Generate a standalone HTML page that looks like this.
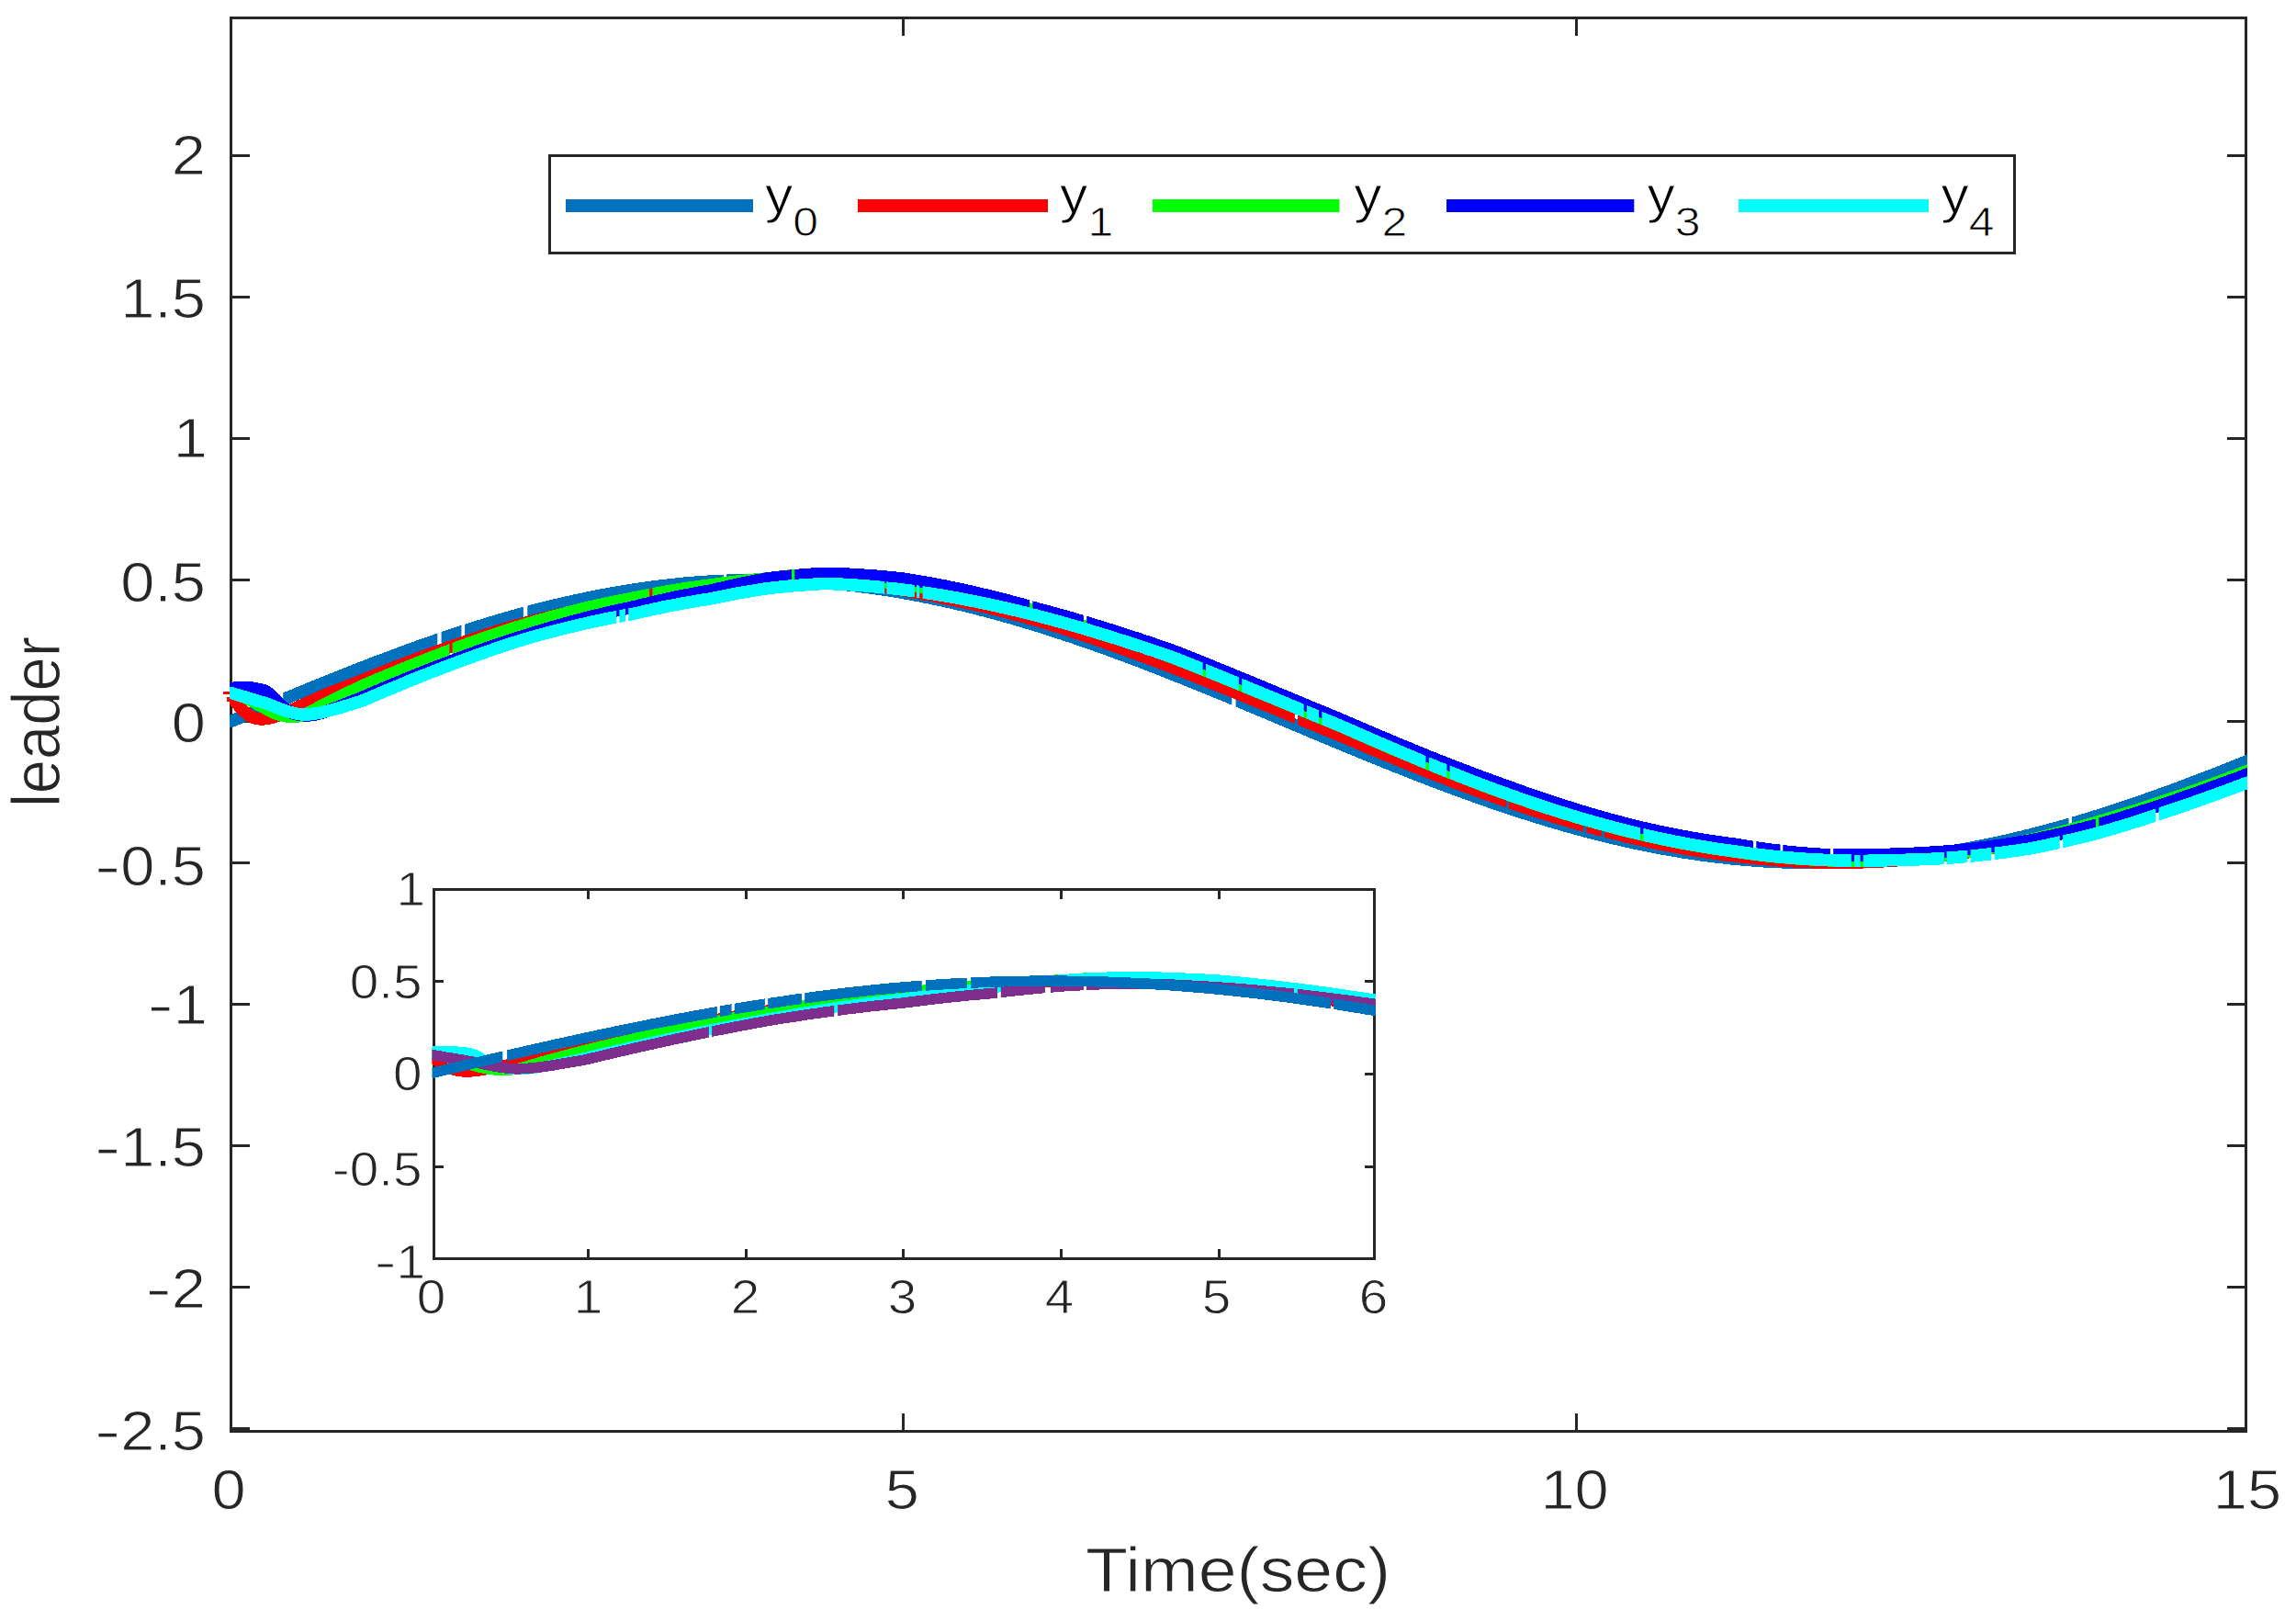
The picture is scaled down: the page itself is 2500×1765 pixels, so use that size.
<!DOCTYPE html>
<html lang="en"><head><meta charset="utf-8"><title>leader - Time(sec)</title>
<style>html,body{margin:0;padding:0;background:#fff}svg{display:block}text{font-family:"Liberation Sans",sans-serif;fill:#262626;stroke:#fff;stroke-width:0.9px}.c{fill:none;stroke-linejoin:round;stroke-linecap:butt}</style></head><body>
<svg width="2500" height="1765" viewBox="0 0 2500 1765">
<rect x="0" y="0" width="2500" height="1765" fill="#ffffff"/>
<defs><clipPath id="cm"><rect x="250" y="21" width="2197" height="1536"/></clipPath><clipPath id="ci"><rect x="470.3" y="970" width="1027.7" height="399"/></clipPath><clipPath id="gm0"><rect x="250.0" y="21" width="54.7" height="1536"/><rect x="308.2" y="21" width="168.1" height="1536"/><rect x="480.6" y="21" width="21.8" height="1536"/><rect x="506.1" y="21" width="63.8" height="1536"/><rect x="574.3" y="21" width="213.6" height="1536"/><rect x="791.2" y="21" width="550.1" height="1536"/><rect x="1345.6" y="21" width="907.0" height="1536"/><rect x="2255.9" y="21" width="191.1" height="1536"/></clipPath><clipPath id="gm1"><rect x="250.0" y="21" width="1159.9" height="1536"/><rect x="1413.1" y="21" width="227.2" height="1536"/><rect x="1642.9" y="21" width="81.1" height="1536"/><rect x="1727.2" y="21" width="16.4" height="1536"/><rect x="1746.8" y="21" width="700.2" height="1536"/></clipPath><clipPath id="gm2"><rect x="250.0" y="21" width="239.4" height="1536"/><rect x="492.6" y="21" width="214.5" height="1536"/><rect x="710.4" y="21" width="1736.6" height="1536"/></clipPath><clipPath id="gm3"><rect x="250.0" y="21" width="612.0" height="1536"/><rect x="865.2" y="21" width="255.9" height="1536"/><rect x="1124.4" y="21" width="55.5" height="1536"/><rect x="1183.2" y="21" width="725.9" height="1536"/><rect x="1912.3" y="21" width="26.2" height="1536"/><rect x="1941.3" y="21" width="51.6" height="1536"/><rect x="1996.2" y="21" width="285.8" height="1536"/><rect x="2285.3" y="21" width="161.7" height="1536"/></clipPath><clipPath id="gm4"><rect x="250.0" y="21" width="421.2" height="1536"/><rect x="674.4" y="21" width="6.6" height="1536"/><rect x="684.2" y="21" width="279.0" height="1536"/><rect x="965.4" y="21" width="30.5" height="1536"/><rect x="998.0" y="21" width="3.3" height="1536"/><rect x="1004.6" y="21" width="305.1" height="1536"/><rect x="1313.0" y="21" width="35.9" height="1536"/><rect x="1352.2" y="21" width="67.5" height="1536"/><rect x="1422.9" y="21" width="13.1" height="1536"/><rect x="1439.3" y="21" width="113.2" height="1536"/><rect x="1555.8" y="21" width="19.6" height="1536"/><rect x="1578.6" y="21" width="207.4" height="1536"/><rect x="1789.3" y="21" width="226.5" height="1536"/><rect x="2019.0" y="21" width="6.6" height="1536"/><rect x="2028.8" y="21" width="88.2" height="1536"/><rect x="2119.6" y="21" width="22.7" height="1536"/><rect x="2145.6" y="21" width="22.8" height="1536"/><rect x="2171.7" y="21" width="71.1" height="1536"/><rect x="2246.1" y="21" width="101.2" height="1536"/><rect x="2350.6" y="21" width="96.4" height="1536"/></clipPath><clipPath id="gi0"><rect x="470.3" y="970" width="77.0" height="399"/><rect x="552.1" y="970" width="228.8" height="399"/><rect x="783.8" y="970" width="12.8" height="399"/><rect x="799.8" y="970" width="33.1" height="399"/><rect x="836.1" y="970" width="36.9" height="399"/><rect x="876.2" y="970" width="127.6" height="399"/><rect x="1008.0" y="970" width="44.9" height="399"/><rect x="1057.1" y="970" width="391.9" height="399"/><rect x="1452.2" y="970" width="45.8" height="399"/></clipPath><clipPath id="gi4"><rect x="470.3" y="970" width="301.6" height="399"/><rect x="775.1" y="970" width="133.2" height="399"/><rect x="912.1" y="970" width="173.9" height="399"/><rect x="1089.8" y="970" width="48.2" height="399"/><rect x="1143.9" y="970" width="36.2" height="399"/><rect x="1182.9" y="970" width="226.0" height="399"/><rect x="1412.8" y="970" width="85.2" height="399"/></clipPath></defs>
<g stroke="#262626" stroke-width="3" fill="none" shape-rendering="crispEdges">
<rect x="251.5" y="19.5" width="2194" height="1539"/>
<line x1="253" y1="169.5" x2="272" y2="169.5"/>
<line x1="2444" y1="169.5" x2="2425" y2="169.5"/>
<line x1="253" y1="323.5" x2="272" y2="323.5"/>
<line x1="2444" y1="323.5" x2="2425" y2="323.5"/>
<line x1="253" y1="477.5" x2="272" y2="477.5"/>
<line x1="2444" y1="477.5" x2="2425" y2="477.5"/>
<line x1="253" y1="631.5" x2="272" y2="631.5"/>
<line x1="2444" y1="631.5" x2="2425" y2="631.5"/>
<line x1="253" y1="785.5" x2="272" y2="785.5"/>
<line x1="2444" y1="785.5" x2="2425" y2="785.5"/>
<line x1="253" y1="939.5" x2="272" y2="939.5"/>
<line x1="2444" y1="939.5" x2="2425" y2="939.5"/>
<line x1="253" y1="1093.5" x2="272" y2="1093.5"/>
<line x1="2444" y1="1093.5" x2="2425" y2="1093.5"/>
<line x1="253" y1="1247.5" x2="272" y2="1247.5"/>
<line x1="2444" y1="1247.5" x2="2425" y2="1247.5"/>
<line x1="253" y1="1401.5" x2="272" y2="1401.5"/>
<line x1="2444" y1="1401.5" x2="2425" y2="1401.5"/>
<line x1="253" y1="1555.5" x2="272" y2="1555.5"/>
<line x1="2444" y1="1555.5" x2="2425" y2="1555.5"/>
<line x1="983.7" y1="1557" x2="983.7" y2="1539"/>
<line x1="983.7" y1="21" x2="983.7" y2="39"/>
<line x1="1716.3" y1="1557" x2="1716.3" y2="1539"/>
<line x1="1716.3" y1="21" x2="1716.3" y2="39"/>
</g>
<g stroke="#262626" stroke-width="3" fill="none" shape-rendering="crispEdges">
<rect x="472" y="968.2" width="1024.5" height="402.4" fill="#ffffff"/>
<line x1="473.5" y1="1068.8" x2="483" y2="1068.8"/>
<line x1="1495" y1="1068.8" x2="1485.5" y2="1068.8"/>
<line x1="473.5" y1="1169.4" x2="483" y2="1169.4"/>
<line x1="1495" y1="1169.4" x2="1485.5" y2="1169.4"/>
<line x1="473.5" y1="1270.0" x2="483" y2="1270.0"/>
<line x1="1495" y1="1270.0" x2="1485.5" y2="1270.0"/>
<line x1="640.5" y1="1369" x2="640.5" y2="1360"/>
<line x1="640.5" y1="970" x2="640.5" y2="979"/>
<line x1="812.1" y1="1369" x2="812.1" y2="1360"/>
<line x1="812.1" y1="970" x2="812.1" y2="979"/>
<line x1="983.8" y1="1369" x2="983.8" y2="1360"/>
<line x1="983.8" y1="970" x2="983.8" y2="979"/>
<line x1="1155.4" y1="1369" x2="1155.4" y2="1360"/>
<line x1="1155.4" y1="970" x2="1155.4" y2="979"/>
<line x1="1327.0" y1="1369" x2="1327.0" y2="1360"/>
<line x1="1327.0" y1="970" x2="1327.0" y2="979"/>
</g>
<g clip-path="url(#cm)" shape-rendering="crispEdges" stroke="none">
<polygon fill="#0072BD" clip-path="url(#gm0)" points="248.4,792.2 252.7,792.1 256.8,790.5 259.8,789.3 262.7,788.0 265.6,786.8 268.6,785.6 271.5,784.3 274.4,783.1 277.3,781.9 280.3,780.6 283.2,779.4 286.1,778.2 289.0,777.0 292.0,775.7 294.9,774.5 297.8,773.3 300.7,772.1 303.7,770.9 306.6,769.6 309.5,768.4 312.4,767.2 315.4,766.0 318.3,764.8 321.2,763.6 324.1,762.4 327.1,761.1 330.0,759.9 332.9,758.7 335.8,757.5 338.8,756.3 341.7,755.1 344.6,753.9 347.5,752.8 350.5,751.6 353.4,750.4 356.3,749.2 359.2,748.0 362.2,746.8 365.1,745.7 368.0,744.5 370.9,743.3 373.8,742.2 376.8,741.0 379.7,739.8 382.6,738.7 385.5,737.5 388.5,736.4 391.4,735.2 394.3,734.1 397.2,733.0 400.1,731.8 403.1,730.7 406.0,729.6 408.9,728.4 411.8,727.3 414.7,726.2 417.7,725.1 420.6,724.0 423.5,722.9 426.4,721.8 429.3,720.7 432.3,719.6 435.2,718.5 438.1,717.5 441.0,716.4 443.9,715.3 446.9,714.3 449.8,713.2 452.7,712.1 455.6,711.1 458.5,710.1 461.4,709.0 464.4,708.0 467.3,707.0 470.2,705.9 473.1,704.9 476.0,703.9 478.9,702.9 481.9,701.9 484.8,700.9 487.7,699.9 490.6,698.9 493.5,698.0 496.4,697.0 499.4,696.0 502.3,695.1 505.2,694.1 508.1,693.2 511.0,692.2 513.9,691.3 516.9,690.4 519.8,689.5 522.7,688.6 525.6,687.7 528.5,686.8 531.4,685.9 534.3,685.0 537.3,684.1 540.2,683.2 543.1,682.4 546.0,681.5 548.9,680.7 551.8,679.8 554.7,679.0 557.7,678.1 560.6,677.3 563.5,676.5 566.4,675.7 569.3,674.9 572.2,674.1 575.1,673.3 578.0,672.5 581.0,671.8 583.9,671.0 586.8,670.3 589.7,669.5 592.6,668.8 595.5,668.0 598.4,667.3 601.3,666.6 604.2,665.9 607.2,665.2 610.1,664.5 613.0,663.8 615.9,663.2 618.8,662.5 621.7,661.8 624.6,661.2 627.5,660.5 630.4,659.9 633.3,659.3 636.3,658.7 639.2,658.1 642.1,657.5 645.0,656.9 647.9,656.3 650.8,655.7 653.7,655.2 656.6,654.6 659.5,654.1 662.4,653.5 665.3,653.0 668.3,652.5 671.2,652.0 674.1,651.5 677.0,651.0 679.9,650.5 682.8,650.0 685.7,649.5 688.6,649.1 691.5,648.6 694.4,648.2 697.3,647.8 700.2,647.4 703.1,646.9 706.1,646.5 709.0,646.1 711.9,645.8 714.8,645.4 717.7,645.0 720.6,644.7 723.5,644.3 726.4,644.0 729.3,643.7 732.2,643.3 735.1,643.0 738.0,642.7 740.9,642.4 743.8,642.2 746.7,641.9 749.7,641.6 752.6,641.4 755.5,641.1 758.4,640.9 761.3,640.7 764.2,640.5 767.1,640.3 770.0,640.1 772.9,639.9 775.8,639.7 778.7,639.6 781.6,639.4 784.5,639.3 787.4,639.1 790.3,639.0 793.2,638.9 796.1,638.8 799.0,638.7 802.0,638.6 804.9,638.5 807.8,638.4 810.7,638.4 813.6,638.3 816.5,638.3 819.4,638.3 822.3,638.3 825.2,638.3 828.1,638.3 831.0,638.3 833.9,638.3 836.8,638.3 839.7,638.4 842.6,638.4 845.5,638.5 848.4,638.5 851.3,638.6 854.2,638.7 857.2,638.8 860.1,638.9 863.0,639.0 865.9,639.2 868.8,639.3 871.7,639.4 874.6,639.6 877.5,639.8 880.4,639.9 883.3,640.1 886.2,640.3 889.1,640.5 892.0,640.8 894.9,641.0 897.8,641.2 900.7,641.5 903.6,641.7 906.6,642.0 909.5,642.2 912.4,642.5 915.3,642.8 918.2,643.1 921.1,643.4 924.0,643.8 926.9,644.1 929.8,644.4 932.7,644.8 935.6,645.1 938.5,645.5 941.4,645.9 944.3,646.3 947.2,646.7 950.2,647.1 953.1,647.5 956.0,647.9 958.9,648.3 961.8,648.8 964.7,649.2 967.6,649.7 970.5,650.2 973.4,650.6 976.3,651.1 979.2,651.6 982.1,652.1 985.0,652.6 988.0,653.2 990.9,653.7 993.8,654.2 996.7,654.8 999.6,655.3 1002.5,655.9 1005.4,656.5 1008.3,657.1 1011.2,657.6 1014.1,658.3 1017.0,658.9 1020.0,659.5 1022.9,660.1 1025.8,660.7 1028.7,661.4 1031.6,662.0 1034.5,662.7 1037.4,663.4 1040.3,664.0 1043.2,664.7 1046.1,665.4 1049.1,666.1 1052.0,666.8 1054.9,667.5 1057.8,668.3 1060.7,669.0 1063.6,669.7 1066.5,670.5 1069.4,671.2 1072.3,672.0 1075.3,672.8 1078.2,673.6 1081.1,674.3 1084.0,675.1 1086.9,675.9 1089.8,676.8 1092.7,677.6 1095.6,678.4 1098.6,679.2 1101.5,680.1 1104.4,680.9 1107.3,681.8 1110.2,682.6 1113.1,683.5 1116.0,684.4 1119.0,685.2 1121.9,686.1 1124.8,687.0 1127.7,687.9 1130.6,688.8 1133.5,689.7 1136.4,690.7 1139.4,691.6 1142.3,692.5 1145.2,693.5 1148.1,694.4 1151.0,695.4 1153.9,696.3 1156.9,697.3 1159.8,698.3 1162.7,699.2 1165.6,700.2 1168.5,701.2 1171.4,702.2 1174.4,703.2 1177.3,704.2 1180.2,705.2 1183.1,706.2 1186.0,707.3 1188.9,708.3 1191.9,709.3 1194.8,710.4 1197.7,711.4 1200.6,712.5 1203.5,713.5 1206.4,714.6 1209.4,715.6 1212.3,716.7 1215.2,717.8 1218.1,718.9 1221.0,719.9 1224.0,721.0 1226.9,722.1 1229.8,723.2 1232.7,724.3 1235.6,725.4 1238.6,726.5 1241.5,727.7 1244.4,728.8 1247.3,729.9 1250.2,731.0 1253.2,732.2 1256.1,733.3 1259.0,734.4 1261.9,735.6 1264.8,736.7 1267.8,737.9 1270.7,739.0 1273.6,740.2 1276.5,741.3 1279.5,742.5 1282.4,743.7 1285.3,744.8 1288.2,746.0 1291.1,747.2 1294.1,748.4 1297.0,749.6 1299.9,750.7 1302.8,751.9 1305.8,753.1 1308.7,754.3 1311.6,755.5 1314.5,756.7 1317.5,757.9 1320.4,759.1 1323.3,760.3 1326.2,761.5 1329.2,762.7 1332.1,763.9 1335.0,765.1 1337.9,766.3 1340.9,767.6 1343.8,768.8 1346.7,770.0 1349.6,771.2 1352.6,772.4 1355.5,773.7 1358.4,774.9 1361.3,776.1 1364.3,777.3 1367.2,778.6 1370.1,779.8 1373.0,781.0 1376.0,782.2 1378.9,783.5 1381.8,784.7 1384.7,785.9 1387.7,787.2 1390.6,788.4 1393.5,789.6 1396.5,790.9 1399.4,792.1 1402.3,793.3 1405.2,794.6 1408.2,795.8 1411.1,797.0 1414.0,798.3 1417.0,799.5 1419.9,800.7 1422.8,801.9 1425.7,803.2 1428.7,804.4 1431.6,805.6 1434.5,806.9 1437.5,808.1 1440.4,809.3 1443.3,810.5 1446.3,811.8 1449.2,813.0 1452.1,814.2 1455.0,815.4 1458.0,816.6 1460.9,817.9 1463.8,819.1 1466.8,820.3 1469.7,821.5 1472.6,822.7 1475.6,823.9 1478.5,825.1 1481.4,826.3 1484.4,827.5 1487.3,828.7 1490.2,829.9 1493.2,831.1 1496.1,832.3 1499.0,833.5 1502.0,834.7 1504.9,835.9 1507.8,837.0 1510.8,838.2 1513.7,839.4 1516.6,840.6 1519.6,841.7 1522.5,842.9 1525.4,844.1 1528.4,845.2 1531.3,846.4 1534.2,847.5 1537.2,848.7 1540.1,849.8 1543.0,851.0 1546.0,852.1 1548.9,853.2 1551.8,854.4 1554.8,855.5 1557.7,856.6 1560.6,857.7 1563.6,858.9 1566.5,860.0 1569.5,861.1 1572.4,862.2 1575.3,863.3 1578.3,864.4 1581.2,865.4 1584.1,866.5 1587.1,867.6 1590.0,868.7 1592.9,869.8 1595.9,870.8 1598.8,871.9 1601.8,872.9 1604.7,874.0 1607.6,875.0 1610.6,876.1 1613.5,877.1 1616.5,878.1 1619.4,879.1 1622.3,880.2 1625.3,881.2 1628.2,882.2 1631.1,883.2 1634.1,884.2 1637.0,885.1 1640.0,886.1 1642.9,887.1 1645.8,888.1 1648.8,889.0 1651.7,890.0 1654.7,890.9 1657.6,891.9 1660.6,892.8 1663.5,893.8 1666.4,894.7 1669.4,895.6 1672.3,896.5 1675.3,897.4 1678.2,898.3 1681.1,899.2 1684.1,900.1 1687.0,901.0 1690.0,901.8 1692.9,902.7 1695.9,903.6 1698.8,904.4 1701.7,905.3 1704.7,906.1 1707.6,906.9 1710.6,907.7 1713.5,908.6 1716.5,909.4 1719.4,910.2 1722.3,911.0 1725.3,911.7 1728.2,912.5 1731.2,913.3 1734.1,914.0 1737.1,914.8 1740.0,915.5 1743.0,916.3 1745.9,917.0 1748.8,917.7 1751.8,918.4 1754.7,919.1 1757.7,919.8 1760.6,920.5 1763.6,921.2 1766.5,921.9 1769.5,922.5 1772.4,923.2 1775.4,923.8 1778.3,924.5 1781.2,925.1 1784.2,925.7 1787.1,926.3 1790.1,926.9 1793.0,927.5 1796.0,928.1 1798.9,928.7 1801.9,929.3 1804.8,929.8 1807.8,930.4 1810.7,930.9 1813.7,931.5 1816.6,932.0 1819.6,932.5 1822.5,933.0 1825.5,933.5 1828.4,934.0 1831.3,934.5 1834.3,934.9 1837.2,935.4 1840.2,935.8 1843.1,936.3 1846.1,936.7 1849.0,937.1 1852.0,937.6 1854.9,938.0 1857.9,938.4 1860.8,938.7 1863.8,939.1 1866.7,939.5 1869.7,939.8 1872.6,940.2 1875.6,940.5 1878.5,940.9 1881.5,941.2 1884.4,941.5 1887.4,941.8 1890.3,942.1 1893.3,942.4 1896.2,942.6 1899.2,942.9 1902.1,943.1 1905.1,943.4 1908.0,943.6 1911.0,943.8 1913.9,944.1 1916.9,944.3 1919.8,944.5 1922.8,944.6 1925.7,944.8 1928.7,945.0 1931.6,945.1 1934.6,945.3 1937.5,945.4 1940.5,945.5 1943.4,945.6 1946.4,945.7 1949.3,945.8 1952.3,945.9 1955.2,946.0 1958.2,946.1 1961.1,946.1 1964.1,946.2 1967.0,946.2 1970.0,946.2 1972.9,946.2 1975.9,946.2 1978.8,946.2 1981.8,946.2 1984.7,946.2 1987.7,946.2 1990.6,946.1 1993.6,946.1 1996.5,946.0 1999.5,945.9 2002.4,945.9 2005.4,945.8 2008.3,945.7 2011.3,945.5 2014.2,945.4 2017.2,945.3 2020.2,945.1 2023.1,945.0 2026.1,944.8 2029.0,944.7 2032.0,944.5 2034.9,944.3 2037.9,944.1 2040.8,943.9 2043.8,943.6 2046.7,943.4 2049.7,943.2 2052.6,942.9 2055.6,942.7 2058.5,942.4 2061.5,942.1 2064.4,941.8 2067.4,941.5 2070.3,941.2 2073.3,940.9 2076.2,940.6 2079.2,940.2 2082.1,939.9 2085.0,939.5 2088.0,939.2 2090.9,938.8 2093.9,938.4 2096.8,938.0 2099.8,937.6 2102.7,937.2 2105.7,936.8 2108.6,936.3 2111.6,935.9 2114.5,935.4 2117.5,935.0 2120.4,934.5 2123.4,934.0 2126.3,933.5 2129.3,933.0 2132.2,932.5 2135.2,932.0 2138.1,931.5 2141.1,931.0 2144.0,930.4 2147.0,929.9 2149.9,929.3 2152.9,928.8 2155.8,928.2 2158.8,927.6 2161.7,927.0 2164.6,926.4 2167.6,925.8 2170.5,925.2 2173.5,924.5 2176.4,923.9 2179.4,923.3 2182.3,922.6 2185.3,921.9 2188.2,921.3 2191.2,920.6 2194.1,919.9 2197.1,919.2 2200.0,918.5 2202.9,917.8 2205.9,917.1 2208.8,916.3 2211.8,915.6 2214.7,914.9 2217.7,914.1 2220.6,913.4 2223.6,912.6 2226.5,911.8 2229.4,911.0 2232.4,910.2 2235.3,909.4 2238.3,908.6 2241.2,907.8 2244.2,907.0 2247.1,906.2 2250.0,905.3 2253.0,904.5 2255.9,903.6 2258.9,902.8 2261.8,901.9 2264.8,901.1 2267.7,900.2 2270.6,899.3 2273.6,898.4 2276.5,897.5 2279.5,896.6 2282.4,895.7 2285.3,894.8 2288.3,893.9 2291.2,892.9 2294.2,892.0 2297.1,891.0 2300.1,890.1 2303.0,889.1 2305.9,888.2 2308.9,887.2 2311.8,886.2 2314.8,885.2 2317.7,884.3 2320.6,883.3 2323.6,882.3 2326.5,881.3 2329.5,880.3 2332.4,879.2 2335.3,878.2 2338.3,877.2 2341.2,876.2 2344.1,875.1 2347.1,874.1 2350.0,873.0 2353.0,872.0 2355.9,870.9 2358.8,869.9 2361.8,868.8 2364.7,867.7 2367.6,866.6 2370.6,865.6 2373.5,864.5 2376.5,863.4 2379.4,862.3 2382.3,861.2 2385.3,860.1 2388.2,859.0 2391.1,857.8 2394.1,856.7 2397.0,855.6 2399.9,854.5 2402.9,853.4 2405.8,852.2 2408.8,851.1 2411.7,849.9 2414.6,848.8 2417.6,847.6 2420.5,846.5 2423.4,845.3 2426.4,844.2 2429.3,843.0 2432.2,841.8 2435.2,840.7 2438.1,839.5 2441.0,838.3 2444.0,837.2 2446.9,836.0 2449.8,834.8 2452.8,833.6 2455.7,832.4 2458.6,831.2 2461.6,830.0 2464.5,828.8 2459.4,816.3 2456.5,817.5 2453.5,818.7 2450.6,819.9 2447.7,821.1 2444.8,822.3 2441.8,823.5 2438.9,824.6 2436.0,825.8 2433.1,827.0 2430.2,828.1 2427.2,829.3 2424.3,830.5 2421.4,831.6 2418.5,832.8 2415.5,833.9 2412.6,835.1 2409.7,836.2 2406.8,837.4 2403.9,838.5 2400.9,839.6 2398.0,840.8 2395.1,841.9 2392.2,843.0 2389.3,844.1 2386.3,845.2 2383.4,846.3 2380.5,847.4 2377.6,848.5 2374.7,849.6 2371.7,850.7 2368.8,851.8 2365.9,852.9 2363.0,854.0 2360.1,855.0 2357.1,856.1 2354.2,857.2 2351.3,858.2 2348.4,859.3 2345.5,860.3 2342.6,861.4 2339.6,862.4 2336.7,863.4 2333.8,864.4 2330.9,865.5 2328.0,866.5 2325.1,867.5 2322.1,868.5 2319.2,869.5 2316.3,870.5 2313.4,871.5 2310.5,872.4 2307.6,873.4 2304.6,874.4 2301.7,875.3 2298.8,876.3 2295.9,877.2 2293.0,878.2 2290.1,879.1 2287.1,880.1 2284.2,881.0 2281.3,881.9 2278.4,882.8 2275.5,883.7 2272.6,884.6 2269.7,885.5 2266.7,886.4 2263.8,887.2 2260.9,888.1 2258.0,889.0 2255.1,889.8 2252.2,890.7 2249.3,891.5 2246.3,892.4 2243.4,893.2 2240.5,894.0 2237.6,894.8 2234.7,895.6 2231.8,896.4 2228.9,897.2 2226.0,898.0 2223.0,898.8 2220.1,899.5 2217.2,900.3 2214.3,901.0 2211.4,901.8 2208.5,902.5 2205.6,903.2 2202.7,904.0 2199.8,904.7 2196.8,905.4 2193.9,906.1 2191.0,906.8 2188.1,907.4 2185.2,908.1 2182.3,908.8 2179.4,909.4 2176.5,910.1 2173.6,910.7 2170.7,911.3 2167.7,912.0 2164.8,912.6 2161.9,913.2 2159.0,913.8 2156.1,914.4 2153.2,914.9 2150.3,915.5 2147.4,916.1 2144.5,916.6 2141.6,917.2 2138.7,917.7 2135.7,918.2 2132.8,918.7 2129.9,919.2 2127.0,919.7 2124.1,920.2 2121.2,920.7 2118.3,921.2 2115.4,921.6 2112.5,922.1 2109.6,922.5 2106.7,923.0 2103.8,923.4 2100.8,923.8 2097.9,924.2 2095.0,924.6 2092.1,925.0 2089.2,925.4 2086.3,925.8 2083.4,926.1 2080.5,926.5 2077.6,926.8 2074.7,927.1 2071.8,927.5 2068.9,927.8 2066.0,928.1 2063.1,928.4 2060.2,928.7 2057.2,928.9 2054.3,929.2 2051.4,929.5 2048.5,929.7 2045.6,930.0 2042.7,930.2 2039.8,930.4 2036.9,930.6 2034.0,930.8 2031.1,931.0 2028.2,931.2 2025.3,931.3 2022.4,931.5 2019.5,931.7 2016.6,931.8 2013.7,931.9 2010.8,932.1 2007.9,932.2 2004.9,932.3 2002.0,932.4 1999.1,932.4 1996.2,932.5 1993.3,932.6 1990.4,932.6 1987.5,932.7 1984.6,932.7 1981.7,932.7 1978.8,932.7 1975.9,932.7 1973.0,932.7 1970.1,932.7 1967.2,932.7 1964.3,932.7 1961.4,932.6 1958.5,932.6 1955.6,932.5 1952.7,932.4 1949.7,932.3 1946.8,932.3 1943.9,932.2 1941.0,932.0 1938.1,931.9 1935.2,931.8 1932.3,931.6 1929.4,931.5 1926.5,931.3 1923.6,931.2 1920.7,931.0 1917.8,930.8 1914.9,930.6 1912.0,930.4 1909.1,930.2 1906.2,929.9 1903.3,929.7 1900.3,929.4 1897.4,929.2 1894.5,928.9 1891.6,928.6 1888.7,928.4 1885.8,928.1 1882.9,927.8 1880.0,927.4 1877.1,927.1 1874.2,926.8 1871.3,926.4 1868.4,926.1 1865.5,925.7 1862.6,925.4 1859.7,925.0 1856.8,924.6 1853.8,924.2 1850.9,923.8 1848.0,923.4 1845.1,922.9 1842.2,922.5 1839.3,922.0 1836.4,921.6 1833.5,921.1 1830.6,920.7 1827.7,920.2 1824.8,919.7 1821.9,919.2 1819.0,918.7 1816.0,918.2 1813.1,917.6 1810.2,917.1 1807.3,916.6 1804.4,916.0 1801.5,915.4 1798.6,914.9 1795.7,914.3 1792.8,913.7 1789.9,913.1 1787.0,912.5 1784.0,911.9 1781.1,911.3 1778.2,910.6 1775.3,910.0 1772.4,909.4 1769.5,908.7 1766.6,908.0 1763.7,907.4 1760.8,906.7 1757.9,906.0 1754.9,905.3 1752.0,904.6 1749.1,903.9 1746.2,903.2 1743.3,902.4 1740.4,901.7 1737.5,901.0 1734.6,900.2 1731.7,899.5 1728.7,898.7 1725.8,897.9 1722.9,897.1 1720.0,896.3 1717.1,895.5 1714.2,894.7 1711.3,893.9 1708.4,893.1 1705.4,892.3 1702.5,891.4 1699.6,890.6 1696.7,889.8 1693.8,888.9 1690.9,888.0 1688.0,887.2 1685.0,886.3 1682.1,885.4 1679.2,884.5 1676.3,883.6 1673.4,882.7 1670.5,881.8 1667.6,880.9 1664.6,880.0 1661.7,879.0 1658.8,878.1 1655.9,877.2 1653.0,876.2 1650.1,875.3 1647.1,874.3 1644.2,873.3 1641.3,872.3 1638.4,871.4 1635.5,870.4 1632.6,869.4 1629.6,868.4 1626.7,867.4 1623.8,866.4 1620.9,865.4 1618.0,864.3 1615.1,863.3 1612.1,862.3 1609.2,861.3 1606.3,860.2 1603.4,859.2 1600.5,858.1 1597.6,857.1 1594.6,856.0 1591.7,854.9 1588.8,853.9 1585.9,852.8 1583.0,851.7 1580.0,850.6 1577.1,849.5 1574.2,848.4 1571.3,847.3 1568.4,846.2 1565.4,845.1 1562.5,844.0 1559.6,842.9 1556.7,841.8 1553.8,840.6 1550.8,839.5 1547.9,838.4 1545.0,837.2 1542.1,836.1 1539.2,835.0 1536.2,833.8 1533.3,832.7 1530.4,831.5 1527.5,830.4 1524.5,829.2 1521.6,828.0 1518.7,826.9 1515.8,825.7 1512.9,824.5 1509.9,823.3 1507.0,822.2 1504.1,821.0 1501.2,819.8 1498.2,818.6 1495.3,817.4 1492.4,816.2 1489.5,815.0 1486.5,813.8 1483.6,812.6 1480.7,811.4 1477.8,810.2 1474.9,809.0 1471.9,807.8 1469.0,806.6 1466.1,805.4 1463.2,804.2 1460.2,803.0 1457.3,801.7 1454.4,800.5 1451.5,799.3 1448.5,798.1 1445.6,796.9 1442.7,795.6 1439.7,794.4 1436.8,793.2 1433.9,792.0 1431.0,790.7 1428.0,789.5 1425.1,788.3 1422.2,787.0 1419.3,785.8 1416.3,784.6 1413.4,783.3 1410.5,782.1 1407.5,780.9 1404.6,779.6 1401.7,778.4 1398.8,777.2 1395.8,776.0 1392.9,774.7 1390.0,773.5 1387.1,772.3 1384.1,771.0 1381.2,769.8 1378.3,768.6 1375.3,767.3 1372.4,766.1 1369.5,764.9 1366.5,763.7 1363.6,762.4 1360.7,761.2 1357.8,760.0 1354.8,758.8 1351.9,757.5 1349.0,756.3 1346.0,755.1 1343.1,753.9 1340.2,752.7 1337.2,751.5 1334.3,750.2 1331.4,749.0 1328.4,747.8 1325.5,746.6 1322.6,745.4 1319.7,744.2 1316.7,743.0 1313.8,741.8 1310.9,740.6 1307.9,739.4 1305.0,738.2 1302.1,737.0 1299.1,735.9 1296.2,734.7 1293.3,733.5 1290.3,732.3 1287.4,731.1 1284.5,730.0 1281.5,728.8 1278.6,727.6 1275.7,726.5 1272.7,725.3 1269.8,724.2 1266.9,723.0 1263.9,721.9 1261.0,720.7 1258.0,719.6 1255.1,718.4 1252.2,717.3 1249.2,716.2 1246.3,715.1 1243.4,713.9 1240.4,712.8 1237.5,711.7 1234.6,710.6 1231.6,709.5 1228.7,708.4 1225.8,707.3 1222.8,706.2 1219.9,705.1 1216.9,704.0 1214.0,703.0 1211.1,701.9 1208.1,700.8 1205.2,699.8 1202.3,698.7 1199.3,697.7 1196.4,696.6 1193.4,695.6 1190.5,694.5 1187.6,693.5 1184.6,692.5 1181.7,691.5 1178.7,690.4 1175.8,689.4 1172.9,688.4 1169.9,687.4 1167.0,686.4 1164.0,685.5 1161.1,684.5 1158.2,683.5 1155.2,682.5 1152.3,681.6 1149.3,680.6 1146.4,679.7 1143.5,678.7 1140.5,677.8 1137.6,676.9 1134.6,675.9 1131.7,675.0 1128.8,674.1 1125.8,673.2 1122.9,672.3 1119.9,671.4 1117.0,670.6 1114.0,669.7 1111.1,668.8 1108.2,667.9 1105.2,667.1 1102.3,666.2 1099.3,665.4 1096.4,664.6 1093.5,663.8 1090.5,662.9 1087.6,662.1 1084.6,661.3 1081.7,660.5 1078.7,659.7 1075.8,659.0 1072.8,658.2 1069.9,657.4 1067.0,656.7 1064.0,655.9 1061.1,655.2 1058.1,654.4 1055.2,653.7 1052.2,653.0 1049.3,652.3 1046.3,651.6 1043.4,650.9 1040.5,650.2 1037.5,649.5 1034.6,648.9 1031.6,648.2 1028.7,647.6 1025.7,646.9 1022.8,646.3 1019.8,645.7 1016.9,645.0 1013.9,644.4 1011.0,643.8 1008.0,643.2 1005.1,642.7 1002.1,642.1 999.2,641.5 996.3,641.0 993.3,640.4 990.4,639.9 987.4,639.3 984.5,638.8 981.5,638.3 978.6,637.8 975.6,637.3 972.7,636.8 969.7,636.4 966.8,635.9 963.8,635.4 960.9,635.0 957.9,634.5 955.0,634.1 952.0,633.7 949.1,633.3 946.1,632.9 943.2,632.5 940.2,632.1 937.3,631.7 934.3,631.4 931.4,631.0 928.4,630.7 925.5,630.3 922.5,630.0 919.6,629.7 916.6,629.4 913.7,629.1 910.7,628.8 907.8,628.5 904.8,628.3 901.9,628.0 898.9,627.8 896.0,627.5 893.0,627.3 890.1,627.1 887.1,626.9 884.2,626.7 881.2,626.5 878.3,626.3 875.3,626.1 872.4,626.0 869.4,625.8 866.5,625.7 863.5,625.5 860.6,625.4 857.6,625.3 854.7,625.2 851.7,625.1 848.8,625.0 845.8,625.0 842.9,624.9 839.9,624.9 837.0,624.8 834.0,624.8 831.1,624.8 828.1,624.8 825.2,624.8 822.2,624.8 819.3,624.8 816.3,624.8 813.4,624.8 810.4,624.9 807.5,625.0 804.5,625.0 801.6,625.1 798.6,625.2 795.7,625.3 792.7,625.4 789.8,625.5 786.8,625.6 783.9,625.8 780.9,625.9 778.0,626.1 775.0,626.2 772.1,626.4 769.1,626.6 766.2,626.8 763.2,627.0 760.3,627.2 757.3,627.4 754.4,627.7 751.4,627.9 748.5,628.2 745.5,628.4 742.6,628.7 739.6,629.0 736.7,629.3 733.7,629.6 730.8,629.9 727.8,630.2 724.9,630.6 721.9,630.9 719.0,631.3 716.0,631.6 713.1,632.0 710.1,632.4 707.2,632.8 704.2,633.2 701.3,633.6 698.3,634.0 695.4,634.4 692.4,634.8 689.5,635.3 686.5,635.7 683.6,636.2 680.6,636.7 677.7,637.2 674.7,637.7 671.8,638.2 668.8,638.7 665.9,639.2 663.0,639.7 660.0,640.2 657.1,640.8 654.1,641.3 651.2,641.9 648.2,642.5 645.3,643.1 642.3,643.6 639.4,644.2 636.4,644.8 633.5,645.5 630.5,646.1 627.6,646.7 624.6,647.4 621.7,648.0 618.7,648.7 615.8,649.3 612.9,650.0 609.9,650.7 607.0,651.4 604.0,652.1 601.1,652.8 598.1,653.5 595.2,654.2 592.2,655.0 589.3,655.7 586.4,656.4 583.4,657.2 580.5,658.0 577.5,658.7 574.6,659.5 571.6,660.3 568.7,661.1 565.7,661.9 562.8,662.7 559.9,663.5 556.9,664.3 554.0,665.2 551.0,666.0 548.1,666.8 545.1,667.7 542.2,668.5 539.3,669.4 536.3,670.3 533.4,671.2 530.4,672.1 527.5,672.9 524.5,673.9 521.6,674.8 518.7,675.7 515.7,676.6 512.8,677.5 509.8,678.5 506.9,679.4 504.0,680.3 501.0,681.3 498.1,682.3 495.1,683.2 492.2,684.2 489.3,685.2 486.3,686.1 483.4,687.1 480.4,688.1 477.5,689.1 474.6,690.1 471.6,691.2 468.7,692.2 465.7,693.2 462.8,694.2 459.9,695.3 456.9,696.3 454.0,697.3 451.1,698.4 448.1,699.4 445.2,700.5 442.2,701.6 439.3,702.6 436.4,703.7 433.4,704.8 430.5,705.9 427.6,707.0 424.6,708.1 421.7,709.2 418.7,710.3 415.8,711.4 412.9,712.5 409.9,713.6 407.0,714.7 404.1,715.8 401.1,717.0 398.2,718.1 395.3,719.2 392.3,720.4 389.4,721.5 386.5,722.7 383.5,723.8 380.6,725.0 377.7,726.1 374.7,727.3 371.8,728.5 368.9,729.6 365.9,730.8 363.0,732.0 360.0,733.1 357.1,734.3 354.2,735.5 351.2,736.7 348.3,737.9 345.4,739.1 342.5,740.3 339.5,741.4 336.6,742.6 333.7,743.8 330.7,745.0 327.8,746.3 324.9,747.5 321.9,748.7 319.0,749.9 316.1,751.1 313.1,752.3 310.2,753.5 307.3,754.7 304.3,755.9 301.4,757.2 298.5,758.4 295.5,759.6 292.6,760.8 289.7,762.1 286.8,763.3 283.8,764.5 280.9,765.7 278.0,767.0 275.0,768.2 272.1,769.4 269.2,770.7 266.3,771.9 263.3,773.1 260.4,774.4 257.5,775.6 254.5,776.8 251.6,778.0 249.9,778.9 248.4,778.8"/>
<polygon fill="#FF0000" clip-path="url(#gm1)" points="248.4,766.1 248.2,765.3 249.3,767.1 252.3,770.1 255.2,773.2 258.2,776.4 261.3,779.4 264.6,782.4 268.2,785.0 272.1,787.1 275.9,788.4 279.5,789.2 283.1,789.6 286.8,789.6 290.2,789.2 293.3,788.8 296.8,788.1 300.2,787.2 303.3,786.1 306.3,785.0 309.3,783.9 312.4,782.7 315.5,781.4 318.5,780.0 321.5,778.7 324.4,777.3 327.3,776.0 330.2,774.7 333.2,773.3 336.1,772.0 339.0,770.7 341.9,769.4 344.9,768.0 347.8,766.7 350.7,765.4 353.6,764.0 356.4,762.8 359.2,761.7 362.1,760.6 365.0,759.4 367.9,758.3 370.9,757.1 373.8,756.0 376.7,754.9 379.7,753.7 382.6,752.6 385.5,751.4 388.4,750.3 391.4,749.1 394.4,748.0 397.3,746.8 400.2,745.6 403.1,744.4 406.1,743.2 409.0,742.1 411.9,740.9 414.8,739.7 417.7,738.6 420.7,737.4 423.6,736.3 426.5,735.1 429.4,734.0 432.3,732.9 435.3,731.7 438.2,730.6 441.1,729.5 444.0,728.4 446.9,727.3 449.9,726.2 452.8,725.1 455.7,724.0 458.6,722.9 461.5,721.8 464.5,720.7 467.4,719.6 470.3,718.6 473.2,717.5 476.1,716.5 479.0,715.4 482.0,714.4 484.9,713.3 487.8,712.3 490.7,711.3 493.6,710.2 496.5,709.2 499.5,708.2 502.4,707.2 505.3,706.2 508.2,705.2 511.1,704.2 514.0,703.3 516.9,702.3 519.9,701.3 522.8,700.4 525.7,699.4 528.6,698.5 531.5,697.5 534.4,696.6 537.4,695.7 540.3,694.7 543.2,693.8 546.1,692.9 549.0,692.0 551.9,691.1 554.8,690.3 557.7,689.4 560.7,688.5 563.6,687.7 566.5,686.8 569.3,686.0 572.2,685.2 575.1,684.4 578.0,683.7 580.9,682.9 583.8,682.1 586.8,681.4 589.7,680.7 592.6,679.9 595.5,679.2 598.4,678.5 601.3,677.8 604.2,677.1 607.1,676.4 610.1,675.7 613.0,675.0 615.9,674.4 618.8,673.7 621.7,673.1 624.6,672.4 627.5,671.8 630.5,671.1 633.4,670.5 636.4,669.8 639.3,669.1 642.3,668.4 645.2,667.7 648.1,667.1 651.0,666.4 653.9,665.8 656.8,665.1 659.7,664.5 662.6,663.9 665.5,663.3 668.4,662.7 671.3,662.1 674.3,661.5 677.2,660.9 680.1,660.3 683.0,659.8 685.9,659.2 688.8,658.7 691.8,658.1 694.8,657.5 697.7,656.9 700.6,656.3 703.5,655.7 706.4,655.2 709.3,654.6 712.3,654.0 715.2,653.5 718.1,653.0 721.0,652.4 723.9,651.9 726.8,651.4 729.7,650.9 732.6,650.4 735.5,649.9 738.4,649.5 741.3,649.0 744.2,648.6 747.1,648.1 750.0,647.7 752.9,647.3 755.9,646.9 758.8,646.5 761.7,646.1 764.6,645.7 767.5,645.3 770.4,644.9 773.3,644.6 776.2,644.2 779.1,643.9 782.0,643.6 784.9,643.3 787.8,643.0 790.7,642.7 793.6,642.4 796.5,642.1 799.4,641.8 802.3,641.6 805.3,641.3 808.2,641.1 811.1,640.8 814.0,640.6 816.9,640.4 819.8,640.2 822.7,640.0 825.6,639.9 828.5,639.7 831.4,639.5 834.3,639.4 837.1,639.2 839.9,639.2 842.8,639.2 845.7,639.1 848.6,639.1 851.5,639.1 854.4,639.1 857.4,639.1 860.3,639.1 863.2,639.2 866.1,639.2 869.0,639.3 871.9,639.3 874.8,639.4 877.7,639.5 880.6,639.6 883.5,639.7 886.4,639.8 889.3,639.9 892.2,640.0 895.1,640.2 898.0,640.3 900.9,640.5 903.8,640.7 906.7,640.8 909.6,641.0 912.6,641.2 915.5,641.4 918.4,641.7 921.3,641.9 924.2,642.1 927.1,642.4 930.0,642.6 932.9,642.9 935.8,643.2 938.7,643.5 941.6,643.7 944.5,644.1 947.4,644.4 950.3,644.7 953.2,645.0 956.2,645.4 959.1,645.7 961.9,646.1 964.8,646.5 967.6,646.9 970.5,647.3 973.4,647.8 976.4,648.3 979.3,648.8 982.2,649.3 985.1,649.8 988.0,650.3 990.9,650.8 993.8,651.3 996.7,651.8 999.6,652.4 1002.5,652.9 1005.4,653.5 1008.3,654.1 1011.3,654.6 1014.2,655.2 1017.1,655.8 1020.0,656.4 1022.9,657.0 1025.9,657.7 1028.8,658.3 1031.8,658.8 1034.7,659.4 1037.6,660.0 1040.5,660.6 1043.4,661.2 1046.3,661.8 1049.2,662.5 1052.1,663.1 1055.0,663.7 1058.0,664.4 1060.9,665.0 1063.8,665.7 1066.7,666.4 1069.6,667.1 1072.5,667.7 1075.4,668.4 1078.3,669.1 1081.2,669.8 1084.2,670.6 1087.1,671.3 1090.0,672.0 1092.9,672.8 1095.8,673.5 1098.7,674.3 1101.6,675.0 1104.5,675.8 1107.5,676.6 1110.4,677.4 1113.3,678.1 1116.2,678.9 1119.1,679.7 1122.0,680.6 1124.9,681.4 1127.9,682.2 1130.7,683.0 1133.6,683.9 1136.5,684.8 1139.4,685.7 1142.3,686.6 1145.3,687.5 1148.2,688.4 1151.1,689.3 1154.0,690.2 1156.9,691.2 1159.8,692.1 1162.7,693.1 1165.7,694.0 1168.6,695.0 1171.5,695.9 1174.4,696.9 1177.3,697.9 1180.2,698.9 1183.2,699.8 1186.1,700.8 1189.0,701.8 1191.9,702.8 1194.8,703.8 1197.8,704.9 1200.7,705.9 1203.6,706.9 1206.5,707.9 1209.4,709.0 1212.3,710.0 1215.3,711.0 1218.2,712.1 1221.1,713.1 1224.0,714.2 1226.9,715.3 1229.9,716.3 1232.8,717.4 1235.7,718.5 1238.6,719.6 1241.5,720.6 1244.5,721.7 1247.4,722.8 1250.3,723.9 1253.2,725.0 1256.1,726.1 1259.1,727.2 1262.0,728.3 1264.9,729.5 1267.8,730.6 1270.7,731.7 1273.7,732.8 1276.6,733.9 1279.5,735.1 1282.4,736.2 1285.3,737.4 1288.3,738.5 1291.2,739.7 1294.1,740.8 1297.0,742.0 1300.0,743.1 1302.9,744.3 1305.8,745.5 1308.7,746.6 1311.7,747.8 1314.6,749.0 1317.5,750.2 1320.4,751.3 1323.4,752.5 1326.3,753.7 1329.2,754.9 1332.1,756.1 1335.0,757.2 1338.0,758.4 1340.9,759.6 1343.8,760.8 1346.7,762.0 1349.7,763.2 1352.6,764.4 1355.5,765.6 1358.5,766.8 1361.4,768.0 1364.3,769.2 1367.2,770.4 1370.2,771.6 1373.1,772.8 1376.0,774.0 1378.9,775.2 1381.9,776.4 1384.8,777.6 1387.7,778.8 1390.6,780.0 1393.6,781.2 1396.5,782.4 1399.4,783.7 1402.4,784.9 1405.3,786.1 1408.2,787.3 1411.1,788.5 1414.1,789.7 1417.0,790.9 1419.9,792.1 1422.9,793.3 1425.8,794.5 1428.7,795.7 1431.6,796.9 1434.6,798.1 1437.5,799.3 1440.4,800.5 1443.4,801.7 1446.3,802.9 1449.2,804.1 1452.2,805.3 1455.1,806.5 1457.9,807.7 1460.8,808.9 1463.8,810.2 1466.7,811.4 1469.6,812.7 1472.6,813.9 1475.5,815.2 1478.4,816.4 1481.4,817.7 1484.3,818.9 1487.2,820.1 1490.2,821.4 1493.1,822.6 1496.0,823.8 1499.0,825.0 1501.9,826.3 1504.8,827.5 1507.8,828.7 1510.7,829.9 1513.6,831.1 1516.6,832.3 1519.5,833.5 1522.4,834.7 1525.4,835.9 1528.3,837.1 1531.2,838.3 1534.2,839.5 1537.1,840.7 1540.0,841.9 1543.0,843.0 1545.9,844.2 1548.8,845.4 1551.8,846.5 1554.7,847.7 1557.6,848.9 1560.6,850.0 1563.5,851.2 1566.5,852.3 1569.4,853.4 1572.3,854.6 1575.3,855.7 1578.2,856.8 1581.1,858.0 1584.1,859.1 1587.0,860.2 1589.9,861.3 1592.9,862.4 1595.8,863.5 1598.8,864.6 1601.7,865.7 1604.6,866.8 1607.6,867.8 1610.5,868.9 1613.4,870.0 1616.4,871.0 1619.3,872.1 1622.3,873.1 1625.2,874.2 1628.1,875.2 1631.1,876.3 1634.0,877.3 1637.0,878.3 1639.9,879.3 1642.8,880.3 1645.8,881.3 1648.7,882.3 1651.7,883.3 1654.6,884.3 1657.5,885.3 1660.5,886.3 1663.4,887.3 1666.4,888.2 1669.3,889.2 1672.2,890.1 1675.2,891.1 1678.1,892.0 1681.1,892.9 1684.0,893.9 1687.0,894.8 1689.9,895.7 1692.8,896.6 1695.8,897.5 1698.7,898.4 1701.7,899.2 1704.6,900.1 1707.5,901.0 1710.5,901.8 1713.4,902.7 1716.4,903.5 1719.3,904.4 1722.3,905.2 1725.2,906.0 1728.2,906.8 1731.1,907.6 1734.0,908.4 1737.0,909.2 1739.9,910.0 1742.9,910.8 1745.8,911.5 1748.8,912.3 1751.7,913.0 1754.7,913.8 1757.6,914.5 1760.5,915.2 1763.5,916.0 1766.4,916.7 1769.4,917.4 1772.3,918.1 1775.3,918.7 1778.2,919.4 1781.2,920.1 1784.1,920.7 1787.0,921.4 1790.0,922.0 1792.9,922.7 1795.9,923.3 1798.8,923.9 1801.8,924.6 1804.7,925.2 1807.7,925.8 1810.6,926.4 1813.6,927.0 1816.5,927.5 1819.4,928.1 1822.4,928.6 1825.3,929.2 1828.3,929.7 1831.2,930.3 1834.2,930.8 1837.1,931.3 1840.1,931.8 1843.0,932.3 1846.0,932.8 1848.9,933.2 1851.9,933.7 1854.8,934.2 1857.8,934.6 1860.7,935.0 1863.7,935.5 1866.6,935.9 1869.6,936.3 1872.5,936.7 1875.5,937.1 1878.4,937.5 1881.4,937.8 1884.3,938.2 1887.2,938.5 1890.1,938.9 1893.1,939.3 1896.0,939.7 1899.0,940.0 1901.9,940.3 1904.9,940.7 1907.8,941.0 1910.8,941.3 1913.7,941.6 1916.7,941.9 1919.6,942.2 1922.6,942.4 1925.5,942.7 1928.5,943.0 1931.4,943.2 1934.4,943.4 1937.3,943.6 1940.3,943.9 1943.2,944.1 1946.2,944.3 1949.1,944.4 1952.1,944.6 1955.0,944.8 1958.0,944.9 1960.9,945.1 1963.9,945.2 1966.8,945.3 1969.8,945.4 1972.7,945.5 1975.7,945.6 1978.7,945.7 1981.6,945.8 1984.6,945.8 1987.5,945.9 1990.5,945.9 1993.4,945.9 1996.4,946.0 1999.3,946.0 2002.3,946.0 2005.2,945.9 2008.2,945.9 2011.1,945.9 2014.1,945.8 2017.0,945.8 2020.0,945.7 2022.9,945.7 2025.9,945.6 2028.8,945.5 2031.8,945.4 2034.7,945.3 2037.7,945.1 2040.6,945.0 2043.6,944.9 2046.5,944.7 2049.5,944.6 2052.4,944.4 2055.4,944.2 2058.3,944.0 2061.3,943.8 2064.2,943.6 2067.2,943.4 2070.1,943.2 2073.1,942.9 2076.0,942.7 2079.0,942.4 2081.9,942.2 2084.9,941.9 2087.8,941.6 2090.7,941.3 2093.7,941.1 2096.6,940.7 2099.6,940.4 2102.5,940.1 2105.5,939.8 2108.4,939.4 2111.4,939.1 2114.3,938.7 2117.3,938.3 2120.2,938.0 2123.2,937.6 2126.1,937.2 2129.1,936.8 2132.0,936.3 2135.0,935.9 2137.9,935.5 2140.9,935.0 2143.8,934.6 2146.8,934.1 2149.7,933.6 2152.7,933.2 2155.6,932.7 2158.6,932.2 2161.5,931.7 2164.5,931.2 2167.4,930.6 2170.3,930.1 2173.3,929.6 2176.2,929.0 2179.2,928.5 2182.1,927.9 2185.1,927.3 2188.0,926.7 2191.0,926.1 2193.9,925.5 2196.9,924.9 2199.8,924.3 2202.8,923.7 2205.7,923.1 2208.6,922.4 2211.6,921.8 2214.6,921.1 2217.6,920.4 2220.5,919.7 2223.5,919.0 2226.4,918.2 2229.3,917.5 2232.3,916.8 2235.2,916.0 2238.2,915.3 2241.1,914.5 2244.1,913.7 2247.0,912.9 2249.9,912.2 2252.9,911.4 2255.8,910.6 2258.8,909.8 2261.7,908.9 2264.7,908.1 2267.6,907.3 2270.5,906.5 2273.5,905.6 2276.4,904.8 2279.4,903.9 2282.3,903.1 2285.2,902.2 2288.1,901.3 2291.1,900.5 2294.0,899.6 2296.9,898.8 2299.9,897.9 2302.8,897.0 2305.8,896.2 2308.7,895.3 2311.7,894.4 2314.6,893.5 2317.5,892.6 2320.5,891.7 2323.4,890.7 2326.4,889.8 2329.3,888.9 2332.2,888.0 2335.2,887.0 2338.1,886.1 2341.0,885.1 2344.0,884.2 2346.9,883.2 2349.9,882.2 2352.8,881.3 2355.7,880.3 2358.7,879.3 2361.6,878.3 2364.6,877.3 2367.5,876.3 2370.4,875.3 2373.4,874.3 2376.3,873.3 2379.2,872.3 2382.2,871.3 2385.1,870.3 2388.0,869.2 2391.0,868.2 2393.9,867.2 2396.9,866.1 2399.8,865.1 2402.7,864.0 2405.7,863.0 2408.6,861.9 2411.6,860.8 2414.5,859.7 2417.4,858.7 2420.4,857.6 2423.3,856.5 2426.2,855.4 2429.2,854.3 2432.1,853.2 2435.0,852.1 2438.0,851.0 2440.9,849.9 2443.8,848.8 2446.8,847.6 2449.7,846.5 2452.6,845.4 2455.6,844.3 2458.5,843.2 2461.4,842.0 2464.4,840.9 2459.5,828.3 2456.6,829.4 2453.7,830.6 2450.7,831.7 2447.8,832.8 2444.9,833.9 2442.0,835.0 2439.0,836.1 2436.1,837.2 2433.2,838.4 2430.3,839.5 2427.4,840.6 2424.4,841.7 2421.5,842.7 2418.6,843.8 2415.7,844.9 2412.7,846.0 2409.8,847.1 2406.9,848.2 2404.0,849.2 2401.1,850.3 2398.2,851.3 2395.3,852.4 2392.3,853.4 2389.4,854.4 2386.5,855.5 2383.6,856.5 2380.7,857.5 2377.7,858.5 2374.8,859.5 2371.9,860.6 2369.0,861.6 2366.1,862.6 2363.1,863.6 2360.2,864.5 2357.3,865.5 2354.4,866.5 2351.5,867.5 2348.6,868.5 2345.6,869.4 2342.7,870.4 2339.8,871.3 2336.9,872.3 2334.0,873.2 2331.0,874.2 2328.1,875.1 2325.2,876.0 2322.3,876.9 2319.4,877.9 2316.5,878.8 2313.5,879.7 2310.6,880.6 2307.7,881.5 2304.8,882.3 2301.9,883.2 2299.0,884.1 2296.1,885.0 2293.1,885.8 2290.2,886.7 2287.3,887.5 2284.4,888.4 2281.4,889.2 2278.5,890.1 2275.6,891.0 2272.7,891.8 2269.8,892.6 2266.8,893.5 2263.9,894.3 2261.0,895.1 2258.1,895.9 2255.2,896.7 2252.3,897.5 2249.4,898.3 2246.4,899.1 2243.5,899.9 2240.6,900.7 2237.7,901.4 2234.8,902.2 2231.9,902.9 2229.0,903.7 2226.1,904.4 2223.1,905.1 2220.2,905.8 2217.3,906.6 2214.4,907.3 2211.5,907.9 2208.6,908.6 2205.8,909.2 2202.9,909.9 2199.9,910.5 2197.0,911.1 2194.1,911.7 2191.2,912.3 2188.3,912.9 2185.4,913.5 2182.5,914.1 2179.6,914.6 2176.7,915.2 2173.8,915.8 2170.8,916.3 2167.9,916.8 2165.0,917.4 2162.1,917.9 2159.2,918.4 2156.3,918.9 2153.4,919.4 2150.5,919.8 2147.6,920.3 2144.7,920.8 2141.8,921.2 2138.8,921.7 2135.9,922.1 2133.0,922.6 2130.1,923.0 2127.2,923.4 2124.3,923.8 2121.4,924.2 2118.5,924.6 2115.6,924.9 2112.7,925.3 2109.8,925.7 2106.9,926.0 2104.0,926.4 2101.0,926.7 2098.1,927.0 2095.2,927.3 2092.3,927.6 2089.4,927.9 2086.5,928.2 2083.6,928.5 2080.7,928.7 2077.8,929.0 2074.9,929.2 2072.0,929.5 2069.1,929.7 2066.2,929.9 2063.2,930.1 2060.3,930.3 2057.4,930.5 2054.5,930.7 2051.6,930.9 2048.7,931.1 2045.8,931.2 2042.9,931.4 2040.0,931.5 2037.1,931.7 2034.2,931.8 2031.3,931.9 2028.4,932.0 2025.5,932.1 2022.6,932.2 2019.7,932.2 2016.8,932.3 2013.8,932.3 2010.9,932.4 2008.0,932.4 2005.1,932.4 2002.2,932.5 1999.3,932.5 1996.4,932.5 1993.5,932.4 1990.6,932.4 1987.7,932.4 1984.8,932.3 1981.9,932.3 1979.0,932.2 1976.1,932.1 1973.2,932.0 1970.3,931.9 1967.4,931.8 1964.5,931.7 1961.6,931.6 1958.7,931.4 1955.8,931.3 1952.9,931.1 1949.9,931.0 1947.0,930.8 1944.1,930.6 1941.2,930.4 1938.3,930.2 1935.4,930.0 1932.5,929.7 1929.6,929.5 1926.7,929.3 1923.8,929.0 1920.9,928.7 1918.0,928.5 1915.1,928.2 1912.2,927.9 1909.3,927.6 1906.4,927.2 1903.5,926.9 1900.5,926.6 1897.6,926.2 1894.7,925.9 1891.8,925.5 1888.9,925.2 1885.9,924.8 1883.0,924.4 1880.1,924.1 1877.2,923.7 1874.3,923.3 1871.4,922.9 1868.5,922.5 1865.6,922.1 1862.7,921.7 1859.8,921.3 1856.9,920.8 1854.0,920.4 1851.0,919.9 1848.1,919.4 1845.2,919.0 1842.3,918.5 1839.4,918.0 1836.5,917.5 1833.6,917.0 1830.7,916.5 1827.8,915.9 1824.9,915.4 1822.0,914.8 1819.1,914.3 1816.2,913.7 1813.2,913.1 1810.3,912.5 1807.4,912.0 1804.5,911.3 1801.6,910.7 1798.7,910.1 1795.8,909.5 1792.9,908.9 1790.0,908.2 1787.0,907.6 1784.1,906.9 1781.2,906.3 1778.3,905.6 1775.4,904.9 1772.5,904.2 1769.6,903.5 1766.7,902.8 1763.8,902.1 1760.8,901.4 1757.9,900.7 1755.0,900.0 1752.1,899.2 1749.2,898.5 1746.3,897.7 1743.4,896.9 1740.5,896.2 1737.6,895.4 1734.6,894.6 1731.7,893.8 1728.8,893.0 1725.9,892.2 1723.0,891.4 1720.1,890.5 1717.2,889.7 1714.3,888.9 1711.3,888.0 1708.4,887.2 1705.5,886.3 1702.6,885.4 1699.7,884.5 1696.8,883.7 1693.9,882.8 1690.9,881.9 1688.0,881.0 1685.1,880.1 1682.2,879.1 1679.3,878.2 1676.4,877.3 1673.5,876.3 1670.5,875.4 1667.6,874.4 1664.7,873.5 1661.8,872.5 1658.9,871.5 1656.0,870.6 1653.1,869.6 1650.1,868.6 1647.2,867.6 1644.3,866.6 1641.4,865.6 1638.5,864.5 1635.5,863.5 1632.6,862.5 1629.7,861.5 1626.8,860.4 1623.9,859.4 1621.0,858.3 1618.0,857.3 1615.1,856.2 1612.2,855.2 1609.3,854.1 1606.4,853.0 1603.5,851.9 1600.5,850.8 1597.6,849.8 1594.7,848.7 1591.8,847.6 1588.9,846.5 1585.9,845.3 1583.0,844.2 1580.1,843.1 1577.2,842.0 1574.3,840.9 1571.3,839.7 1568.4,838.6 1565.5,837.4 1562.6,836.3 1559.7,835.1 1556.7,834.0 1553.8,832.8 1550.9,831.7 1548.0,830.5 1545.1,829.3 1542.1,828.2 1539.2,827.0 1536.3,825.8 1533.4,824.6 1530.5,823.4 1527.5,822.2 1524.6,821.0 1521.7,819.8 1518.8,818.6 1515.8,817.4 1512.9,816.2 1510.0,815.0 1507.1,813.8 1504.2,812.6 1501.2,811.4 1498.3,810.1 1495.4,808.9 1492.5,807.7 1489.5,806.4 1486.6,805.2 1483.7,804.0 1480.8,802.7 1477.8,801.5 1474.9,800.3 1472.0,799.0 1469.1,797.8 1466.1,796.5 1463.2,795.3 1460.2,794.0 1457.3,792.8 1454.3,791.6 1451.4,790.4 1448.5,789.2 1445.6,788.0 1442.6,786.8 1439.7,785.6 1436.8,784.4 1433.8,783.2 1430.9,782.0 1428.0,780.8 1425.1,779.6 1422.1,778.4 1419.2,777.2 1416.3,776.0 1413.4,774.8 1410.4,773.6 1407.5,772.4 1404.6,771.2 1401.6,770.0 1398.7,768.8 1395.8,767.6 1392.9,766.3 1389.9,765.1 1387.0,763.9 1384.1,762.7 1381.1,761.5 1378.2,760.3 1375.3,759.1 1372.4,757.9 1369.4,756.7 1366.5,755.5 1363.6,754.3 1360.6,753.1 1357.7,751.9 1354.8,750.7 1351.9,749.5 1348.9,748.3 1346.0,747.1 1343.1,745.9 1340.1,744.7 1337.2,743.5 1334.3,742.4 1331.3,741.2 1328.4,740.0 1325.5,738.8 1322.5,737.6 1319.6,736.5 1316.7,735.3 1313.7,734.1 1310.8,732.9 1307.9,731.8 1304.9,730.6 1302.0,729.4 1299.1,728.3 1296.1,727.1 1293.2,726.0 1290.3,724.8 1287.3,723.7 1284.4,722.5 1281.5,721.4 1278.5,720.2 1275.6,719.1 1272.7,718.0 1269.7,716.8 1266.8,715.7 1263.9,714.6 1260.9,713.5 1258.0,712.4 1255.1,711.3 1252.1,710.2 1249.2,709.1 1246.2,708.0 1243.3,706.9 1240.4,705.8 1237.4,704.7 1234.5,703.7 1231.6,702.6 1228.6,701.5 1225.7,700.4 1222.8,699.4 1219.8,698.3 1216.9,697.3 1213.9,696.2 1211.0,695.2 1208.1,694.2 1205.1,693.1 1202.2,692.1 1199.3,691.1 1196.3,690.1 1193.4,689.1 1190.4,688.1 1187.5,687.1 1184.6,686.1 1181.6,685.1 1178.7,684.1 1175.7,683.1 1172.8,682.2 1169.9,681.2 1166.9,680.2 1164.0,679.3 1161.0,678.3 1158.1,677.4 1155.2,676.4 1152.2,675.5 1149.3,674.6 1146.3,673.7 1143.4,672.8 1140.5,671.9 1137.5,671.0 1134.5,670.1 1131.5,669.2 1128.6,668.4 1125.7,667.6 1122.7,666.7 1119.8,665.9 1116.8,665.1 1113.9,664.3 1110.9,663.5 1108.0,662.7 1105.1,662.0 1102.1,661.2 1099.2,660.4 1096.2,659.7 1093.3,658.9 1090.3,658.2 1087.4,657.5 1084.5,656.7 1081.5,656.0 1078.6,655.3 1075.6,654.6 1072.7,653.9 1069.7,653.2 1066.8,652.5 1063.8,651.9 1060.9,651.2 1058.0,650.6 1055.0,649.9 1052.1,649.3 1049.1,648.6 1046.2,648.0 1043.2,647.4 1040.3,646.8 1037.3,646.2 1034.4,645.6 1031.4,645.0 1028.6,644.5 1025.7,643.8 1022.7,643.2 1019.8,642.6 1016.9,642.0 1013.9,641.4 1011.0,640.8 1008.0,640.2 1005.1,639.7 1002.1,639.1 999.2,638.6 996.2,638.0 993.3,637.5 990.3,637.0 987.4,636.5 984.4,635.9 981.5,635.5 978.5,635.0 975.6,634.5 972.6,634.0 969.7,633.6 966.7,633.1 963.7,632.7 960.7,632.3 957.7,632.0 954.8,631.6 951.8,631.3 948.9,630.9 945.9,630.6 943.0,630.3 940.0,630.0 937.1,629.7 934.2,629.4 931.2,629.2 928.3,628.9 925.3,628.7 922.4,628.4 919.4,628.2 916.5,628.0 913.5,627.8 910.6,627.6 907.6,627.4 904.7,627.2 901.7,627.0 898.7,626.8 895.8,626.7 892.8,626.5 889.9,626.4 886.9,626.3 884.0,626.2 881.0,626.1 878.1,626.0 875.1,625.9 872.2,625.8 869.2,625.8 866.3,625.7 863.3,625.7 860.4,625.6 857.4,625.6 854.5,625.6 851.5,625.6 848.6,625.6 845.6,625.6 842.7,625.7 839.7,625.7 836.7,625.7 833.6,625.9 830.7,626.0 827.7,626.2 824.8,626.4 821.8,626.6 818.9,626.8 815.9,627.0 813.0,627.2 810.0,627.4 807.1,627.6 804.1,627.9 801.2,628.1 798.2,628.4 795.3,628.6 792.3,628.9 789.4,629.2 786.4,629.5 783.5,629.8 780.5,630.2 777.6,630.5 774.6,630.8 771.7,631.2 768.7,631.5 765.8,631.9 762.8,632.3 759.9,632.7 756.9,633.1 754.0,633.5 751.0,633.9 748.1,634.3 745.1,634.8 742.2,635.2 739.2,635.7 736.3,636.1 733.3,636.6 730.4,637.1 727.4,637.6 724.5,638.1 721.5,638.6 718.6,639.1 715.6,639.7 712.7,640.2 709.7,640.8 706.8,641.3 703.8,641.9 700.9,642.5 697.9,643.1 695.0,643.7 692.1,644.3 689.2,644.9 686.3,645.4 683.4,646.0 680.5,646.5 677.5,647.1 674.6,647.7 671.6,648.2 668.7,648.8 665.7,649.4 662.8,650.1 659.8,650.7 656.9,651.3 653.9,651.9 651.0,652.6 648.0,653.3 645.1,653.9 642.1,654.6 639.2,655.3 636.2,656.0 633.3,656.7 630.5,657.3 627.6,658.0 624.7,658.6 621.7,659.2 618.8,659.9 615.8,660.5 612.9,661.2 609.9,661.9 607.0,662.6 604.0,663.3 601.1,664.0 598.1,664.7 595.2,665.4 592.3,666.1 589.3,666.8 586.4,667.6 583.4,668.3 580.5,669.1 577.5,669.8 574.6,670.6 571.6,671.4 568.7,672.2 565.7,673.0 562.7,673.8 559.8,674.7 556.8,675.6 553.9,676.5 550.9,677.3 548.0,678.2 545.0,679.1 542.1,680.0 539.2,680.9 536.2,681.9 533.3,682.8 530.3,683.7 527.4,684.7 524.5,685.6 521.5,686.6 518.6,687.5 515.6,688.5 512.7,689.5 509.8,690.5 506.8,691.4 503.9,692.4 500.9,693.4 498.0,694.4 495.0,695.4 492.1,696.5 489.2,697.5 486.2,698.5 483.3,699.6 480.4,700.6 477.4,701.6 474.5,702.7 471.5,703.8 468.6,704.8 465.7,705.9 462.7,707.0 459.8,708.0 456.8,709.1 453.9,710.2 451.0,711.3 448.0,712.4 445.1,713.5 442.2,714.6 439.2,715.8 436.3,716.9 433.3,718.0 430.4,719.1 427.5,720.3 424.5,721.4 421.6,722.6 418.7,723.7 415.7,724.9 412.8,726.0 409.9,727.2 406.9,728.4 404.0,729.5 401.0,730.7 398.1,731.9 395.2,733.1 392.2,734.3 389.3,735.4 386.4,736.6 383.5,737.7 380.6,738.9 377.7,740.0 374.8,741.1 371.8,742.3 368.9,743.4 366.0,744.6 363.0,745.7 360.1,746.8 357.2,748.0 354.2,749.1 351.2,750.4 348.1,751.7 345.1,753.1 342.2,754.4 339.3,755.7 336.3,757.1 333.4,758.4 330.5,759.7 327.6,761.1 324.6,762.4 321.7,763.7 318.8,765.1 315.8,766.4 312.9,767.7 310.1,769.1 307.3,770.2 304.6,771.3 301.7,772.3 298.8,773.4 296.1,774.3 293.7,775.0 291.2,775.5 288.6,775.8 286.0,776.1 283.9,776.1 281.7,775.9 279.5,775.4 277.4,774.7 275.4,773.7 273.2,772.0 270.6,769.6 267.8,766.9 265.0,763.9 262.0,760.8 259.1,757.7 254.4,753.3 248.4,752.6"/>
<polygon fill="#00FF00" clip-path="url(#gm2)" points="248.4,758.4 249.7,758.2 251.2,759.1 254.2,760.6 257.1,762.0 260.0,763.5 263.0,764.9 265.8,766.3 268.7,767.8 271.5,769.3 274.4,770.8 277.3,772.5 280.2,774.1 283.2,775.7 286.1,777.3 289.1,779.0 292.2,780.7 295.6,782.2 298.9,783.4 302.1,784.4 305.2,785.3 308.5,786.1 312.0,786.6 315.4,786.9 318.7,786.9 322.0,786.8 325.4,786.6 329.0,785.9 332.7,784.8 335.9,783.4 339.0,782.1 342.1,780.6 345.3,779.0 348.3,777.3 351.3,775.6 354.1,774.0 356.9,772.5 359.7,771.0 362.6,769.7 365.5,768.2 368.4,766.8 371.4,765.4 374.3,764.0 377.2,762.6 380.1,761.2 383.1,759.8 386.0,758.3 388.9,756.9 391.8,755.5 394.7,754.1 397.6,752.8 400.4,751.6 403.3,750.3 406.2,749.1 409.1,747.8 412.0,746.6 415.0,745.4 417.9,744.1 420.8,742.9 423.7,741.7 426.6,740.5 429.6,739.3 432.5,738.1 435.4,736.9 438.3,735.7 441.2,734.5 444.2,733.3 447.1,732.1 450.0,730.9 452.9,729.8 455.8,728.6 458.8,727.4 461.7,726.3 464.6,725.1 467.5,724.0 470.4,722.8 473.3,721.7 476.3,720.6 479.2,719.4 482.1,718.3 485.0,717.2 487.9,716.1 490.8,715.0 493.8,713.9 496.7,712.8 499.6,711.7 502.5,710.7 505.4,709.6 508.3,708.5 511.3,707.5 514.2,706.4 517.1,705.4 520.0,704.3 522.9,703.3 525.8,702.3 528.8,701.3 531.7,700.2 534.6,699.2 537.5,698.2 540.4,697.3 543.3,696.3 546.2,695.3 549.2,694.3 552.1,693.4 555.0,692.4 557.9,691.5 560.8,690.5 563.7,689.6 566.6,688.7 569.5,687.8 572.4,686.9 575.3,686.0 578.2,685.1 581.1,684.3 584.1,683.4 587.0,682.6 589.9,681.7 592.8,680.9 595.7,680.1 598.6,679.2 601.5,678.4 604.4,677.6 607.4,676.8 610.3,676.1 613.2,675.3 616.1,674.5 619.0,673.8 621.9,673.0 624.8,672.3 627.7,671.5 630.6,670.8 633.5,670.1 636.5,669.4 639.4,668.7 642.3,668.0 645.2,667.3 648.1,666.6 651.0,665.9 653.9,665.3 656.8,664.6 659.7,664.0 662.6,663.4 665.6,662.7 668.5,662.1 671.4,661.5 674.3,660.9 677.2,660.3 680.1,659.8 683.0,659.2 685.9,658.6 688.8,658.1 691.8,657.5 694.8,656.9 697.7,656.3 700.6,655.7 703.5,655.1 706.4,654.5 709.4,653.9 712.3,653.4 715.2,652.8 718.1,652.3 721.0,651.8 723.9,651.2 726.8,650.7 729.7,650.2 732.6,649.7 735.5,649.2 738.4,648.8 741.3,648.3 744.2,647.8 747.1,647.4 750.1,647.0 753.0,646.5 755.9,646.1 758.8,645.7 761.7,645.3 764.6,644.9 767.5,644.5 770.4,644.2 773.3,643.8 776.3,643.4 779.3,643.0 782.2,642.6 785.1,642.1 788.0,641.7 790.9,641.4 793.8,641.0 796.8,640.6 799.7,640.2 802.6,639.9 805.5,639.6 808.4,639.2 811.3,638.9 814.2,638.6 817.1,638.3 820.0,638.0 822.9,637.7 825.8,637.4 828.7,637.2 831.6,636.9 834.5,636.7 837.6,636.4 840.7,636.0 843.6,635.6 846.5,635.3 849.4,634.9 852.3,634.5 855.2,634.2 858.2,633.9 860.9,633.6 863.6,633.4 866.3,633.3 869.2,633.3 872.1,633.2 875.0,633.2 877.9,633.2 880.8,633.2 883.8,633.1 886.7,633.2 889.6,633.2 892.5,633.2 895.4,633.2 898.1,633.3 900.8,633.4 903.7,633.7 906.6,633.9 909.5,634.1 912.4,634.4 915.3,634.7 918.2,634.9 921.1,635.2 924.1,635.5 927.0,635.8 929.9,636.1 932.8,636.4 935.7,636.8 938.6,637.1 941.5,637.5 944.4,637.8 947.3,638.2 950.2,638.6 953.1,639.0 956.0,639.4 958.9,639.8 961.9,640.2 964.9,640.6 967.9,640.9 970.8,641.2 973.7,641.6 976.6,641.9 979.5,642.3 982.4,642.7 985.3,643.1 988.2,643.5 991.2,643.9 994.1,644.3 997.0,644.7 999.9,645.1 1002.8,645.6 1005.7,646.0 1008.6,646.5 1011.5,646.9 1014.4,647.4 1017.3,647.9 1020.2,648.4 1023.1,648.8 1026.1,649.4 1029.0,649.9 1031.9,650.4 1034.8,650.9 1037.7,651.5 1040.6,652.0 1043.5,652.6 1046.4,653.1 1049.3,653.7 1052.2,654.3 1055.2,654.9 1058.1,655.4 1061.0,656.0 1063.9,656.7 1066.8,657.3 1069.7,657.9 1072.6,658.5 1075.5,659.2 1078.4,659.8 1081.4,660.5 1084.3,661.1 1087.2,661.8 1090.1,662.5 1093.0,663.2 1095.9,663.9 1098.8,664.6 1101.7,665.3 1104.7,666.0 1107.6,666.7 1110.5,667.4 1113.4,668.2 1116.3,668.9 1119.2,669.7 1122.0,670.4 1124.8,671.3 1127.8,672.2 1130.7,673.0 1133.6,673.9 1136.5,674.8 1139.4,675.7 1142.3,676.6 1145.3,677.5 1148.2,678.4 1151.1,679.4 1154.0,680.3 1156.9,681.2 1159.8,682.2 1162.7,683.1 1165.7,684.1 1168.6,685.0 1171.5,686.0 1174.4,687.0 1177.3,687.9 1180.3,688.9 1183.2,689.9 1186.1,690.8 1189.0,691.8 1192.0,692.8 1194.9,693.8 1197.8,694.8 1200.7,695.8 1203.6,696.7 1206.6,697.8 1209.5,698.8 1212.4,699.8 1215.3,700.8 1218.2,701.8 1221.2,702.8 1224.1,703.9 1227.0,704.9 1229.9,705.9 1232.8,707.0 1235.7,708.0 1238.7,709.1 1241.6,710.2 1244.5,711.2 1247.4,712.3 1250.3,713.4 1253.3,714.4 1256.2,715.5 1259.1,716.6 1262.0,717.7 1265.0,718.8 1267.9,719.9 1270.8,721.0 1273.7,722.0 1276.6,723.2 1279.5,724.3 1282.4,725.5 1285.3,726.6 1288.3,727.8 1291.2,728.9 1294.1,730.1 1297.0,731.2 1300.0,732.4 1302.9,733.6 1305.8,734.7 1308.7,735.9 1311.6,737.1 1314.6,738.3 1317.5,739.4 1320.4,740.6 1323.3,741.8 1326.3,743.0 1329.2,744.2 1332.1,745.4 1335.0,746.6 1338.0,747.8 1340.9,749.0 1343.8,750.1 1346.7,751.3 1349.7,752.5 1352.6,753.7 1355.5,755.0 1358.4,756.2 1361.4,757.4 1364.3,758.6 1367.2,759.8 1370.1,761.0 1373.1,762.2 1376.0,763.4 1378.9,764.6 1381.9,765.8 1384.8,767.0 1387.7,768.2 1390.6,769.4 1393.6,770.7 1396.5,771.9 1399.4,773.1 1402.4,774.3 1405.3,775.5 1408.2,776.7 1411.1,777.9 1414.1,779.1 1417.0,780.4 1419.9,781.6 1422.9,782.8 1425.8,784.0 1428.7,785.2 1431.6,786.4 1434.6,787.6 1437.5,788.8 1440.4,790.0 1443.4,791.2 1446.3,792.4 1449.2,793.6 1452.1,794.8 1455.0,796.0 1457.9,797.2 1460.8,798.5 1463.7,799.8 1466.6,801.1 1469.6,802.4 1472.5,803.7 1475.4,805.0 1478.4,806.2 1481.3,807.5 1484.2,808.8 1487.1,810.1 1490.1,811.4 1493.0,812.6 1495.9,813.9 1498.9,815.2 1501.8,816.4 1504.7,817.7 1507.7,819.0 1510.6,820.2 1513.5,821.5 1516.5,822.7 1519.4,824.0 1522.3,825.2 1525.3,826.5 1528.2,827.7 1531.1,828.9 1534.1,830.2 1537.0,831.4 1540.0,832.6 1542.9,833.8 1545.8,835.1 1548.8,836.3 1551.7,837.5 1554.6,838.7 1557.6,839.9 1560.5,841.1 1563.4,842.3 1566.4,843.5 1569.3,844.6 1572.2,845.8 1575.2,847.0 1578.1,848.2 1581.1,849.3 1584.0,850.5 1586.9,851.7 1589.9,852.8 1592.8,854.0 1595.7,855.1 1598.7,856.2 1601.6,857.4 1604.6,858.5 1607.5,859.6 1610.4,860.7 1613.4,861.9 1616.3,863.0 1619.2,864.1 1622.2,865.2 1625.1,866.2 1628.1,867.3 1631.0,868.4 1633.9,869.5 1636.9,870.5 1639.8,871.6 1642.8,872.7 1645.7,873.7 1648.6,874.7 1651.6,875.8 1654.5,876.8 1657.5,877.8 1660.4,878.8 1663.3,879.8 1666.3,880.8 1669.2,881.8 1672.2,882.8 1675.1,883.8 1678.1,884.8 1681.0,885.7 1683.9,886.7 1686.9,887.6 1689.8,888.6 1692.8,889.5 1695.7,890.4 1698.6,891.4 1701.6,892.3 1704.5,893.2 1707.5,894.1 1710.4,895.0 1713.4,895.9 1716.3,896.8 1719.2,897.6 1722.2,898.5 1725.1,899.4 1728.1,900.2 1731.0,901.1 1734.0,901.9 1736.9,902.7 1739.9,903.5 1742.8,904.3 1745.7,905.1 1748.7,905.9 1751.6,906.7 1754.6,907.5 1757.5,908.3 1760.5,909.0 1763.4,909.8 1766.4,910.5 1769.3,911.3 1772.2,912.0 1775.2,912.7 1778.1,913.4 1781.1,914.1 1784.0,914.8 1787.0,915.5 1789.9,916.2 1792.9,916.9 1795.8,917.5 1798.7,918.2 1801.7,918.9 1804.6,919.5 1807.6,920.1 1810.5,920.8 1813.5,921.4 1816.4,922.0 1819.4,922.6 1822.3,923.2 1825.3,923.7 1828.2,924.3 1831.2,924.9 1834.1,925.4 1837.1,926.0 1840.0,926.5 1843.0,927.0 1845.9,927.5 1848.9,928.1 1851.8,928.5 1854.8,929.0 1857.7,929.5 1860.7,930.0 1863.6,930.4 1866.5,930.9 1869.5,931.3 1872.4,931.8 1875.4,932.2 1878.3,932.6 1881.3,933.0 1884.2,933.4 1887.1,933.8 1890.0,934.2 1892.9,934.6 1895.9,935.1 1898.8,935.5 1901.8,935.9 1904.7,936.3 1907.7,936.7 1910.6,937.0 1913.6,937.4 1916.5,937.8 1919.5,938.1 1922.4,938.5 1925.4,938.8 1928.3,939.1 1931.3,939.4 1934.2,939.7 1937.2,940.0 1940.1,940.3 1943.1,940.5 1946.0,940.8 1949.0,941.1 1951.9,941.3 1954.9,941.5 1957.8,941.7 1960.8,942.0 1963.7,942.2 1966.7,942.3 1969.6,942.5 1972.6,942.7 1975.5,942.9 1978.5,943.0 1981.4,943.1 1984.4,943.3 1987.4,943.4 1990.3,943.5 1993.3,943.6 1996.2,943.7 1999.2,943.7 2002.1,943.8 2005.1,943.9 2008.0,943.9 2011.0,943.9 2013.9,944.0 2016.9,944.0 2019.8,944.0 2022.8,944.0 2025.7,944.0 2028.7,944.0 2031.6,943.9 2034.6,943.9 2037.5,943.8 2040.5,943.8 2043.4,943.7 2046.4,943.6 2049.3,943.5 2052.3,943.4 2055.2,943.3 2058.2,943.2 2061.1,943.1 2064.1,942.9 2067.1,942.8 2070.1,942.5 2073.1,942.3 2076.0,942.1 2079.0,941.8 2081.9,941.6 2084.9,941.3 2087.8,941.0 2090.7,940.7 2093.7,940.4 2096.6,940.1 2099.6,939.8 2102.5,939.5 2105.5,939.2 2108.4,938.8 2111.4,938.5 2114.3,938.1 2117.3,937.7 2120.2,937.3 2123.2,937.0 2126.1,936.6 2129.1,936.1 2132.0,935.7 2135.0,935.3 2137.9,934.9 2140.9,934.4 2143.8,934.0 2146.8,933.5 2149.7,933.0 2152.7,932.6 2155.6,932.1 2158.6,931.6 2161.5,931.1 2164.5,930.5 2167.4,930.0 2170.3,929.5 2173.3,929.0 2176.2,928.4 2179.2,927.8 2182.1,927.3 2185.1,926.7 2188.0,926.1 2191.0,925.5 2193.9,924.9 2196.9,924.3 2199.8,923.7 2202.8,923.1 2205.7,922.5 2208.6,921.8 2211.6,921.2 2214.6,920.5 2217.6,919.8 2220.5,919.1 2223.5,918.3 2226.4,917.6 2229.3,916.9 2232.3,916.1 2235.2,915.4 2238.2,914.6 2241.1,913.9 2244.1,913.1 2247.0,912.3 2249.9,911.5 2252.9,910.7 2255.8,909.9 2258.8,909.1 2261.7,908.3 2264.7,907.5 2267.6,906.7 2270.5,905.8 2273.5,905.0 2276.4,904.2 2279.4,903.3 2282.3,902.4 2285.2,901.6 2288.1,900.7 2291.1,899.9 2294.0,899.0 2297.0,898.1 2299.9,897.3 2302.8,896.4 2305.8,895.5 2308.7,894.6 2311.7,893.7 2314.6,892.8 2317.5,891.9 2320.5,891.0 2323.4,890.1 2326.4,889.2 2329.3,888.2 2332.2,887.3 2335.2,886.3 2338.1,885.4 2341.1,884.4 2344.0,883.5 2346.9,882.5 2349.9,881.5 2352.8,880.6 2355.7,879.6 2358.7,878.6 2361.6,877.6 2364.6,876.6 2367.5,875.6 2370.4,874.6 2373.4,873.6 2376.3,872.6 2379.2,871.6 2382.2,870.5 2385.1,869.5 2388.1,868.5 2391.0,867.4 2393.9,866.4 2396.9,865.4 2399.8,864.3 2402.7,863.3 2405.7,862.2 2408.6,861.1 2411.6,860.0 2414.5,859.0 2417.4,857.9 2420.4,856.8 2423.3,855.7 2426.3,854.6 2429.2,853.5 2432.1,852.4 2435.1,851.2 2438.0,850.1 2440.9,849.0 2443.9,847.9 2446.8,846.8 2449.7,845.6 2452.7,844.5 2455.6,843.4 2458.5,842.2 2461.5,841.1 2464.4,840.0 2459.5,827.4 2456.6,828.5 2453.6,829.6 2450.7,830.8 2447.8,831.9 2444.9,833.0 2442.0,834.2 2439.0,835.3 2436.1,836.4 2433.2,837.5 2430.3,838.6 2427.3,839.7 2424.4,840.8 2421.5,841.9 2418.6,843.0 2415.7,844.1 2412.7,845.2 2409.8,846.3 2406.9,847.4 2404.0,848.5 2401.1,849.5 2398.2,850.6 2395.2,851.6 2392.3,852.6 2389.4,853.7 2386.5,854.7 2383.6,855.7 2380.7,856.8 2377.7,857.8 2374.8,858.8 2371.9,859.8 2369.0,860.8 2366.1,861.8 2363.1,862.8 2360.2,863.8 2357.3,864.8 2354.4,865.8 2351.5,866.8 2348.5,867.8 2345.6,868.7 2342.7,869.7 2339.8,870.6 2336.9,871.6 2334.0,872.5 2331.0,873.5 2328.1,874.4 2325.2,875.4 2322.3,876.3 2319.4,877.2 2316.5,878.1 2313.5,879.0 2310.6,879.9 2307.7,880.8 2304.8,881.7 2301.9,882.6 2299.0,883.5 2296.0,884.3 2293.1,885.2 2290.2,886.1 2287.3,886.9 2284.4,887.8 2281.4,888.6 2278.5,889.5 2275.6,890.3 2272.7,891.2 2269.8,892.0 2266.8,892.9 2263.9,893.7 2261.0,894.5 2258.1,895.3 2255.2,896.1 2252.3,896.9 2249.4,897.7 2246.4,898.5 2243.5,899.3 2240.6,900.0 2237.7,900.8 2234.8,901.6 2231.9,902.3 2229.0,903.1 2226.1,903.8 2223.1,904.5 2220.2,905.2 2217.3,905.9 2214.4,906.6 2211.5,907.3 2208.6,908.0 2205.8,908.6 2202.9,909.3 2199.9,909.9 2197.0,910.5 2194.1,911.1 2191.2,911.7 2188.3,912.3 2185.4,912.9 2182.5,913.5 2179.6,914.0 2176.7,914.6 2173.8,915.1 2170.8,915.7 2167.9,916.2 2165.0,916.7 2162.1,917.3 2159.2,917.8 2156.3,918.3 2153.4,918.8 2150.5,919.2 2147.6,919.7 2144.7,920.2 2141.8,920.6 2138.8,921.1 2135.9,921.5 2133.0,921.9 2130.1,922.4 2127.2,922.8 2124.3,923.2 2121.4,923.6 2118.5,924.0 2115.6,924.3 2112.7,924.7 2109.8,925.1 2106.9,925.4 2104.0,925.7 2101.0,926.1 2098.1,926.4 2095.2,926.7 2092.3,927.0 2089.4,927.3 2086.5,927.6 2083.6,927.9 2080.7,928.1 2077.8,928.4 2074.9,928.6 2072.0,928.9 2069.1,929.1 2066.2,929.3 2063.4,929.4 2060.5,929.6 2057.6,929.7 2054.7,929.8 2051.8,929.9 2048.9,930.0 2046.0,930.1 2043.1,930.2 2040.2,930.3 2037.2,930.3 2034.3,930.4 2031.4,930.4 2028.5,930.5 2025.6,930.5 2022.7,930.5 2019.8,930.5 2016.9,930.5 2014.0,930.5 2011.1,930.4 2008.2,930.4 2005.3,930.4 2002.4,930.3 1999.5,930.2 1996.6,930.2 1993.7,930.1 1990.8,930.0 1987.9,929.9 1985.0,929.8 1982.0,929.6 1979.1,929.5 1976.2,929.4 1973.3,929.2 1970.4,929.0 1967.5,928.9 1964.6,928.7 1961.7,928.5 1958.8,928.3 1955.9,928.1 1953.0,927.8 1950.1,927.6 1947.2,927.4 1944.3,927.1 1941.4,926.8 1938.5,926.6 1935.6,926.3 1932.7,926.0 1929.8,925.7 1926.9,925.4 1923.9,925.0 1921.0,924.7 1918.1,924.4 1915.2,924.0 1912.3,923.7 1909.4,923.3 1906.5,922.9 1903.6,922.5 1900.7,922.1 1897.8,921.7 1894.9,921.3 1892.0,920.9 1889.0,920.4 1886.0,920.0 1883.1,919.6 1880.2,919.2 1877.3,918.8 1874.4,918.4 1871.5,918.0 1868.6,917.5 1865.7,917.1 1862.7,916.6 1859.8,916.2 1856.9,915.7 1854.0,915.2 1851.1,914.7 1848.2,914.2 1845.3,913.7 1842.4,913.2 1839.5,912.7 1836.6,912.2 1833.7,911.6 1830.8,911.1 1827.9,910.5 1824.9,909.9 1822.0,909.3 1819.1,908.8 1816.2,908.2 1813.3,907.5 1810.4,906.9 1807.5,906.3 1804.6,905.7 1801.7,905.0 1798.8,904.4 1795.9,903.7 1792.9,903.0 1790.0,902.4 1787.1,901.7 1784.2,901.0 1781.3,900.3 1778.4,899.6 1775.5,898.9 1772.6,898.2 1769.7,897.4 1766.7,896.7 1763.8,896.0 1760.9,895.2 1758.0,894.4 1755.1,893.7 1752.2,892.9 1749.3,892.1 1746.4,891.3 1743.5,890.5 1740.5,889.7 1737.6,888.9 1734.7,888.1 1731.8,887.2 1728.9,886.4 1726.0,885.5 1723.1,884.7 1720.2,883.8 1717.2,883.0 1714.3,882.1 1711.4,881.2 1708.5,880.3 1705.6,879.4 1702.7,878.5 1699.8,877.6 1696.8,876.7 1693.9,875.7 1691.0,874.8 1688.1,873.8 1685.2,872.9 1682.3,871.9 1679.4,871.0 1676.4,870.0 1673.5,869.0 1670.6,868.0 1667.7,867.1 1664.8,866.1 1661.9,865.0 1659.0,864.0 1656.0,863.0 1653.1,862.0 1650.2,861.0 1647.3,859.9 1644.4,858.9 1641.5,857.8 1638.6,856.8 1635.6,855.7 1632.7,854.7 1629.8,853.6 1626.9,852.5 1624.0,851.4 1621.0,850.3 1618.1,849.2 1615.2,848.1 1612.3,847.0 1609.4,845.9 1606.5,844.8 1603.5,843.6 1600.6,842.5 1597.7,841.4 1594.8,840.2 1591.9,839.1 1588.9,837.9 1586.0,836.8 1583.1,835.6 1580.2,834.5 1577.3,833.3 1574.3,832.1 1571.4,830.9 1568.5,829.8 1565.6,828.6 1562.7,827.4 1559.7,826.2 1556.8,825.0 1553.9,823.8 1551.0,822.6 1548.1,821.4 1545.1,820.2 1542.2,818.9 1539.3,817.7 1536.4,816.5 1533.5,815.3 1530.5,814.0 1527.6,812.8 1524.7,811.5 1521.8,810.3 1518.8,809.1 1515.9,807.8 1513.0,806.6 1510.1,805.3 1507.2,804.0 1504.2,802.8 1501.3,801.5 1498.4,800.3 1495.5,799.0 1492.5,797.7 1489.6,796.4 1486.7,795.2 1483.8,793.9 1480.8,792.6 1477.9,791.3 1475.0,790.0 1472.1,788.7 1469.1,787.5 1466.2,786.2 1463.3,784.9 1460.2,783.6 1457.3,782.3 1454.3,781.1 1451.4,779.9 1448.5,778.7 1445.6,777.5 1442.6,776.3 1439.7,775.1 1436.8,773.9 1433.9,772.7 1430.9,771.5 1428.0,770.3 1425.1,769.1 1422.2,767.9 1419.2,766.7 1416.3,765.5 1413.4,764.2 1410.4,763.0 1407.5,761.8 1404.6,760.6 1401.7,759.4 1398.7,758.2 1395.8,757.0 1392.9,755.8 1389.9,754.6 1387.0,753.3 1384.1,752.1 1381.2,750.9 1378.2,749.7 1375.3,748.5 1372.4,747.3 1369.4,746.1 1366.5,744.9 1363.6,743.7 1360.7,742.5 1357.7,741.3 1354.8,740.1 1351.9,738.9 1348.9,737.7 1346.0,736.5 1343.1,735.3 1340.1,734.1 1337.2,732.9 1334.3,731.7 1331.3,730.5 1328.4,729.3 1325.5,728.1 1322.5,726.9 1319.6,725.7 1316.7,724.6 1313.8,723.4 1310.8,722.2 1307.9,721.0 1305.0,719.9 1302.0,718.7 1299.1,717.5 1296.2,716.4 1293.2,715.2 1290.3,714.0 1287.4,712.9 1284.4,711.7 1281.5,710.6 1278.5,709.4 1275.5,708.3 1272.6,707.2 1269.7,706.1 1266.7,705.0 1263.8,703.9 1260.9,702.8 1257.9,701.8 1255.0,700.7 1252.1,699.6 1249.1,698.5 1246.2,697.5 1243.3,696.4 1240.3,695.3 1237.4,694.3 1234.5,693.2 1231.5,692.2 1228.6,691.1 1225.6,690.1 1222.7,689.1 1219.8,688.0 1216.8,687.0 1213.9,686.0 1211.0,685.0 1208.0,684.0 1205.1,683.0 1202.1,682.0 1199.2,681.0 1196.3,680.0 1193.3,679.0 1190.4,678.0 1187.4,677.1 1184.5,676.1 1181.6,675.1 1178.7,674.1 1175.7,673.2 1172.8,672.2 1169.9,671.2 1166.9,670.3 1164.0,669.3 1161.0,668.4 1158.1,667.4 1155.2,666.5 1152.2,665.6 1149.3,664.6 1146.3,663.7 1143.4,662.8 1140.5,661.9 1137.5,661.0 1134.6,660.1 1131.6,659.2 1128.7,658.3 1125.7,657.5 1122.7,656.6 1119.7,655.8 1116.7,655.1 1113.8,654.4 1110.8,653.6 1107.9,652.9 1104.9,652.2 1102.0,651.5 1099.1,650.7 1096.1,650.0 1093.2,649.3 1090.2,648.7 1087.3,648.0 1084.3,647.3 1081.4,646.7 1078.5,646.0 1075.5,645.3 1072.6,644.7 1069.6,644.1 1066.7,643.4 1063.7,642.8 1060.8,642.2 1057.8,641.6 1054.9,641.0 1052.0,640.4 1049.0,639.9 1046.1,639.3 1043.1,638.7 1040.2,638.2 1037.2,637.6 1034.3,637.1 1031.3,636.6 1028.4,636.1 1025.4,635.5 1022.5,635.0 1019.5,634.5 1016.6,634.1 1013.6,633.6 1010.7,633.1 1007.8,632.7 1004.8,632.2 1001.9,631.8 998.9,631.3 996.0,630.9 993.0,630.5 990.1,630.1 987.1,629.7 984.2,629.3 981.2,628.9 978.3,628.5 975.3,628.2 972.4,627.8 969.4,627.5 966.5,627.2 963.7,626.8 960.8,626.4 957.9,626.0 954.9,625.6 952.0,625.2 949.0,624.8 946.1,624.4 943.1,624.1 940.2,623.7 937.2,623.4 934.3,623.0 931.3,622.7 928.4,622.4 925.4,622.1 922.5,621.8 919.5,621.5 916.6,621.2 913.6,620.9 910.7,620.7 907.7,620.4 904.8,620.2 901.8,620.0 898.7,619.8 895.5,619.7 892.6,619.7 889.6,619.7 886.7,619.7 883.7,619.6 880.8,619.7 877.8,619.7 874.9,619.7 871.9,619.7 869.0,619.8 866.0,619.8 863.0,619.9 859.7,620.1 856.6,620.5 853.7,620.8 850.7,621.1 847.8,621.5 844.8,621.9 841.9,622.2 838.9,622.6 836.2,623.0 833.4,623.2 830.5,623.5 827.5,623.7 824.6,624.0 821.6,624.3 818.7,624.6 815.7,624.9 812.8,625.2 809.8,625.5 806.9,625.8 803.9,626.1 801.0,626.5 798.0,626.8 795.1,627.2 792.1,627.6 789.2,628.0 786.2,628.4 783.3,628.8 780.3,629.2 777.4,629.6 774.5,630.0 771.6,630.4 768.7,630.8 765.8,631.2 762.8,631.5 759.9,631.9 756.9,632.3 754.0,632.8 751.0,633.2 748.1,633.6 745.1,634.1 742.2,634.5 739.2,635.0 736.3,635.4 733.3,635.9 730.4,636.4 727.4,636.9 724.5,637.4 721.5,637.9 718.6,638.5 715.6,639.0 712.7,639.6 709.7,640.1 706.8,640.7 703.8,641.3 700.9,641.9 697.9,642.5 695.0,643.1 692.0,643.7 689.2,644.3 686.3,644.8 683.4,645.4 680.4,645.9 677.5,646.5 674.5,647.1 671.6,647.7 668.6,648.3 665.7,648.9 662.7,649.5 659.8,650.2 656.8,650.8 653.9,651.5 651.0,652.1 648.0,652.8 645.1,653.5 642.1,654.1 639.2,654.8 636.2,655.5 633.3,656.2 630.3,657.0 627.4,657.7 624.4,658.4 621.5,659.2 618.5,659.9 615.6,660.7 612.7,661.5 609.7,662.2 606.8,663.0 603.8,663.8 600.9,664.6 597.9,665.4 595.0,666.2 592.0,667.1 589.1,667.9 586.2,668.7 583.2,669.6 580.3,670.4 577.3,671.3 574.4,672.2 571.4,673.1 568.5,674.0 565.5,674.9 562.6,675.8 559.6,676.7 556.7,677.7 553.7,678.6 550.8,679.6 547.8,680.5 544.9,681.5 542.0,682.5 539.0,683.5 536.1,684.5 533.1,685.5 530.2,686.5 527.3,687.5 524.3,688.5 521.4,689.5 518.4,690.6 515.5,691.6 512.5,692.7 509.6,693.7 506.7,694.8 503.7,695.8 500.8,696.9 497.8,698.0 494.9,699.1 492.0,700.2 489.0,701.3 486.1,702.4 483.2,703.5 480.2,704.6 477.3,705.7 474.3,706.8 471.4,708.0 468.5,709.1 465.5,710.2 462.6,711.4 459.6,712.6 456.7,713.7 453.8,714.9 450.8,716.0 447.9,717.2 445.0,718.4 442.0,719.6 439.1,720.8 436.1,722.0 433.2,723.2 430.3,724.4 427.3,725.6 424.4,726.8 421.5,728.0 418.5,729.2 415.6,730.5 412.7,731.7 409.7,732.9 406.8,734.2 403.8,735.4 400.9,736.7 398.0,737.9 395.0,739.2 392.0,740.5 389.0,741.9 386.0,743.3 383.1,744.8 380.1,746.2 377.2,747.6 374.3,749.0 371.3,750.4 368.4,751.8 365.5,753.3 362.6,754.7 359.6,756.1 356.7,757.5 353.7,758.9 350.6,760.5 347.6,762.2 344.6,763.9 341.7,765.5 338.8,767.1 336.1,768.5 333.5,769.8 330.7,771.0 328.1,772.1 325.8,772.8 323.6,773.2 321.2,773.3 318.5,773.4 316.0,773.4 313.6,773.2 311.2,772.8 308.7,772.2 305.9,771.4 303.2,770.6 300.7,769.7 298.2,768.6 295.5,767.1 292.6,765.5 289.7,763.9 286.8,762.3 283.8,760.6 280.9,759.0 277.9,757.4 274.9,755.8 271.9,754.3 268.9,752.8 266.0,751.3 263.1,749.9 260.1,748.5 257.2,747.0 252.9,745.1 248.4,744.9"/>
<polygon fill="#0000FF" clip-path="url(#gm3)" points="248.4,757.8 253.1,757.5 256.8,755.6 258.1,755.2 260.1,755.3 263.0,755.3 265.9,755.3 268.6,755.3 271.1,755.5 273.6,755.8 276.3,756.4 279.4,757.0 282.3,757.5 284.4,757.9 286.2,758.6 288.2,759.9 290.6,762.1 293.3,764.7 296.2,767.8 299.3,770.9 302.4,773.8 305.6,776.5 309.0,779.1 312.6,781.2 316.2,782.9 319.8,784.0 323.3,784.8 326.8,785.3 330.0,785.5 333.2,785.6 336.5,785.6 339.9,785.3 343.2,784.8 346.4,784.2 349.7,783.4 352.9,782.4 355.9,781.4 358.9,780.4 361.9,779.4 364.9,778.3 367.9,777.1 370.9,776.0 373.8,774.8 376.7,773.7 379.7,772.5 382.6,771.4 385.5,770.2 388.5,769.1 391.4,767.9 394.4,766.7 397.4,765.5 400.4,764.2 403.3,762.9 406.2,761.7 409.1,760.4 412.1,759.2 415.0,757.9 417.9,756.7 420.8,755.4 423.7,754.2 426.7,753.0 429.6,751.8 432.5,750.6 435.4,749.3 438.3,748.1 441.3,746.9 444.2,745.7 447.1,744.5 450.0,743.4 452.9,742.2 455.9,741.0 458.8,739.8 461.7,738.7 464.6,737.5 467.5,736.3 470.4,735.2 473.4,734.0 476.3,732.9 479.2,731.8 482.1,730.6 485.0,729.5 487.9,728.4 490.9,727.3 493.8,726.2 496.7,725.1 499.6,724.0 502.5,722.9 505.4,721.8 508.4,720.7 511.3,719.7 514.2,718.6 517.1,717.6 520.0,716.5 522.9,715.5 525.9,714.4 528.8,713.4 531.7,712.4 534.6,711.4 537.5,710.4 540.4,709.4 543.3,708.4 546.3,707.4 549.2,706.4 552.1,705.4 555.0,704.5 557.9,703.5 560.8,702.6 563.7,701.6 566.7,700.7 569.6,699.7 572.5,698.8 575.4,697.9 578.3,696.9 581.3,696.0 584.2,695.1 587.1,694.2 590.0,693.3 592.9,692.4 595.8,691.6 598.7,690.7 601.6,689.8 604.5,689.0 607.5,688.1 610.4,687.3 613.3,686.5 616.2,685.7 619.1,684.9 622.0,684.1 624.9,683.3 627.8,682.5 630.7,681.7 633.7,680.9 636.6,680.2 639.5,679.4 642.4,678.7 645.3,677.9 648.2,677.2 651.1,676.5 654.0,675.8 656.9,675.1 659.8,674.4 662.8,673.7 665.7,673.0 668.6,672.4 671.5,671.7 674.4,671.1 677.3,670.4 680.2,669.8 683.1,669.2 686.0,668.6 688.9,668.0 692.0,667.3 695.1,666.5 698.0,665.8 700.9,665.1 703.8,664.3 706.7,663.6 709.6,662.9 712.6,662.2 715.5,661.6 718.4,660.9 721.3,660.2 724.2,659.6 727.1,658.9 730.0,658.3 732.9,657.6 735.8,657.0 738.7,656.4 741.6,655.8 744.5,655.2 747.4,654.6 750.4,654.1 753.3,653.5 756.2,653.0 759.1,652.4 762.0,651.9 764.9,651.4 767.8,650.9 770.7,650.3 773.7,649.8 776.9,649.2 779.9,648.5 782.8,647.8 785.7,647.1 788.6,646.4 791.6,645.7 794.5,645.1 797.4,644.4 800.3,643.8 803.2,643.2 806.1,642.5 809.0,641.9 811.9,641.3 814.8,640.7 817.7,640.2 820.6,639.6 823.5,639.0 826.4,638.5 829.3,637.9 832.2,637.4 835.2,636.9 837.9,636.4 840.6,636.1 843.5,635.7 846.4,635.4 849.3,635.1 852.2,634.8 855.1,634.5 858.1,634.2 861.0,633.9 863.9,633.6 866.8,633.4 869.7,633.1 872.6,632.9 875.5,632.6 878.4,632.4 881.3,632.2 884.2,632.0 887.1,631.8 890.0,631.6 892.9,631.5 895.8,631.3 898.5,631.1 901.2,631.2 904.1,631.2 907.0,631.3 909.9,631.4 912.8,631.5 915.7,631.6 918.6,631.8 921.5,631.9 924.4,632.0 927.3,632.2 930.2,632.3 933.1,632.5 936.0,632.7 938.9,632.9 941.8,633.1 944.7,633.3 947.7,633.5 950.6,633.7 953.5,633.9 956.4,634.2 959.3,634.4 962.2,634.7 965.1,635.0 968.0,635.2 970.9,635.5 973.8,635.8 976.7,636.1 979.6,636.5 982.4,636.8 985.2,637.2 988.1,637.6 991.0,638.1 993.9,638.6 996.8,639.1 999.7,639.6 1002.6,640.1 1005.6,640.6 1008.5,641.1 1011.4,641.6 1014.3,642.1 1017.2,642.7 1020.1,643.2 1023.0,643.8 1025.9,644.4 1028.8,645.0 1031.7,645.5 1034.6,646.1 1037.6,646.7 1040.5,647.3 1043.4,648.0 1046.3,648.6 1049.2,649.2 1052.1,649.9 1055.0,650.5 1057.9,651.2 1060.8,651.8 1063.8,652.5 1066.7,653.2 1069.6,653.9 1072.5,654.6 1075.4,655.3 1078.3,656.0 1081.2,656.7 1084.1,657.5 1087.0,658.2 1090.0,658.9 1092.9,659.7 1095.8,660.4 1098.7,661.2 1101.6,662.0 1104.5,662.8 1107.4,663.5 1110.4,664.3 1113.3,665.1 1116.2,665.9 1119.1,666.8 1122.0,667.6 1124.9,668.4 1127.8,669.2 1130.8,670.1 1133.8,670.9 1136.7,671.7 1139.7,672.5 1142.6,673.3 1145.5,674.0 1148.4,674.8 1151.3,675.7 1154.2,676.5 1157.1,677.3 1160.1,678.1 1163.0,679.0 1165.9,679.8 1168.8,680.6 1171.7,681.5 1174.6,682.3 1177.6,683.2 1180.5,684.1 1183.4,684.9 1186.3,685.8 1189.2,686.7 1192.1,687.6 1195.1,688.5 1198.0,689.4 1200.9,690.3 1203.8,691.2 1206.7,692.1 1209.6,693.0 1212.6,694.0 1215.5,694.9 1218.4,695.8 1221.3,696.8 1224.2,697.7 1227.2,698.7 1230.1,699.6 1233.0,700.6 1235.9,701.5 1238.8,702.5 1241.8,703.5 1244.7,704.5 1247.6,705.4 1250.5,706.4 1253.4,707.4 1256.4,708.4 1259.3,709.4 1262.2,710.4 1265.1,711.4 1268.0,712.4 1271.0,713.4 1273.8,714.4 1276.6,715.5 1279.5,716.6 1282.4,717.8 1285.3,718.9 1288.3,720.1 1291.2,721.2 1294.1,722.4 1297.0,723.6 1299.9,724.7 1302.9,725.9 1305.8,727.1 1308.7,728.3 1311.6,729.4 1314.6,730.6 1317.5,731.8 1320.4,733.0 1323.3,734.2 1326.3,735.4 1329.2,736.6 1332.1,737.8 1335.0,739.0 1338.0,740.2 1340.9,741.4 1343.8,742.6 1346.7,743.8 1349.7,745.0 1352.6,746.2 1355.5,747.4 1358.4,748.6 1361.4,749.8 1364.3,751.0 1367.2,752.2 1370.1,753.4 1373.1,754.7 1376.0,755.9 1378.9,757.1 1381.8,758.3 1384.8,759.5 1387.7,760.7 1390.6,761.9 1393.6,763.2 1396.5,764.4 1399.4,765.6 1402.3,766.8 1405.3,768.0 1408.2,769.2 1411.1,770.5 1414.1,771.7 1417.0,772.9 1419.9,774.1 1422.8,775.3 1425.8,776.5 1428.7,777.8 1431.6,779.0 1434.6,780.2 1437.5,781.4 1440.4,782.6 1443.3,783.8 1446.3,785.0 1449.2,786.2 1452.1,787.4 1455.0,788.6 1457.9,789.8 1460.8,791.1 1463.7,792.4 1466.7,793.6 1469.6,794.9 1472.5,796.2 1475.5,797.4 1478.4,798.7 1481.3,799.9 1484.3,801.2 1487.2,802.5 1490.1,803.7 1493.1,805.0 1496.0,806.2 1498.9,807.4 1501.9,808.7 1504.8,809.9 1507.7,811.2 1510.7,812.4 1513.6,813.6 1516.5,814.8 1519.5,816.1 1522.4,817.3 1525.3,818.5 1528.3,819.7 1531.2,820.9 1534.1,822.1 1537.1,823.3 1540.0,824.5 1542.9,825.7 1545.9,826.9 1548.8,828.1 1551.7,829.3 1554.7,830.5 1557.6,831.7 1560.5,832.8 1563.5,834.0 1566.4,835.2 1569.4,836.3 1572.3,837.5 1575.2,838.6 1578.2,839.8 1581.1,840.9 1584.0,842.1 1587.0,843.2 1589.9,844.3 1592.8,845.4 1595.8,846.6 1598.7,847.7 1601.7,848.8 1604.6,849.9 1607.5,851.0 1610.5,852.1 1613.4,853.2 1616.4,854.2 1619.3,855.3 1622.2,856.4 1625.2,857.4 1628.1,858.5 1631.0,859.6 1634.0,860.6 1636.9,861.7 1639.8,862.7 1642.7,863.7 1645.7,864.8 1648.6,865.9 1651.5,866.9 1654.5,868.0 1657.4,869.0 1660.4,870.0 1663.3,871.1 1666.2,872.1 1669.2,873.1 1672.1,874.1 1675.1,875.1 1678.0,876.1 1680.9,877.1 1683.9,878.1 1686.8,879.1 1689.8,880.1 1692.7,881.0 1695.7,882.0 1698.6,882.9 1701.5,883.9 1704.5,884.8 1707.4,885.7 1710.4,886.6 1713.3,887.6 1716.3,888.5 1719.2,889.4 1722.1,890.2 1725.1,891.1 1728.0,892.0 1731.0,892.9 1733.9,893.7 1736.9,894.6 1739.8,895.4 1742.7,896.3 1745.7,897.1 1748.6,897.9 1751.6,898.7 1754.5,899.5 1757.5,900.3 1760.4,901.1 1763.4,901.9 1766.3,902.6 1769.2,903.4 1772.2,904.2 1775.1,904.9 1778.1,905.6 1781.0,906.4 1784.0,907.1 1787.0,907.8 1789.9,908.5 1792.9,909.2 1795.8,909.8 1798.8,910.5 1801.7,911.1 1804.7,911.7 1807.6,912.4 1810.6,913.0 1813.5,913.6 1816.4,914.2 1819.4,914.8 1822.3,915.4 1825.3,915.9 1828.2,916.5 1831.2,917.0 1834.1,917.6 1837.1,918.1 1840.0,918.6 1843.0,919.2 1845.9,919.7 1848.9,920.2 1851.8,920.7 1854.8,921.1 1857.7,921.6 1860.7,922.1 1863.6,922.5 1866.6,922.9 1869.5,923.4 1872.5,923.8 1875.4,924.2 1878.4,924.6 1881.3,925.0 1884.2,925.4 1887.0,925.8 1889.8,926.2 1892.8,926.7 1895.7,927.2 1898.7,927.7 1901.6,928.2 1904.6,928.6 1907.5,929.1 1910.5,929.5 1913.4,930.0 1916.4,930.4 1919.3,930.8 1922.3,931.2 1925.2,931.6 1928.2,931.9 1931.1,932.3 1934.1,932.7 1937.0,933.0 1940.0,933.4 1942.9,933.7 1945.9,934.0 1948.8,934.3 1951.8,934.6 1954.7,934.9 1957.7,935.2 1960.6,935.5 1963.6,935.7 1966.5,936.0 1969.5,936.2 1972.4,936.5 1975.5,936.7 1978.5,936.8 1981.4,937.0 1984.4,937.1 1987.4,937.2 1990.3,937.3 1993.3,937.4 1996.2,937.5 1999.2,937.6 2002.1,937.6 2005.1,937.7 2008.0,937.8 2011.0,937.8 2013.9,937.8 2016.9,937.8 2019.8,937.8 2022.8,937.8 2025.7,937.8 2028.7,937.8 2031.6,937.8 2034.6,937.7 2037.5,937.7 2040.5,937.6 2043.4,937.5 2046.4,937.5 2049.3,937.4 2052.3,937.3 2055.2,937.2 2058.2,937.0 2061.1,936.9 2064.1,936.8 2066.9,936.6 2069.8,936.5 2072.7,936.4 2075.7,936.3 2078.6,936.2 2081.6,936.1 2084.5,936.0 2087.5,935.8 2090.4,935.7 2093.4,935.5 2096.3,935.4 2099.3,935.2 2102.2,935.0 2105.2,934.8 2108.1,934.6 2111.1,934.4 2114.0,934.2 2117.0,933.9 2119.9,933.7 2122.9,933.4 2125.8,933.2 2128.8,932.9 2131.7,932.6 2134.7,932.3 2137.6,932.0 2140.6,931.7 2143.5,931.4 2146.5,931.1 2149.4,930.8 2152.4,930.4 2155.3,930.1 2158.3,929.7 2161.2,929.3 2164.1,929.0 2167.1,928.6 2170.0,928.2 2173.0,927.8 2175.9,927.4 2178.9,927.0 2181.8,926.5 2184.8,926.1 2187.7,925.7 2190.7,925.2 2193.6,924.7 2196.6,924.3 2199.5,923.8 2202.5,923.3 2205.4,922.8 2208.3,922.3 2211.4,921.8 2214.4,921.2 2217.4,920.6 2220.3,920.0 2223.2,919.4 2226.2,918.7 2229.1,918.1 2232.1,917.5 2235.0,916.8 2238.0,916.2 2240.9,915.5 2243.8,914.8 2246.8,914.1 2249.7,913.5 2252.7,912.8 2255.6,912.1 2258.6,911.4 2261.5,910.6 2264.5,909.9 2267.4,909.2 2270.3,908.5 2273.3,907.7 2276.2,907.0 2279.2,906.2 2282.1,905.4 2285.1,904.7 2288.1,903.8 2291.1,903.0 2294.0,902.1 2296.9,901.2 2299.9,900.4 2302.8,899.5 2305.8,898.6 2308.7,897.7 2311.7,896.8 2314.6,895.9 2317.5,895.0 2320.5,894.1 2323.4,893.2 2326.4,892.3 2329.3,891.4 2332.2,890.4 2335.2,889.5 2338.1,888.5 2341.0,887.6 2344.0,886.6 2346.9,885.7 2349.9,884.7 2352.8,883.7 2355.7,882.8 2358.7,881.8 2361.6,880.8 2364.6,879.8 2367.5,878.8 2370.4,877.8 2373.4,876.8 2376.3,875.8 2379.2,874.8 2382.2,873.7 2385.1,872.7 2388.0,871.7 2391.0,870.7 2393.9,869.6 2396.9,868.6 2399.8,867.5 2402.7,866.5 2405.7,865.4 2408.6,864.4 2411.5,863.3 2414.5,862.3 2417.4,861.2 2420.3,860.1 2423.3,859.0 2426.2,858.0 2429.1,856.9 2432.1,855.8 2435.0,854.7 2437.9,853.6 2440.9,852.5 2443.8,851.4 2446.7,850.3 2449.7,849.2 2452.6,848.1 2455.5,847.0 2458.5,845.9 2461.4,844.8 2464.3,843.7 2459.5,831.1 2456.6,832.2 2453.7,833.3 2450.8,834.4 2447.8,835.5 2444.9,836.6 2442.0,837.7 2439.1,838.8 2436.2,839.9 2433.2,841.0 2430.3,842.1 2427.4,843.1 2424.5,844.2 2421.5,845.3 2418.6,846.4 2415.7,847.4 2412.8,848.5 2409.9,849.6 2406.9,850.6 2404.0,851.7 2401.1,852.7 2398.2,853.8 2395.3,854.8 2392.3,855.9 2389.4,856.9 2386.5,857.9 2383.6,859.0 2380.7,860.0 2377.7,861.0 2374.8,862.0 2371.9,863.0 2369.0,864.0 2366.1,865.0 2363.1,866.0 2360.2,867.0 2357.3,868.0 2354.4,869.0 2351.5,869.9 2348.6,870.9 2345.6,871.9 2342.7,872.8 2339.8,873.8 2336.9,874.7 2334.0,875.7 2331.0,876.6 2328.1,877.6 2325.2,878.5 2322.3,879.4 2319.4,880.3 2316.5,881.2 2313.5,882.1 2310.6,883.0 2307.7,883.9 2304.8,884.8 2301.9,885.7 2299.0,886.6 2296.1,887.4 2293.1,888.3 2290.2,889.1 2287.3,890.0 2284.4,890.8 2281.6,891.6 2278.7,892.4 2275.8,893.1 2272.9,893.9 2270.0,894.6 2267.0,895.4 2264.1,896.1 2261.2,896.8 2258.3,897.5 2255.4,898.2 2252.5,898.9 2249.6,899.6 2246.7,900.3 2243.7,901.0 2240.8,901.7 2237.9,902.3 2235.0,903.0 2232.1,903.6 2229.2,904.3 2226.3,904.9 2223.4,905.5 2220.4,906.2 2217.5,906.8 2214.6,907.4 2211.7,908.0 2208.9,908.5 2206.1,909.0 2203.2,909.5 2200.2,910.0 2197.3,910.5 2194.4,910.9 2191.5,911.4 2188.6,911.9 2185.7,912.3 2182.8,912.7 2179.9,913.2 2177.0,913.6 2174.1,914.0 2171.1,914.4 2168.2,914.8 2165.3,915.2 2162.4,915.6 2159.5,916.0 2156.6,916.3 2153.7,916.7 2150.8,917.0 2147.9,917.4 2145.0,917.7 2142.1,918.0 2139.2,918.3 2136.2,918.6 2133.3,918.9 2130.4,919.2 2127.5,919.5 2124.6,919.7 2121.7,920.0 2118.8,920.2 2115.9,920.5 2113.0,920.7 2110.1,920.9 2107.2,921.1 2104.3,921.3 2101.4,921.5 2098.5,921.7 2095.5,921.9 2092.6,922.1 2089.7,922.2 2086.8,922.4 2083.9,922.5 2081.0,922.6 2078.1,922.7 2075.2,922.9 2072.3,923.0 2069.4,923.0 2066.4,923.1 2063.4,923.3 2060.5,923.4 2057.6,923.5 2054.7,923.7 2051.8,923.8 2048.9,923.9 2046.0,924.0 2043.1,924.0 2040.2,924.1 2037.2,924.2 2034.3,924.2 2031.4,924.3 2028.5,924.3 2025.6,924.3 2022.7,924.3 2019.8,924.3 2016.9,924.3 2014.0,924.3 2011.1,924.3 2008.2,924.3 2005.3,924.2 2002.4,924.2 1999.5,924.1 1996.6,924.0 1993.7,923.9 1990.8,923.8 1987.9,923.7 1985.0,923.6 1982.0,923.5 1979.1,923.4 1976.3,923.2 1973.5,923.0 1970.6,922.8 1967.7,922.5 1964.8,922.3 1961.9,922.0 1959.0,921.8 1956.0,921.5 1953.1,921.2 1950.2,920.9 1947.3,920.6 1944.4,920.3 1941.5,920.0 1938.6,919.6 1935.7,919.3 1932.8,918.9 1929.9,918.6 1927.0,918.2 1924.1,917.8 1921.2,917.4 1918.3,917.0 1915.4,916.6 1912.5,916.2 1909.6,915.7 1906.6,915.3 1903.7,914.8 1900.8,914.4 1897.9,913.9 1895.0,913.4 1892.1,912.9 1889.1,912.4 1886.0,912.0 1883.1,911.6 1880.2,911.2 1877.3,910.8 1874.4,910.4 1871.4,910.0 1868.5,909.6 1865.6,909.2 1862.7,908.7 1859.8,908.3 1856.9,907.8 1854.0,907.3 1851.1,906.8 1848.2,906.4 1845.3,905.9 1842.4,905.4 1839.5,904.8 1836.6,904.3 1833.7,903.8 1830.7,903.2 1827.8,902.7 1824.9,902.1 1822.0,901.5 1819.1,901.0 1816.2,900.4 1813.3,899.8 1810.4,899.2 1807.5,898.5 1804.6,897.9 1801.7,897.3 1798.7,896.6 1795.8,896.0 1792.9,895.3 1790.0,894.7 1787.2,894.0 1784.3,893.3 1781.3,892.5 1778.4,891.8 1775.5,891.1 1772.6,890.3 1769.7,889.6 1766.8,888.8 1763.9,888.1 1761.0,887.3 1758.1,886.5 1755.1,885.7 1752.2,884.9 1749.3,884.1 1746.4,883.3 1743.5,882.4 1740.6,881.6 1737.7,880.8 1734.8,879.9 1731.9,879.1 1728.9,878.2 1726.0,877.3 1723.1,876.4 1720.2,875.5 1717.3,874.7 1714.4,873.8 1711.5,872.8 1708.6,871.9 1705.6,871.0 1702.7,870.1 1699.8,869.1 1696.9,868.2 1694.0,867.2 1691.1,866.3 1688.2,865.3 1685.2,864.3 1682.3,863.3 1679.4,862.4 1676.5,861.4 1673.6,860.4 1670.7,859.3 1667.8,858.3 1664.8,857.3 1661.9,856.3 1659.0,855.2 1656.1,854.2 1653.2,853.2 1650.3,852.1 1647.3,851.0 1644.4,850.0 1641.4,848.9 1638.5,847.9 1635.6,846.8 1632.7,845.8 1629.8,844.8 1626.8,843.7 1623.9,842.6 1621.0,841.6 1618.1,840.5 1615.2,839.4 1612.2,838.3 1609.3,837.2 1606.4,836.1 1603.5,835.0 1600.6,833.9 1597.7,832.8 1594.7,831.7 1591.8,830.6 1588.9,829.5 1586.0,828.3 1583.1,827.2 1580.1,826.1 1577.2,824.9 1574.3,823.8 1571.4,822.6 1568.5,821.5 1565.5,820.3 1562.6,819.1 1559.7,818.0 1556.8,816.8 1553.9,815.6 1550.9,814.4 1548.0,813.2 1545.1,812.0 1542.2,810.8 1539.3,809.6 1536.3,808.4 1533.4,807.2 1530.5,806.0 1527.6,804.8 1524.6,803.6 1521.7,802.4 1518.8,801.2 1515.9,799.9 1513.0,798.7 1510.0,797.5 1507.1,796.2 1504.2,795.0 1501.3,793.8 1498.3,792.5 1495.4,791.3 1492.5,790.0 1489.6,788.8 1486.6,787.5 1483.7,786.3 1480.8,785.0 1477.9,783.8 1474.9,782.5 1472.0,781.2 1469.1,780.0 1466.2,778.7 1463.2,777.4 1460.2,776.2 1457.3,774.9 1454.3,773.7 1451.4,772.5 1448.5,771.3 1445.6,770.1 1442.6,768.9 1439.7,767.7 1436.8,766.5 1433.9,765.3 1430.9,764.1 1428.0,762.9 1425.1,761.6 1422.2,760.4 1419.2,759.2 1416.3,758.0 1413.4,756.8 1410.5,755.6 1407.5,754.3 1404.6,753.1 1401.7,751.9 1398.7,750.7 1395.8,749.5 1392.9,748.3 1390.0,747.0 1387.0,745.8 1384.1,744.6 1381.2,743.4 1378.2,742.2 1375.3,741.0 1372.4,739.8 1369.4,738.5 1366.5,737.3 1363.6,736.1 1360.7,734.9 1357.7,733.7 1354.8,732.5 1351.9,731.3 1348.9,730.1 1346.0,728.9 1343.1,727.7 1340.1,726.5 1337.2,725.3 1334.3,724.1 1331.4,722.9 1328.4,721.7 1325.5,720.5 1322.6,719.3 1319.6,718.1 1316.7,716.9 1313.8,715.7 1310.8,714.6 1307.9,713.4 1305.0,712.2 1302.0,711.0 1299.1,709.9 1296.2,708.7 1293.2,707.5 1290.3,706.4 1287.4,705.2 1284.4,704.1 1281.5,702.9 1278.4,701.7 1275.4,700.6 1272.4,699.6 1269.5,698.6 1266.6,697.6 1263.6,696.6 1260.7,695.6 1257.8,694.6 1254.8,693.6 1251.9,692.6 1249.0,691.7 1246.0,690.7 1243.1,689.7 1240.2,688.7 1237.2,687.8 1234.3,686.8 1231.3,685.8 1228.4,684.9 1225.5,683.9 1222.5,683.0 1219.6,682.0 1216.7,681.1 1213.7,680.2 1210.8,679.2 1207.8,678.3 1204.9,677.4 1202.0,676.5 1199.0,675.6 1196.1,674.7 1193.2,673.8 1190.2,672.9 1187.3,672.0 1184.3,671.1 1181.4,670.3 1178.5,669.4 1175.5,668.5 1172.6,667.7 1169.6,666.8 1166.7,666.0 1163.8,665.1 1160.8,664.3 1157.9,663.5 1154.9,662.7 1152.0,661.8 1149.1,661.0 1146.1,660.2 1143.2,659.4 1140.2,658.6 1137.3,657.9 1134.4,657.1 1131.6,656.3 1128.6,655.4 1125.7,654.6 1122.7,653.8 1119.8,652.9 1116.9,652.1 1113.9,651.3 1111.0,650.5 1108.0,649.7 1105.1,648.9 1102.1,648.2 1099.2,647.4 1096.3,646.6 1093.3,645.9 1090.4,645.1 1087.4,644.4 1084.5,643.6 1081.5,642.9 1078.6,642.2 1075.6,641.5 1072.7,640.8 1069.8,640.1 1066.8,639.4 1063.9,638.7 1060.9,638.0 1058.0,637.3 1055.0,636.7 1052.1,636.0 1049.1,635.4 1046.2,634.8 1043.3,634.1 1040.3,633.5 1037.4,632.9 1034.4,632.3 1031.5,631.7 1028.5,631.1 1025.6,630.6 1022.6,630.0 1019.7,629.4 1016.7,628.9 1013.8,628.3 1010.8,627.8 1007.9,627.3 1005.0,626.8 1002.0,626.3 999.1,625.8 996.1,625.3 993.2,624.8 990.2,624.3 987.3,623.8 984.2,623.4 981.1,623.0 978.2,622.7 975.2,622.4 972.3,622.1 969.3,621.8 966.4,621.5 963.4,621.3 960.5,621.0 957.5,620.7 954.6,620.5 951.6,620.2 948.7,620.0 945.7,619.8 942.8,619.6 939.8,619.4 936.9,619.2 933.9,619.0 931.0,618.9 928.0,618.7 925.1,618.5 922.1,618.4 919.2,618.3 916.2,618.1 913.3,618.0 910.3,617.9 907.4,617.8 904.4,617.7 901.4,617.7 898.2,617.7 895.1,617.8 892.1,618.0 889.2,618.2 886.2,618.3 883.3,618.5 880.3,618.7 877.4,619.0 874.4,619.2 871.5,619.4 868.5,619.7 865.6,619.9 862.6,620.2 859.7,620.5 856.7,620.7 853.8,621.0 850.8,621.3 847.9,621.7 844.9,622.0 842.0,622.3 839.0,622.7 835.9,623.0 832.8,623.6 829.8,624.1 826.9,624.7 823.9,625.2 821.0,625.8 818.0,626.3 815.1,626.9 812.1,627.5 809.2,628.1 806.2,628.7 803.3,629.3 800.3,630.0 797.4,630.6 794.4,631.2 791.5,631.9 788.5,632.6 785.6,633.3 782.7,633.9 779.7,634.6 776.8,635.3 774.0,636.0 771.3,636.6 768.4,637.0 765.5,637.6 762.5,638.1 759.6,638.6 756.6,639.1 753.7,639.7 750.7,640.3 747.8,640.8 744.8,641.4 741.9,642.0 738.9,642.6 736.0,643.2 733.0,643.8 730.1,644.4 727.1,645.1 724.2,645.7 721.2,646.4 718.3,647.0 715.3,647.7 712.4,648.4 709.4,649.1 706.5,649.8 703.5,650.5 700.6,651.2 697.6,652.0 694.7,652.7 691.8,653.5 689.0,654.2 686.2,654.7 683.3,655.4 680.3,656.0 677.4,656.6 674.4,657.2 671.5,657.9 668.5,658.5 665.6,659.2 662.6,659.9 659.7,660.6 656.7,661.3 653.8,662.0 650.8,662.7 647.9,663.4 645.0,664.1 642.0,664.8 639.1,665.6 636.1,666.3 633.2,667.1 630.2,667.9 627.3,668.6 624.3,669.4 621.4,670.2 618.4,671.0 615.5,671.8 612.6,672.7 609.6,673.5 606.7,674.3 603.7,675.2 600.8,676.0 597.8,676.9 594.9,677.8 591.9,678.6 589.0,679.5 586.1,680.4 583.1,681.3 580.2,682.2 577.2,683.1 574.3,684.1 571.3,685.0 568.4,685.9 565.5,686.9 562.5,687.8 559.6,688.8 556.7,689.7 553.7,690.7 550.8,691.6 547.8,692.6 544.9,693.6 541.9,694.6 539.0,695.6 536.1,696.6 533.1,697.6 530.2,698.6 527.2,699.6 524.3,700.7 521.4,701.7 518.4,702.8 515.5,703.8 512.5,704.9 509.6,705.9 506.6,707.0 503.7,708.1 500.8,709.2 497.8,710.2 494.9,711.3 491.9,712.4 489.0,713.5 486.1,714.7 483.1,715.8 480.2,716.9 477.3,718.0 474.3,719.2 471.4,720.3 468.4,721.5 465.5,722.6 462.6,723.8 459.6,724.9 456.7,726.1 453.7,727.3 450.8,728.5 447.9,729.7 444.9,730.8 442.0,732.0 439.1,733.2 436.1,734.4 433.2,735.7 430.3,736.9 427.3,738.1 424.4,739.3 421.4,740.5 418.5,741.8 415.6,743.0 412.6,744.3 409.7,745.5 406.8,746.7 403.8,748.0 400.9,749.3 398.0,750.5 395.0,751.8 392.1,753.0 389.3,754.2 386.4,755.4 383.5,756.5 380.6,757.7 377.7,758.8 374.7,760.0 371.8,761.1 368.9,762.3 366.0,763.4 363.1,764.5 360.2,765.6 357.4,766.7 354.5,767.7 351.6,768.6 348.8,769.6 346.1,770.4 343.6,771.0 341.0,771.5 338.4,771.9 335.9,772.1 333.4,772.1 330.7,772.0 328.1,771.9 325.7,771.5 323.3,771.0 321.1,770.3 318.8,769.3 316.6,767.9 314.1,766.0 311.4,763.8 308.7,761.2 305.9,758.4 303.0,755.3 299.8,752.2 296.4,749.2 292.5,746.7 288.5,745.0 284.8,744.2 281.8,743.7 279.0,743.2 275.9,742.5 272.5,742.0 269.1,741.8 265.9,741.8 263.0,741.8 260.1,741.8 256.2,741.9 251.6,743.1 249.5,744.5 248.4,744.3"/>
<polygon fill="#00FFFF" clip-path="url(#gm4)" points="248.4,761.1 250.3,761.1 252.3,761.7 255.2,762.6 258.2,763.5 261.1,764.4 264.0,765.2 266.9,766.1 269.9,767.0 272.8,767.8 275.7,768.7 278.7,769.6 281.6,770.5 284.4,771.3 287.2,772.2 290.0,773.2 292.8,774.2 295.6,775.4 298.6,776.6 301.5,777.7 304.6,779.0 307.8,780.1 311.0,781.0 314.0,781.8 317.0,782.6 320.0,783.4 323.3,784.1 326.7,784.5 330.1,784.8 333.5,784.8 336.8,784.6 340.0,784.2 343.0,783.8 346.1,783.4 349.2,782.8 352.3,782.1 355.3,781.5 358.3,780.8 361.3,780.0 364.4,779.2 367.4,778.3 370.4,777.4 373.3,776.6 376.2,775.7 379.1,774.8 382.1,773.9 385.0,773.1 387.9,772.2 390.9,771.3 394.0,770.3 397.2,769.2 400.3,767.9 403.3,766.6 406.2,765.4 409.1,764.1 412.1,762.9 415.0,761.6 417.9,760.4 420.8,759.1 423.7,757.9 426.7,756.7 429.6,755.5 432.5,754.2 435.4,753.0 438.3,751.8 441.3,750.6 444.2,749.4 447.1,748.2 450.0,747.0 452.9,745.9 455.9,744.7 458.8,743.5 461.7,742.3 464.6,741.2 467.5,740.0 470.4,738.9 473.4,737.7 476.3,736.6 479.2,735.5 482.1,734.3 485.0,733.2 487.9,732.1 490.9,731.0 493.8,729.9 496.7,728.8 499.6,727.7 502.5,726.6 505.4,725.5 508.4,724.4 511.3,723.4 514.2,722.3 517.1,721.3 520.0,720.2 522.9,719.2 525.9,718.1 528.8,717.1 531.7,716.1 534.6,715.1 537.5,714.1 540.4,713.1 543.3,712.1 546.3,711.1 549.2,710.1 552.1,709.1 555.0,708.2 557.9,707.2 560.8,706.2 563.7,705.3 566.6,704.4 569.5,703.5 572.4,702.6 575.2,701.8 578.2,701.0 581.1,700.1 584.0,699.3 586.9,698.5 589.8,697.7 592.7,696.9 595.6,696.1 598.5,695.3 601.5,694.6 604.4,693.8 607.3,693.1 610.2,692.3 613.1,691.6 616.0,690.8 618.9,690.1 621.8,689.4 624.7,688.7 627.7,688.0 630.6,687.3 633.5,686.6 636.4,685.9 639.3,685.3 642.2,684.6 645.1,684.0 648.0,683.3 650.9,682.7 653.8,682.1 656.7,681.5 659.7,680.9 662.6,680.3 665.5,679.7 668.4,679.1 671.3,678.5 674.2,678.0 677.1,677.4 680.0,676.9 682.9,676.3 685.8,675.8 688.7,675.3 691.9,674.8 695.0,674.0 697.9,673.3 700.8,672.6 703.7,672.0 706.6,671.3 709.5,670.7 712.4,670.0 715.3,669.4 718.3,668.8 721.2,668.2 724.1,667.6 727.0,667.0 729.9,666.4 732.8,665.8 735.7,665.2 738.6,664.7 741.5,664.1 744.4,663.6 747.3,663.1 750.2,662.6 753.1,662.1 756.0,661.6 759.0,661.1 761.9,660.6 764.8,660.1 767.7,659.7 770.6,659.2 773.6,658.8 776.7,658.2 779.7,657.6 782.6,656.9 785.6,656.3 788.5,655.8 791.4,655.2 794.3,654.6 797.2,654.0 800.1,653.5 803.0,652.9 805.9,652.4 808.8,651.9 811.7,651.4 814.6,650.9 817.5,650.4 820.4,649.9 823.3,649.4 826.2,648.9 829.2,648.5 832.1,648.0 835.0,647.6 837.8,647.2 840.6,646.9 843.5,646.5 846.4,646.2 849.3,645.9 852.2,645.6 855.1,645.3 858.0,645.1 860.9,644.8 863.8,644.5 866.7,644.3 869.6,644.1 872.6,643.8 875.5,643.6 878.4,643.4 881.3,643.2 884.2,643.0 887.1,642.8 890.0,642.7 892.9,642.5 895.8,642.4 898.5,642.2 901.1,642.3 904.0,642.4 906.9,642.5 909.8,642.6 912.7,642.8 915.6,642.9 918.5,643.1 921.4,643.2 924.3,643.4 927.2,643.6 930.1,643.8 933.0,644.0 936.0,644.2 938.9,644.4 941.8,644.6 944.7,644.9 947.6,645.1 950.5,645.4 953.4,645.6 956.3,645.9 959.2,646.2 962.1,646.5 965.0,646.8 967.9,647.1 970.8,647.4 973.7,647.7 976.7,648.1 979.6,648.4 982.5,648.8 985.4,649.1 988.3,649.5 991.2,649.9 994.1,650.3 997.0,650.7 999.9,651.1 1002.8,651.5 1005.7,651.9 1008.6,652.4 1011.6,652.8 1014.5,653.3 1017.4,653.7 1020.3,654.2 1023.2,654.7 1026.1,655.2 1029.0,655.6 1031.9,656.1 1034.8,656.7 1037.7,657.2 1040.6,657.7 1043.6,658.2 1046.5,658.8 1049.4,659.3 1052.3,659.9 1055.2,660.5 1058.1,661.0 1061.0,661.6 1063.9,662.2 1066.8,662.8 1069.8,663.4 1072.7,664.0 1075.6,664.6 1078.5,665.3 1081.4,665.9 1084.3,666.5 1087.2,667.2 1090.1,667.9 1093.1,668.5 1096.0,669.2 1098.9,669.9 1101.8,670.6 1104.7,671.3 1107.6,672.0 1110.5,672.7 1113.4,673.4 1116.4,674.1 1119.3,674.8 1122.2,675.6 1125.1,676.3 1128.0,677.1 1130.9,677.8 1133.8,678.6 1136.8,679.4 1139.7,680.1 1142.6,680.9 1145.5,681.7 1148.4,682.5 1151.3,683.3 1154.2,684.1 1157.2,684.9 1160.1,685.8 1163.0,686.6 1165.9,687.4 1168.8,688.3 1171.7,689.1 1174.7,690.0 1177.6,690.8 1180.5,691.7 1183.4,692.5 1186.3,693.4 1189.2,694.3 1192.2,695.2 1195.1,696.1 1198.0,697.0 1200.9,697.9 1203.8,698.8 1206.7,699.7 1209.7,700.6 1212.6,701.5 1215.5,702.4 1218.4,703.4 1221.3,704.3 1224.3,705.2 1227.2,706.2 1230.1,707.1 1233.0,708.1 1235.9,709.0 1238.9,710.0 1241.8,710.9 1244.7,711.9 1247.6,712.9 1250.5,713.9 1253.5,714.8 1256.4,715.8 1259.3,716.8 1262.2,717.8 1265.1,718.8 1268.1,719.8 1271.0,720.8 1273.8,721.8 1276.6,722.9 1279.5,724.0 1282.4,725.2 1285.3,726.3 1288.3,727.5 1291.2,728.6 1294.1,729.8 1297.0,730.9 1300.0,732.1 1302.9,733.3 1305.8,734.4 1308.7,735.6 1311.6,736.8 1314.6,738.0 1317.5,739.1 1320.4,740.3 1323.3,741.5 1326.3,742.7 1329.2,743.9 1332.1,745.1 1335.0,746.3 1338.0,747.4 1340.9,748.6 1343.8,749.8 1346.7,751.0 1349.7,752.2 1352.6,753.4 1355.5,754.6 1358.4,755.8 1361.4,757.1 1364.3,758.3 1367.2,759.5 1370.1,760.7 1373.1,761.9 1376.0,763.1 1378.9,764.3 1381.9,765.5 1384.8,766.7 1387.7,767.9 1390.6,769.1 1393.6,770.4 1396.5,771.6 1399.4,772.8 1402.4,774.0 1405.3,775.2 1408.2,776.4 1411.1,777.6 1414.1,778.8 1417.0,780.0 1419.9,781.3 1422.9,782.5 1425.8,783.7 1428.7,784.9 1431.6,786.1 1434.6,787.3 1437.5,788.5 1440.4,789.7 1443.4,790.9 1446.3,792.1 1449.2,793.3 1452.1,794.5 1455.0,795.7 1457.9,796.9 1460.8,798.2 1463.7,799.5 1466.6,800.8 1469.6,802.1 1472.5,803.4 1475.4,804.7 1478.4,805.9 1481.3,807.2 1484.2,808.5 1487.1,809.8 1490.1,811.1 1493.0,812.3 1495.9,813.6 1498.9,814.9 1501.8,816.1 1504.7,817.4 1507.7,818.7 1510.6,819.9 1513.5,821.2 1516.5,822.4 1519.4,823.7 1522.3,824.9 1525.3,826.2 1528.2,827.4 1531.1,828.6 1534.1,829.9 1537.0,831.1 1540.0,832.3 1542.9,833.5 1545.8,834.7 1548.8,836.0 1551.7,837.2 1554.6,838.4 1557.6,839.6 1560.5,840.8 1563.4,842.0 1566.4,843.2 1569.3,844.3 1572.2,845.5 1575.2,846.7 1578.1,847.9 1581.1,849.0 1584.0,850.2 1586.9,851.4 1589.9,852.5 1592.8,853.7 1595.7,854.8 1598.7,855.9 1601.6,857.1 1604.6,858.2 1607.5,859.3 1610.4,860.4 1613.4,861.5 1616.3,862.6 1619.2,863.7 1622.2,864.8 1625.1,865.9 1628.1,867.0 1631.0,868.1 1633.9,869.2 1636.9,870.2 1639.8,871.3 1642.8,872.3 1645.7,873.4 1648.6,874.4 1651.6,875.5 1654.5,876.5 1657.5,877.5 1660.4,878.5 1663.3,879.5 1666.3,880.5 1669.2,881.5 1672.2,882.5 1675.1,883.5 1678.1,884.5 1681.0,885.4 1683.9,886.4 1686.9,887.3 1689.8,888.3 1692.8,889.2 1695.7,890.1 1698.6,891.1 1701.6,892.0 1704.5,892.9 1707.5,893.8 1710.4,894.7 1713.4,895.6 1716.3,896.5 1719.2,897.3 1722.2,898.2 1725.1,899.1 1728.1,899.9 1731.0,900.7 1734.0,901.6 1736.9,902.4 1739.9,903.2 1742.8,904.0 1745.7,904.8 1748.7,905.6 1751.6,906.4 1754.6,907.2 1757.5,908.0 1760.5,908.7 1763.4,909.5 1766.4,910.2 1769.3,911.0 1772.2,911.7 1775.2,912.4 1778.1,913.1 1781.1,913.8 1784.0,914.5 1787.0,915.2 1789.9,915.9 1792.9,916.6 1795.8,917.2 1798.7,917.9 1801.7,918.5 1804.6,919.2 1807.6,919.8 1810.5,920.4 1813.5,921.1 1816.4,921.7 1819.4,922.3 1822.3,922.9 1825.3,923.4 1828.2,924.0 1831.2,924.6 1834.1,925.1 1837.1,925.7 1840.0,926.2 1843.0,926.7 1845.9,927.2 1848.9,927.7 1851.8,928.2 1854.8,928.7 1857.7,929.2 1860.7,929.7 1863.6,930.1 1866.5,930.6 1869.5,931.0 1872.4,931.5 1875.4,931.9 1878.3,932.3 1881.3,932.7 1884.2,933.1 1887.1,933.5 1890.0,933.9 1892.9,934.3 1895.9,934.8 1898.8,935.2 1901.8,935.6 1904.7,936.0 1907.7,936.4 1910.6,936.7 1913.6,937.1 1916.5,937.5 1919.5,937.8 1922.4,938.2 1925.4,938.5 1928.3,938.8 1931.3,939.1 1934.2,939.4 1937.2,939.7 1940.1,940.0 1943.1,940.2 1946.0,940.5 1949.0,940.7 1951.9,941.0 1954.9,941.2 1957.8,941.4 1960.8,941.6 1963.7,941.8 1966.7,942.0 1969.6,942.2 1972.6,942.4 1975.5,942.5 1978.5,942.7 1981.4,942.9 1984.4,943.0 1987.3,943.1 1990.3,943.3 1993.2,943.4 1996.2,943.5 1999.1,943.6 2002.1,943.7 2005.0,943.8 2008.0,943.8 2010.9,943.9 2013.9,943.9 2016.8,944.0 2019.8,944.0 2022.7,944.0 2025.7,944.0 2028.6,944.0 2031.6,944.0 2034.5,944.0 2037.5,943.9 2040.4,943.9 2043.4,943.8 2046.3,943.8 2049.3,943.7 2052.2,943.6 2055.2,943.5 2058.1,943.4 2061.1,943.3 2064.0,943.2 2066.8,943.1 2069.7,943.1 2072.6,943.0 2075.6,943.0 2078.5,942.9 2081.5,942.8 2084.4,942.7 2087.4,942.6 2090.3,942.5 2093.3,942.4 2096.2,942.3 2099.2,942.2 2102.1,942.0 2105.1,941.9 2108.0,941.7 2111.0,941.6 2113.9,941.4 2116.9,941.2 2119.8,941.0 2122.8,940.8 2125.7,940.6 2128.7,940.4 2131.6,940.1 2134.6,939.9 2137.5,939.6 2140.5,939.4 2143.4,939.1 2146.4,938.8 2149.3,938.6 2152.3,938.3 2155.2,938.0 2158.1,937.6 2161.1,937.3 2164.0,937.0 2167.0,936.7 2169.9,936.3 2172.9,936.0 2175.8,935.6 2178.8,935.2 2181.7,934.8 2184.7,934.5 2187.6,934.1 2190.6,933.6 2193.5,933.2 2196.5,932.8 2199.4,932.4 2202.4,931.9 2205.3,931.5 2208.2,931.0 2211.3,930.6 2214.3,930.0 2217.3,929.4 2220.3,928.8 2223.2,928.2 2226.1,927.6 2229.1,927.0 2232.0,926.4 2235.0,925.7 2237.9,925.1 2240.9,924.5 2243.8,923.8 2246.8,923.1 2249.7,922.5 2252.6,921.8 2255.6,921.1 2258.5,920.4 2261.5,919.7 2264.4,919.0 2267.4,918.3 2270.3,917.6 2273.2,916.9 2276.2,916.2 2279.1,915.4 2282.1,914.7 2285.1,913.9 2288.1,913.1 2291.1,912.2 2294.0,911.3 2296.9,910.5 2299.9,909.6 2302.8,908.7 2305.8,907.9 2308.7,907.0 2311.7,906.1 2314.6,905.2 2317.5,904.3 2320.5,903.4 2323.4,902.4 2326.4,901.5 2329.3,900.6 2332.2,899.7 2335.2,898.7 2338.1,897.8 2341.0,896.8 2344.0,895.9 2346.9,894.9 2349.9,893.9 2352.8,893.0 2355.7,892.0 2358.7,891.0 2361.6,890.0 2364.6,889.0 2367.5,888.0 2370.4,887.0 2373.4,886.0 2376.3,885.0 2379.2,884.0 2382.2,883.0 2385.1,882.0 2388.0,880.9 2391.0,879.9 2393.9,878.9 2396.9,877.8 2399.8,876.8 2402.7,875.7 2405.7,874.7 2408.6,873.6 2411.5,872.6 2414.5,871.5 2417.4,870.4 2420.3,869.4 2423.3,868.3 2426.2,867.2 2429.1,866.1 2432.1,865.0 2435.0,864.0 2437.9,862.9 2440.9,861.8 2443.8,860.7 2446.7,859.6 2449.7,858.5 2452.6,857.4 2455.5,856.3 2458.5,855.1 2461.4,854.0 2464.3,852.9 2459.5,840.3 2456.6,841.4 2453.7,842.5 2450.8,843.6 2447.8,844.7 2444.9,845.8 2442.0,846.9 2439.1,848.0 2436.2,849.1 2433.2,850.2 2430.3,851.3 2427.4,852.4 2424.5,853.5 2421.5,854.5 2418.6,855.6 2415.7,856.7 2412.8,857.7 2409.9,858.8 2406.9,859.9 2404.0,860.9 2401.1,862.0 2398.2,863.0 2395.3,864.1 2392.3,865.1 2389.4,866.1 2386.5,867.2 2383.6,868.2 2380.7,869.2 2377.7,870.2 2374.8,871.2 2371.9,872.3 2369.0,873.3 2366.1,874.3 2363.1,875.3 2360.2,876.2 2357.3,877.2 2354.4,878.2 2351.5,879.2 2348.6,880.2 2345.6,881.1 2342.7,882.1 2339.8,883.0 2336.9,884.0 2334.0,884.9 2331.0,885.9 2328.1,886.8 2325.2,887.7 2322.3,888.6 2319.4,889.6 2316.5,890.5 2313.5,891.4 2310.6,892.3 2307.7,893.2 2304.8,894.1 2301.9,894.9 2299.0,895.8 2296.1,896.7 2293.1,897.5 2290.2,898.4 2287.3,899.2 2284.4,900.1 2281.6,900.9 2278.7,901.6 2275.8,902.3 2272.9,903.1 2270.0,903.8 2267.1,904.5 2264.2,905.2 2261.3,905.9 2258.3,906.6 2255.4,907.3 2252.5,908.0 2249.6,908.6 2246.7,909.3 2243.8,910.0 2240.9,910.6 2238.0,911.3 2235.0,911.9 2232.1,912.5 2229.2,913.2 2226.3,913.8 2223.4,914.4 2220.5,915.0 2217.6,915.6 2214.7,916.2 2211.8,916.7 2209.0,917.3 2206.2,917.7 2203.3,918.2 2200.3,918.6 2197.4,919.0 2194.5,919.5 2191.6,919.9 2188.7,920.3 2185.8,920.7 2182.9,921.1 2180.0,921.5 2177.1,921.8 2174.2,922.2 2171.3,922.6 2168.3,922.9 2165.4,923.2 2162.5,923.6 2159.6,923.9 2156.7,924.2 2153.8,924.5 2150.9,924.8 2148.0,925.1 2145.1,925.4 2142.2,925.7 2139.3,925.9 2136.4,926.2 2133.4,926.4 2130.5,926.7 2127.6,926.9 2124.7,927.1 2121.8,927.3 2118.9,927.5 2116.0,927.7 2113.1,927.9 2110.2,928.1 2107.3,928.3 2104.4,928.4 2101.5,928.6 2098.6,928.7 2095.7,928.8 2092.7,928.9 2089.8,929.1 2086.9,929.2 2084.0,929.2 2081.1,929.3 2078.2,929.4 2075.3,929.5 2072.4,929.5 2069.5,929.6 2066.5,929.6 2063.4,929.7 2060.5,929.8 2057.6,930.0 2054.7,930.1 2051.8,930.1 2048.9,930.2 2046.0,930.3 2043.1,930.4 2040.2,930.4 2037.3,930.4 2034.4,930.5 2031.5,930.5 2028.6,930.5 2025.7,930.5 2022.8,930.5 2019.9,930.5 2017.0,930.5 2014.1,930.4 2011.1,930.4 2008.2,930.3 2005.3,930.3 2002.4,930.2 1999.5,930.1 1996.6,930.0 1993.7,929.9 1990.8,929.8 1987.9,929.7 1985.0,929.5 1982.1,929.4 1979.2,929.2 1976.3,929.1 1973.3,928.9 1970.4,928.7 1967.5,928.6 1964.6,928.4 1961.7,928.2 1958.8,928.0 1955.9,927.8 1953.0,927.5 1950.1,927.3 1947.2,927.0 1944.3,926.8 1941.4,926.5 1938.5,926.3 1935.6,926.0 1932.7,925.7 1929.8,925.4 1926.9,925.1 1923.9,924.7 1921.0,924.4 1918.1,924.1 1915.2,923.7 1912.3,923.3 1909.4,923.0 1906.5,922.6 1903.6,922.2 1900.7,921.8 1897.8,921.4 1894.9,921.0 1892.0,920.5 1889.0,920.1 1886.0,919.7 1883.1,919.3 1880.2,918.9 1877.3,918.5 1874.4,918.1 1871.5,917.7 1868.6,917.2 1865.7,916.8 1862.7,916.3 1859.8,915.9 1856.9,915.4 1854.0,914.9 1851.1,914.4 1848.2,913.9 1845.3,913.4 1842.4,912.9 1839.5,912.4 1836.6,911.8 1833.7,911.3 1830.8,910.7 1827.9,910.2 1824.9,909.6 1822.0,909.0 1819.1,908.4 1816.2,907.8 1813.3,907.2 1810.4,906.6 1807.5,906.0 1804.6,905.4 1801.7,904.7 1798.8,904.1 1795.9,903.4 1792.9,902.7 1790.0,902.1 1787.1,901.4 1784.2,900.7 1781.3,900.0 1778.4,899.3 1775.5,898.6 1772.6,897.9 1769.7,897.1 1766.7,896.4 1763.8,895.7 1760.9,894.9 1758.0,894.1 1755.1,893.4 1752.2,892.6 1749.3,891.8 1746.4,891.0 1743.5,890.2 1740.5,889.4 1737.6,888.6 1734.7,887.8 1731.8,886.9 1728.9,886.1 1726.0,885.2 1723.1,884.4 1720.2,883.5 1717.2,882.6 1714.3,881.8 1711.4,880.9 1708.5,880.0 1705.6,879.1 1702.7,878.2 1699.8,877.3 1696.8,876.3 1693.9,875.4 1691.0,874.5 1688.1,873.5 1685.2,872.6 1682.3,871.6 1679.4,870.7 1676.4,869.7 1673.5,868.7 1670.6,867.7 1667.7,866.7 1664.8,865.7 1661.9,864.7 1659.0,863.7 1656.0,862.7 1653.1,861.7 1650.2,860.7 1647.3,859.6 1644.4,858.6 1641.5,857.5 1638.6,856.5 1635.6,855.4 1632.7,854.3 1629.8,853.3 1626.9,852.2 1624.0,851.1 1621.0,850.0 1618.1,848.9 1615.2,847.8 1612.3,846.7 1609.4,845.6 1606.5,844.5 1603.5,843.3 1600.6,842.2 1597.7,841.1 1594.8,839.9 1591.9,838.8 1588.9,837.6 1586.0,836.5 1583.1,835.3 1580.2,834.2 1577.3,833.0 1574.3,831.8 1571.4,830.6 1568.5,829.5 1565.6,828.3 1562.7,827.1 1559.7,825.9 1556.8,824.7 1553.9,823.5 1551.0,822.3 1548.1,821.1 1545.1,819.8 1542.2,818.6 1539.3,817.4 1536.4,816.2 1533.5,815.0 1530.5,813.7 1527.6,812.5 1524.7,811.2 1521.8,810.0 1518.8,808.8 1515.9,807.5 1513.0,806.2 1510.1,805.0 1507.2,803.7 1504.2,802.5 1501.3,801.2 1498.4,799.9 1495.5,798.7 1492.5,797.4 1489.6,796.1 1486.7,794.9 1483.8,793.6 1480.8,792.3 1477.9,791.0 1475.0,789.7 1472.1,788.4 1469.1,787.1 1466.2,785.9 1463.3,784.6 1460.2,783.3 1457.3,782.0 1454.3,780.8 1451.4,779.6 1448.5,778.4 1445.6,777.2 1442.6,776.0 1439.7,774.8 1436.8,773.6 1433.9,772.4 1430.9,771.2 1428.0,770.0 1425.1,768.8 1422.2,767.6 1419.2,766.4 1416.3,765.2 1413.4,763.9 1410.4,762.7 1407.5,761.5 1404.6,760.3 1401.7,759.1 1398.7,757.9 1395.8,756.7 1392.9,755.5 1389.9,754.2 1387.0,753.0 1384.1,751.8 1381.2,750.6 1378.2,749.4 1375.3,748.2 1372.4,747.0 1369.4,745.8 1366.5,744.6 1363.6,743.4 1360.7,742.2 1357.7,741.0 1354.8,739.7 1351.9,738.5 1348.9,737.3 1346.0,736.1 1343.1,735.0 1340.1,733.8 1337.2,732.6 1334.3,731.4 1331.3,730.2 1328.4,729.0 1325.5,727.8 1322.5,726.6 1319.6,725.4 1316.7,724.3 1313.8,723.1 1310.8,721.9 1307.9,720.7 1305.0,719.6 1302.0,718.4 1299.1,717.2 1296.2,716.1 1293.2,714.9 1290.3,713.7 1287.4,712.6 1284.4,711.4 1281.5,710.3 1278.4,709.1 1275.4,708.0 1272.4,707.0 1269.5,706.0 1266.6,705.0 1263.6,704.0 1260.7,703.0 1257.8,702.0 1254.8,701.1 1251.9,700.1 1248.9,699.1 1246.0,698.1 1243.1,697.2 1240.1,696.2 1237.2,695.2 1234.3,694.3 1231.3,693.3 1228.4,692.4 1225.5,691.4 1222.5,690.5 1219.6,689.6 1216.6,688.6 1213.7,687.7 1210.8,686.8 1207.8,685.9 1204.9,685.0 1202.0,684.0 1199.0,683.1 1196.1,682.3 1193.1,681.4 1190.2,680.5 1187.3,679.6 1184.3,678.7 1181.4,677.9 1178.4,677.0 1175.5,676.1 1172.6,675.3 1169.6,674.4 1166.7,673.6 1163.7,672.8 1160.8,671.9 1157.9,671.1 1154.9,670.3 1152.0,669.5 1149.0,668.7 1146.1,667.9 1143.2,667.1 1140.2,666.3 1137.3,665.5 1134.3,664.8 1131.4,664.0 1128.4,663.2 1125.5,662.5 1122.6,661.8 1119.6,661.0 1116.7,660.3 1113.7,659.6 1110.8,658.8 1107.9,658.1 1104.9,657.4 1102.0,656.7 1099.0,656.1 1096.1,655.4 1093.1,654.7 1090.2,654.0 1087.2,653.4 1084.3,652.7 1081.4,652.1 1078.4,651.4 1075.5,650.8 1072.5,650.2 1069.6,649.6 1066.6,649.0 1063.7,648.4 1060.7,647.8 1057.8,647.2 1054.9,646.6 1051.9,646.1 1049.0,645.5 1046.0,645.0 1043.1,644.4 1040.1,643.9 1037.2,643.4 1034.2,642.8 1031.3,642.3 1028.3,641.8 1025.4,641.3 1022.4,640.9 1019.5,640.4 1016.6,639.9 1013.6,639.5 1010.7,639.0 1007.7,638.6 1004.8,638.1 1001.8,637.7 998.9,637.3 995.9,636.9 993.0,636.5 990.0,636.1 987.1,635.7 984.1,635.4 981.2,635.0 978.2,634.7 975.3,634.3 972.3,634.0 969.4,633.7 966.4,633.4 963.5,633.0 960.5,632.7 957.6,632.5 954.6,632.2 951.7,631.9 948.7,631.7 945.8,631.4 942.8,631.2 939.9,630.9 936.9,630.7 934.0,630.5 931.0,630.3 928.1,630.1 925.1,629.9 922.2,629.7 919.2,629.6 916.3,629.4 913.3,629.3 910.4,629.1 907.4,629.0 904.5,628.9 901.5,628.8 898.3,628.7 895.1,628.9 892.2,629.0 889.2,629.2 886.3,629.4 883.3,629.6 880.4,629.7 877.4,629.9 874.5,630.2 871.5,630.4 868.6,630.6 865.6,630.8 862.7,631.1 859.7,631.4 856.8,631.6 853.8,631.9 850.9,632.2 847.9,632.5 845.0,632.8 842.0,633.1 839.1,633.5 836.0,633.8 833.0,634.3 830.0,634.7 827.1,635.1 824.1,635.6 821.2,636.1 818.2,636.6 815.3,637.1 812.3,637.6 809.4,638.1 806.4,638.6 803.5,639.1 800.5,639.7 797.6,640.2 794.6,640.8 791.7,641.4 788.7,641.9 785.8,642.5 782.8,643.1 779.9,643.7 776.9,644.4 774.1,645.0 771.4,645.4 768.5,645.9 765.6,646.3 762.6,646.8 759.7,647.3 756.7,647.8 753.8,648.3 750.8,648.8 747.9,649.3 744.9,649.8 742.0,650.3 739.0,650.9 736.1,651.4 733.1,652.0 730.2,652.6 727.2,653.1 724.3,653.7 721.3,654.3 718.4,655.0 715.5,655.6 712.5,656.2 709.6,656.8 706.6,657.5 703.7,658.2 700.7,658.8 697.8,659.5 694.8,660.2 691.9,660.9 689.1,661.5 686.4,662.0 683.5,662.5 680.5,663.1 677.6,663.6 674.6,664.2 671.7,664.7 668.7,665.3 665.8,665.9 662.8,666.4 659.9,667.0 656.9,667.6 654.0,668.3 651.0,668.9 648.1,669.5 645.1,670.1 642.2,670.8 639.2,671.4 636.3,672.1 633.4,672.8 630.4,673.5 627.5,674.2 624.5,674.9 621.6,675.6 618.6,676.3 615.7,677.0 612.7,677.7 609.8,678.5 606.8,679.2 603.9,680.0 601.0,680.7 598.0,681.5 595.1,682.3 592.1,683.1 589.2,683.9 586.2,684.7 583.3,685.5 580.3,686.3 577.4,687.2 574.5,688.0 571.5,688.8 568.6,689.7 565.6,690.6 562.6,691.5 559.6,692.5 556.7,693.4 553.7,694.4 550.8,695.3 547.8,696.3 544.9,697.3 541.9,698.3 539.0,699.3 536.1,700.3 533.1,701.3 530.2,702.3 527.2,703.3 524.3,704.4 521.4,705.4 518.4,706.4 515.5,707.5 512.5,708.6 509.6,709.6 506.6,710.7 503.7,711.8 500.8,712.9 497.8,713.9 494.9,715.0 491.9,716.1 489.0,717.2 486.1,718.4 483.1,719.5 480.2,720.6 477.3,721.7 474.3,722.9 471.4,724.0 468.4,725.2 465.5,726.3 462.6,727.5 459.6,728.6 456.7,729.8 453.7,731.0 450.8,732.2 447.9,733.3 444.9,734.5 442.0,735.7 439.1,736.9 436.1,738.1 433.2,739.4 430.3,740.6 427.3,741.8 424.4,743.0 421.4,744.2 418.5,745.5 415.6,746.7 412.6,747.9 409.7,749.2 406.8,750.4 403.8,751.7 400.9,753.0 398.0,754.2 395.1,755.4 392.4,756.5 389.7,757.5 386.9,758.4 384.0,759.2 381.1,760.1 378.2,761.0 375.3,761.9 372.3,762.8 369.4,763.6 366.5,764.5 363.6,765.4 360.8,766.2 358.0,766.9 355.2,767.6 352.3,768.3 349.4,769.0 346.6,769.6 343.9,770.0 341.2,770.4 338.3,770.8 335.6,771.1 333.0,771.3 330.6,771.3 328.2,771.1 325.7,770.8 323.1,770.2 320.3,769.5 317.4,768.8 314.6,768.0 312.0,767.2 309.3,766.3 306.5,765.2 303.6,764.0 300.6,762.9 297.7,761.7 294.6,760.5 291.5,759.4 288.4,758.4 285.4,757.5 282.5,756.7 279.6,755.8 276.7,754.9 273.7,754.0 270.8,753.2 267.9,752.3 264.9,751.4 262.0,750.5 259.1,749.7 256.2,748.8 252.3,747.7 248.4,747.6"/>
</g>
<g fill="#FF0000" shape-rendering="crispEdges"><rect x="243" y="753" width="7" height="3"/><rect x="246.5" y="758.7" width="3.5" height="5.6"/></g>
<g clip-path="url(#ci)" shape-rendering="crispEdges" stroke="none">
<polygon fill="#FF0000" points="465.4,1157.3 467.2,1157.1 469.3,1158.6 472.8,1160.6 476.2,1162.6 479.7,1164.6 483.3,1166.6 487.0,1168.5 490.9,1170.1 494.9,1171.3 498.8,1172.0 502.6,1172.5 506.4,1172.7 510.2,1172.7 513.8,1172.5 517.4,1172.2 521.1,1171.8 524.7,1171.3 528.3,1170.6 531.7,1169.9 535.2,1169.2 538.7,1168.4 542.3,1167.6 545.7,1166.7 549.2,1165.8 552.6,1164.9 556.0,1164.1 559.5,1163.2 562.9,1162.3 566.3,1161.5 569.8,1160.6 573.2,1159.7 576.6,1158.8 580.1,1158.0 583.5,1157.1 586.9,1156.2 590.3,1155.4 593.6,1154.7 597.0,1153.9 600.5,1153.2 603.9,1152.4 607.3,1151.7 610.8,1150.9 614.2,1150.2 617.6,1149.4 621.1,1148.7 624.5,1148.0 627.9,1147.2 631.4,1146.5 634.8,1145.7 638.3,1144.9 641.7,1144.1 645.1,1143.4 648.6,1142.6 652.0,1141.8 655.4,1141.1 658.9,1140.3 662.3,1139.6 665.7,1138.8 669.1,1138.1 672.6,1137.3 676.0,1136.6 679.4,1135.8 682.9,1135.1 686.3,1134.4 689.7,1133.6 693.1,1132.9 696.6,1132.2 700.0,1131.4 703.4,1130.7 706.9,1130.0 710.3,1129.3 713.7,1128.6 717.1,1127.9 720.6,1127.2 724.0,1126.5 727.4,1125.8 730.8,1125.1 734.3,1124.4 737.7,1123.7 741.1,1123.0 744.6,1122.4 748.0,1121.7 751.4,1121.0 754.8,1120.3 758.3,1119.7 761.7,1119.0 765.1,1118.4 768.5,1117.7 772.0,1117.1 775.4,1116.4 778.8,1115.8 782.2,1115.2 785.7,1114.5 789.1,1113.9 792.5,1113.3 795.9,1112.7 799.4,1112.1 802.8,1111.5 806.2,1110.9 809.7,1110.3 813.1,1109.7 816.5,1109.1 819.9,1108.5 823.4,1107.9 826.8,1107.4 830.2,1106.8 833.6,1106.2 837.0,1105.7 840.4,1105.1 843.9,1104.6 847.3,1104.1 850.7,1103.6 854.1,1103.1 857.5,1102.6 861.0,1102.1 864.4,1101.6 867.8,1101.2 871.2,1100.7 874.7,1100.2 878.1,1099.7 881.5,1099.3 884.9,1098.8 888.4,1098.4 891.8,1097.9 895.2,1097.5 898.6,1097.1 902.1,1096.6 905.5,1096.2 908.9,1095.8 912.4,1095.4 915.8,1095.0 919.3,1094.5 922.7,1094.1 926.1,1093.6 929.6,1093.2 933.0,1092.7 936.4,1092.3 939.8,1091.9 943.2,1091.5 946.7,1091.1 950.1,1090.7 953.5,1090.3 956.9,1089.9 960.4,1089.5 963.8,1089.1 967.2,1088.7 970.6,1088.3 974.1,1088.0 977.5,1087.6 980.9,1087.2 984.4,1086.9 987.8,1086.5 991.3,1086.1 994.7,1085.7 998.1,1085.3 1001.5,1084.9 1005.0,1084.6 1008.4,1084.2 1011.8,1083.9 1015.2,1083.5 1018.7,1083.2 1022.1,1082.8 1025.5,1082.5 1028.9,1082.2 1032.3,1081.8 1035.8,1081.5 1039.2,1081.2 1042.6,1080.9 1046.0,1080.6 1049.5,1080.3 1052.9,1080.0 1056.3,1079.8 1059.7,1079.5 1063.1,1079.2 1066.6,1079.0 1070.0,1078.7 1073.4,1078.5 1076.8,1078.2 1080.3,1078.0 1083.7,1077.8 1087.1,1077.6 1090.5,1077.3 1093.9,1077.1 1097.4,1076.9 1100.8,1076.7 1104.2,1076.6 1107.6,1076.4 1111.1,1076.2 1114.5,1076.0 1117.9,1075.9 1121.3,1075.7 1124.7,1075.6 1128.2,1075.4 1131.6,1075.3 1135.0,1075.1 1138.4,1075.0 1141.9,1074.9 1145.3,1074.8 1148.7,1074.7 1152.1,1074.6 1155.5,1074.5 1158.9,1074.5 1162.3,1074.4 1165.7,1074.4 1169.1,1074.4 1172.6,1074.4 1176.0,1074.4 1179.4,1074.4 1182.8,1074.4 1186.3,1074.5 1189.7,1074.5 1193.1,1074.5 1196.5,1074.6 1199.9,1074.6 1203.4,1074.7 1206.8,1074.7 1210.2,1074.8 1213.6,1074.9 1217.1,1074.9 1220.5,1075.0 1223.9,1075.1 1227.3,1075.2 1230.7,1075.3 1234.2,1075.4 1237.6,1075.5 1241.0,1075.7 1244.4,1075.8 1247.9,1075.9 1251.3,1076.1 1254.7,1076.2 1258.1,1076.4 1261.5,1076.5 1265.0,1076.7 1268.4,1076.9 1271.8,1077.1 1275.2,1077.3 1278.7,1077.5 1282.1,1077.7 1285.5,1077.9 1288.9,1078.1 1292.4,1078.3 1295.8,1078.5 1299.2,1078.7 1302.6,1079.0 1306.0,1079.2 1309.4,1079.5 1312.8,1079.8 1316.2,1080.1 1319.7,1080.4 1323.1,1080.8 1326.5,1081.1 1329.9,1081.4 1333.4,1081.7 1336.8,1082.1 1340.2,1082.4 1343.6,1082.8 1347.0,1083.1 1350.5,1083.5 1353.9,1083.9 1357.3,1084.2 1360.7,1084.6 1364.2,1085.0 1367.6,1085.4 1371.0,1085.8 1374.4,1086.2 1377.9,1086.6 1381.4,1087.0 1384.8,1087.3 1388.2,1087.7 1391.6,1088.1 1395.0,1088.5 1398.5,1088.9 1401.9,1089.3 1405.3,1089.7 1408.7,1090.1 1412.2,1090.6 1415.6,1091.0 1419.0,1091.4 1422.4,1091.8 1425.9,1092.3 1429.3,1092.7 1432.7,1093.2 1436.1,1093.6 1439.6,1094.1 1443.0,1094.6 1446.4,1095.0 1449.8,1095.5 1453.3,1096.0 1456.7,1096.5 1460.1,1097.0 1463.5,1097.5 1467.0,1098.0 1470.4,1098.5 1473.8,1099.0 1477.2,1099.5 1480.7,1100.0 1484.1,1100.5 1487.5,1101.0 1490.9,1101.6 1494.4,1102.1 1497.8,1102.7 1501.2,1103.2 1504.6,1103.8 1508.0,1104.4 1511.5,1104.9 1513.4,1093.6 1510.0,1093.0 1506.5,1092.4 1503.1,1091.8 1499.6,1091.3 1496.2,1090.8 1492.7,1090.2 1489.3,1089.7 1485.8,1089.2 1482.4,1088.6 1479.0,1088.1 1475.5,1087.6 1472.1,1087.1 1468.6,1086.6 1465.2,1086.1 1461.8,1085.6 1458.3,1085.1 1454.9,1084.6 1451.4,1084.1 1448.0,1083.6 1444.6,1083.2 1441.1,1082.7 1437.7,1082.2 1434.2,1081.8 1430.8,1081.3 1427.3,1080.9 1423.9,1080.4 1420.5,1080.0 1417.0,1079.6 1413.6,1079.1 1410.1,1078.7 1406.7,1078.3 1403.3,1077.9 1399.8,1077.5 1396.4,1077.1 1392.9,1076.7 1389.5,1076.3 1386.0,1075.9 1382.6,1075.5 1379.2,1075.2 1375.8,1074.8 1372.3,1074.4 1368.9,1074.0 1365.5,1073.6 1362.0,1073.2 1358.6,1072.8 1355.1,1072.4 1351.7,1072.1 1348.2,1071.7 1344.8,1071.3 1341.4,1071.0 1337.9,1070.6 1334.5,1070.3 1331.0,1070.0 1327.6,1069.6 1324.2,1069.3 1320.7,1069.0 1317.3,1068.7 1313.8,1068.4 1310.4,1068.1 1306.9,1067.8 1303.4,1067.5 1300.0,1067.3 1296.5,1067.0 1293.1,1066.8 1289.6,1066.6 1286.2,1066.4 1282.8,1066.2 1279.3,1066.0 1275.9,1065.8 1272.4,1065.6 1269.0,1065.4 1265.5,1065.2 1262.1,1065.1 1258.7,1064.9 1255.2,1064.7 1251.8,1064.6 1248.3,1064.4 1244.9,1064.3 1241.4,1064.2 1238.0,1064.0 1234.6,1063.9 1231.1,1063.8 1227.7,1063.7 1224.2,1063.6 1220.8,1063.5 1217.3,1063.4 1213.9,1063.4 1210.4,1063.3 1207.0,1063.2 1203.6,1063.2 1200.1,1063.1 1196.7,1063.1 1193.2,1063.0 1189.8,1063.0 1186.3,1063.0 1182.9,1062.9 1179.5,1062.9 1176.0,1062.9 1172.6,1062.9 1169.1,1062.9 1165.7,1062.9 1162.2,1062.9 1158.8,1063.0 1155.3,1063.0 1151.8,1063.1 1148.4,1063.2 1144.9,1063.3 1141.5,1063.4 1138.0,1063.5 1134.6,1063.7 1131.1,1063.8 1127.7,1063.9 1124.3,1064.1 1120.8,1064.2 1117.4,1064.4 1113.9,1064.5 1110.5,1064.7 1107.0,1064.9 1103.6,1065.1 1100.2,1065.3 1096.7,1065.5 1093.3,1065.7 1089.8,1065.9 1086.4,1066.1 1082.9,1066.3 1079.5,1066.5 1076.0,1066.8 1072.6,1067.0 1069.2,1067.3 1065.7,1067.5 1062.3,1067.8 1058.8,1068.0 1055.4,1068.3 1051.9,1068.6 1048.5,1068.9 1045.1,1069.2 1041.6,1069.5 1038.2,1069.8 1034.7,1070.1 1031.3,1070.4 1027.8,1070.7 1024.4,1071.0 1021.0,1071.4 1017.5,1071.7 1014.1,1072.1 1010.6,1072.4 1007.2,1072.8 1003.7,1073.1 1000.3,1073.5 996.8,1073.9 993.4,1074.3 990.0,1074.7 986.5,1075.1 983.1,1075.5 979.7,1075.8 976.3,1076.2 972.8,1076.5 969.4,1076.9 966.0,1077.3 962.5,1077.7 959.1,1078.0 955.6,1078.4 952.2,1078.8 948.7,1079.2 945.3,1079.6 941.9,1080.1 938.4,1080.5 935.0,1080.9 931.5,1081.3 928.1,1081.8 924.6,1082.2 921.2,1082.7 917.8,1083.1 914.4,1083.6 911.0,1084.0 907.5,1084.4 904.1,1084.8 900.7,1085.2 897.2,1085.7 893.8,1086.1 890.3,1086.5 886.9,1087.0 883.4,1087.4 880.0,1087.9 876.6,1088.4 873.1,1088.8 869.7,1089.3 866.2,1089.8 862.8,1090.2 859.4,1090.7 855.9,1091.2 852.5,1091.7 849.0,1092.2 845.6,1092.7 842.1,1093.2 838.7,1093.8 835.2,1094.3 831.8,1094.9 828.3,1095.4 824.9,1096.0 821.4,1096.6 818.0,1097.2 814.6,1097.8 811.1,1098.3 807.7,1098.9 804.2,1099.5 800.8,1100.1 797.4,1100.8 793.9,1101.4 790.5,1102.0 787.0,1102.6 783.6,1103.2 780.2,1103.9 776.7,1104.5 773.3,1105.1 769.8,1105.8 766.4,1106.4 763.0,1107.1 759.5,1107.7 756.1,1108.4 752.6,1109.1 749.2,1109.7 745.8,1110.4 742.3,1111.1 738.9,1111.8 735.5,1112.4 732.0,1113.1 728.6,1113.8 725.1,1114.5 721.7,1115.2 718.3,1115.9 714.8,1116.6 711.4,1117.3 707.9,1118.0 704.5,1118.7 701.1,1119.5 697.6,1120.2 694.2,1120.9 690.8,1121.6 687.3,1122.4 683.9,1123.1 680.4,1123.8 677.0,1124.6 673.6,1125.3 670.1,1126.1 666.7,1126.8 663.2,1127.6 659.8,1128.3 656.4,1129.1 652.9,1129.9 649.5,1130.6 646.1,1131.4 642.6,1132.2 639.2,1132.9 635.8,1133.7 632.3,1134.5 628.9,1135.2 625.5,1136.0 622.1,1136.7 618.6,1137.5 615.2,1138.2 611.8,1139.0 608.3,1139.7 604.9,1140.4 601.5,1141.2 598.0,1141.9 594.6,1142.7 591.1,1143.4 587.6,1144.2 584.1,1145.1 580.7,1146.0 577.2,1146.8 573.8,1147.7 570.4,1148.6 566.9,1149.4 563.5,1150.3 560.1,1151.2 556.6,1152.0 553.2,1152.9 549.8,1153.8 546.3,1154.7 542.9,1155.5 539.5,1156.4 536.2,1157.2 532.9,1157.9 529.5,1158.6 526.0,1159.3 522.7,1159.9 519.5,1160.4 516.4,1160.8 513.1,1161.0 509.8,1161.2 506.7,1161.2 503.7,1161.0 500.6,1160.6 497.6,1160.1 494.8,1159.3 491.8,1158.0 488.6,1156.4 485.4,1154.6 482.0,1152.7 478.6,1150.7 475.1,1148.6 470.4,1146.1 465.4,1145.8"/>
<polygon fill="#00FF00" points="465.4,1152.3 468.0,1152.3 470.7,1153.1 474.1,1154.0 477.6,1154.9 481.0,1155.9 484.4,1156.8 487.9,1157.8 491.2,1158.7 494.6,1159.7 498.0,1160.8 501.4,1161.8 504.9,1162.9 508.3,1163.9 511.7,1165.0 515.2,1166.1 518.8,1167.1 522.4,1168.1 526.1,1168.8 529.6,1169.4 533.2,1170.0 536.8,1170.5 540.5,1170.8 544.2,1171.0 547.8,1171.0 551.4,1170.9 555.0,1170.8 558.8,1170.4 562.6,1169.7 566.2,1168.9 569.7,1168.0 573.3,1167.1 576.9,1166.1 580.4,1165.0 583.8,1163.9 587.2,1162.8 590.6,1161.8 593.9,1160.8 597.3,1159.9 600.7,1159.0 604.2,1158.1 607.6,1157.2 611.0,1156.2 614.5,1155.3 617.9,1154.4 621.3,1153.5 624.8,1152.5 628.2,1151.6 631.6,1150.7 635.0,1149.8 638.4,1148.9 641.8,1148.1 645.2,1147.3 648.6,1146.4 652.1,1145.6 655.5,1144.8 658.9,1144.0 662.4,1143.2 665.8,1142.4 669.2,1141.6 672.6,1140.8 676.1,1140.0 679.5,1139.2 682.9,1138.5 686.4,1137.7 689.8,1136.9 693.2,1136.1 696.6,1135.3 700.1,1134.6 703.5,1133.8 706.9,1133.0 710.4,1132.3 713.8,1131.5 717.2,1130.8 720.6,1130.0 724.1,1129.3 727.5,1128.5 730.9,1127.8 734.3,1127.1 737.8,1126.3 741.2,1125.6 744.6,1124.9 748.1,1124.1 751.5,1123.4 754.9,1122.7 758.3,1122.0 761.8,1121.3 765.2,1120.6 768.6,1119.9 772.0,1119.2 775.5,1118.5 778.9,1117.8 782.3,1117.2 785.7,1116.5 789.2,1115.8 792.6,1115.2 796.0,1114.5 799.4,1113.8 802.9,1113.2 806.3,1112.5 809.7,1111.9 813.2,1111.2 816.6,1110.6 820.0,1110.0 823.4,1109.4 826.9,1108.7 830.3,1108.1 833.7,1107.5 837.1,1106.9 840.5,1106.3 844.0,1105.7 847.4,1105.1 850.8,1104.6 854.2,1104.0 857.7,1103.4 861.1,1102.9 864.5,1102.3 867.9,1101.8 871.4,1101.3 874.8,1100.7 878.2,1100.2 881.6,1099.7 885.1,1099.1 888.5,1098.6 891.9,1098.1 895.3,1097.6 898.7,1097.1 902.2,1096.6 905.6,1096.1 909.0,1095.7 912.4,1095.2 915.9,1094.7 919.3,1094.2 922.7,1093.8 926.1,1093.3 929.6,1092.9 933.0,1092.4 936.4,1092.0 939.8,1091.6 943.3,1091.1 946.7,1090.7 950.1,1090.3 953.5,1089.9 957.0,1089.5 960.4,1089.1 963.8,1088.7 967.2,1088.3 970.6,1088.0 974.1,1087.6 977.5,1087.2 980.9,1086.8 984.4,1086.5 987.9,1086.1 991.3,1085.7 994.7,1085.3 998.1,1084.9 1001.5,1084.5 1005.0,1084.2 1008.4,1083.8 1011.8,1083.4 1015.2,1083.1 1018.7,1082.7 1022.1,1082.4 1025.5,1082.0 1028.9,1081.7 1032.3,1081.4 1035.8,1081.1 1039.2,1080.8 1042.6,1080.4 1046.0,1080.2 1049.5,1079.9 1052.9,1079.6 1056.3,1079.3 1059.7,1079.0 1063.2,1078.7 1066.6,1078.5 1070.0,1078.2 1073.4,1078.0 1076.8,1077.7 1080.3,1077.5 1083.8,1077.2 1087.2,1077.0 1090.6,1076.7 1094.1,1076.4 1097.5,1076.2 1100.9,1075.9 1104.3,1075.7 1107.7,1075.4 1111.2,1075.2 1114.6,1074.9 1118.0,1074.7 1121.4,1074.5 1124.9,1074.3 1128.3,1074.1 1131.7,1073.9 1135.1,1073.7 1138.5,1073.5 1142.0,1073.3 1145.4,1073.2 1148.8,1073.0 1152.2,1072.8 1155.7,1072.7 1159.3,1072.4 1162.7,1072.2 1166.1,1071.9 1169.5,1071.7 1172.9,1071.5 1176.4,1071.2 1179.8,1071.0 1183.1,1070.8 1186.4,1070.7 1189.8,1070.6 1193.2,1070.6 1196.6,1070.6 1200.1,1070.5 1203.5,1070.5 1206.9,1070.5 1210.3,1070.5 1213.8,1070.5 1217.2,1070.5 1220.6,1070.5 1224.0,1070.6 1227.4,1070.6 1230.7,1070.7 1234.1,1070.9 1237.5,1071.0 1240.9,1071.2 1244.4,1071.3 1247.8,1071.5 1251.2,1071.7 1254.6,1071.9 1258.1,1072.1 1261.5,1072.3 1264.9,1072.5 1268.3,1072.7 1271.8,1072.9 1275.2,1073.1 1278.6,1073.4 1282.0,1073.6 1285.4,1073.8 1288.9,1074.1 1292.3,1074.3 1295.7,1074.6 1299.1,1074.9 1302.6,1075.1 1306.1,1075.4 1309.5,1075.6 1312.9,1075.8 1316.4,1076.0 1319.8,1076.3 1323.2,1076.5 1326.6,1076.8 1330.1,1077.0 1333.5,1077.3 1336.9,1077.5 1340.3,1077.8 1343.8,1078.1 1347.2,1078.4 1350.6,1078.7 1354.0,1078.9 1357.4,1079.2 1360.9,1079.5 1364.3,1079.9 1367.7,1080.2 1371.1,1080.5 1374.6,1080.8 1378.0,1081.1 1381.4,1081.5 1384.8,1081.8 1388.3,1082.2 1391.7,1082.5 1395.1,1082.9 1398.5,1083.2 1402.0,1083.6 1405.4,1084.0 1408.8,1084.4 1412.2,1084.7 1415.7,1085.1 1419.1,1085.5 1422.5,1085.9 1425.9,1086.3 1429.4,1086.7 1432.8,1087.2 1436.2,1087.6 1439.6,1088.0 1443.1,1088.4 1446.5,1088.9 1449.9,1089.3 1453.3,1089.8 1456.8,1090.2 1460.2,1090.7 1463.6,1091.1 1467.0,1091.6 1470.5,1092.0 1473.9,1092.5 1477.3,1093.0 1480.7,1093.5 1484.2,1094.0 1487.6,1094.5 1490.9,1095.0 1494.3,1095.5 1497.8,1096.1 1501.2,1096.7 1504.6,1097.3 1508.0,1097.8 1511.5,1098.4 1513.4,1087.1 1510.0,1086.5 1506.5,1085.9 1503.1,1085.3 1499.6,1084.8 1496.2,1084.2 1492.7,1083.6 1489.2,1083.1 1485.8,1082.6 1482.3,1082.1 1478.9,1081.6 1475.5,1081.1 1472.0,1080.7 1468.6,1080.2 1465.1,1079.7 1461.7,1079.3 1458.3,1078.8 1454.8,1078.4 1451.4,1077.9 1447.9,1077.5 1444.5,1077.0 1441.1,1076.6 1437.6,1076.2 1434.2,1075.7 1430.7,1075.3 1427.3,1074.9 1423.8,1074.5 1420.4,1074.1 1417.0,1073.7 1413.5,1073.3 1410.1,1072.9 1406.6,1072.6 1403.2,1072.2 1399.8,1071.8 1396.3,1071.4 1392.9,1071.1 1389.4,1070.7 1386.0,1070.4 1382.5,1070.0 1379.1,1069.7 1375.7,1069.4 1372.2,1069.0 1368.8,1068.7 1365.3,1068.4 1361.9,1068.1 1358.4,1067.8 1355.0,1067.5 1351.6,1067.2 1348.1,1066.9 1344.7,1066.6 1341.2,1066.3 1337.8,1066.1 1334.4,1065.8 1330.9,1065.6 1327.5,1065.3 1324.0,1065.1 1320.6,1064.8 1317.1,1064.6 1313.7,1064.3 1310.3,1064.1 1306.8,1063.9 1303.5,1063.7 1300.0,1063.4 1296.6,1063.1 1293.1,1062.9 1289.7,1062.6 1286.3,1062.4 1282.8,1062.1 1279.4,1061.9 1275.9,1061.7 1272.5,1061.4 1269.0,1061.2 1265.6,1061.0 1262.2,1060.8 1258.7,1060.6 1255.3,1060.4 1251.8,1060.2 1248.4,1060.0 1244.9,1059.9 1241.5,1059.7 1238.1,1059.5 1234.6,1059.4 1231.2,1059.2 1227.6,1059.1 1224.1,1059.1 1220.7,1059.0 1217.2,1059.0 1213.8,1059.0 1210.3,1059.0 1206.9,1059.0 1203.4,1059.0 1200.0,1059.0 1196.6,1059.1 1193.1,1059.1 1189.7,1059.1 1186.2,1059.2 1182.6,1059.3 1179.1,1059.5 1175.6,1059.8 1172.2,1060.0 1168.7,1060.2 1165.3,1060.4 1161.9,1060.7 1158.4,1060.9 1155.1,1061.2 1151.7,1061.3 1148.3,1061.5 1144.8,1061.7 1141.4,1061.8 1137.9,1062.0 1134.5,1062.2 1131.0,1062.4 1127.6,1062.6 1124.2,1062.8 1120.7,1063.0 1117.3,1063.2 1113.8,1063.5 1110.4,1063.7 1106.9,1063.9 1103.5,1064.2 1100.0,1064.4 1096.6,1064.7 1093.2,1065.0 1089.7,1065.2 1086.3,1065.5 1082.9,1065.8 1079.5,1066.0 1076.0,1066.3 1072.6,1066.5 1069.2,1066.8 1065.7,1067.0 1062.3,1067.3 1058.8,1067.6 1055.4,1067.8 1051.9,1068.1 1048.5,1068.4 1045.0,1068.7 1041.6,1069.0 1038.2,1069.3 1034.7,1069.6 1031.3,1069.9 1027.8,1070.3 1024.4,1070.6 1020.9,1070.9 1017.5,1071.3 1014.1,1071.6 1010.6,1072.0 1007.2,1072.3 1003.7,1072.7 1000.3,1073.1 996.8,1073.5 993.4,1073.9 990.0,1074.3 986.5,1074.7 983.1,1075.1 979.7,1075.4 976.3,1075.8 972.8,1076.1 969.4,1076.5 965.9,1076.9 962.5,1077.3 959.1,1077.7 955.6,1078.1 952.2,1078.5 948.7,1078.9 945.3,1079.3 941.8,1079.7 938.4,1080.2 935.0,1080.6 931.5,1081.0 928.1,1081.5 924.6,1081.9 921.2,1082.4 917.8,1082.9 914.3,1083.3 910.9,1083.8 907.4,1084.3 904.0,1084.8 900.5,1085.2 897.1,1085.7 893.7,1086.2 890.2,1086.7 886.8,1087.3 883.3,1087.8 879.9,1088.3 876.5,1088.8 873.0,1089.4 869.6,1089.9 866.1,1090.4 862.7,1091.0 859.2,1091.5 855.8,1092.1 852.4,1092.7 848.9,1093.2 845.5,1093.8 842.0,1094.4 838.6,1095.0 835.1,1095.6 831.7,1096.2 828.3,1096.8 824.8,1097.4 821.4,1098.0 817.9,1098.7 814.5,1099.3 811.0,1099.9 807.6,1100.6 804.2,1101.2 800.7,1101.9 797.3,1102.5 793.8,1103.2 790.4,1103.9 787.0,1104.5 783.5,1105.2 780.1,1105.9 776.6,1106.6 773.2,1107.3 769.8,1107.9 766.3,1108.6 762.9,1109.3 759.5,1110.0 756.0,1110.7 752.6,1111.5 749.1,1112.2 745.7,1112.9 742.3,1113.6 738.8,1114.3 735.4,1115.1 731.9,1115.8 728.5,1116.5 725.1,1117.3 721.6,1118.0 718.2,1118.8 714.7,1119.5 711.3,1120.3 707.9,1121.0 704.4,1121.8 701.0,1122.6 697.6,1123.3 694.1,1124.1 690.7,1124.9 687.2,1125.7 683.8,1126.5 680.4,1127.2 676.9,1128.0 673.5,1128.8 670.0,1129.6 666.6,1130.4 663.2,1131.2 659.7,1132.0 656.3,1132.8 652.9,1133.6 649.4,1134.4 646.0,1135.3 642.6,1136.1 639.1,1136.9 635.6,1137.8 632.1,1138.7 628.7,1139.6 625.2,1140.5 621.8,1141.4 618.4,1142.4 614.9,1143.3 611.5,1144.2 608.1,1145.1 604.6,1146.1 601.2,1147.0 597.8,1147.9 594.3,1148.8 590.9,1149.8 587.3,1150.8 583.8,1151.8 580.4,1152.9 576.9,1154.0 573.6,1155.1 570.3,1156.0 567.0,1156.9 563.6,1157.7 560.4,1158.4 557.3,1159.0 554.2,1159.3 551.0,1159.4 547.7,1159.5 544.5,1159.5 541.3,1159.3 538.1,1159.0 534.9,1158.6 531.5,1158.1 528.2,1157.5 525.0,1156.8 521.8,1156.0 518.5,1155.1 515.1,1154.0 511.7,1152.9 508.3,1151.9 504.8,1150.8 501.4,1149.8 497.9,1148.7 494.4,1147.7 490.9,1146.7 487.5,1145.7 484.1,1144.8 480.6,1143.9 477.2,1142.9 473.8,1142.0 469.6,1140.9 465.4,1140.8"/>
<polygon fill="#00FFFF" points="465.4,1151.9 469.7,1151.8 473.5,1150.7 476.1,1150.3 479.1,1150.3 482.5,1150.3 486.0,1150.3 489.3,1150.3 492.5,1150.4 495.7,1150.7 499.1,1151.1 502.6,1151.4 506.0,1151.8 509.0,1152.1 511.8,1152.8 514.6,1153.8 517.6,1155.3 520.9,1157.0 524.3,1159.0 527.8,1161.1 531.5,1162.9 535.1,1164.7 538.9,1166.2 542.7,1167.5 546.6,1168.5 550.3,1169.2 554.0,1169.6 557.7,1169.9 561.3,1170.0 564.9,1170.1 568.5,1170.1 572.2,1169.9 575.8,1169.6 579.3,1169.3 583.0,1168.8 586.5,1168.2 590.0,1167.5 593.5,1166.9 596.9,1166.2 600.4,1165.5 603.9,1164.7 607.3,1164.0 610.8,1163.2 614.2,1162.5 617.6,1161.7 621.1,1161.0 624.5,1160.2 627.9,1159.5 631.4,1158.7 634.9,1158.0 638.3,1157.1 641.8,1156.3 645.2,1155.5 648.7,1154.7 652.1,1153.9 655.5,1153.0 658.9,1152.2 662.4,1151.4 665.8,1150.6 669.2,1149.8 672.7,1149.0 676.1,1148.2 679.5,1147.4 682.9,1146.6 686.4,1145.8 689.8,1145.0 693.2,1144.2 696.7,1143.5 700.1,1142.7 703.5,1141.9 706.9,1141.1 710.4,1140.4 713.8,1139.6 717.2,1138.9 720.6,1138.1 724.1,1137.3 727.5,1136.6 730.9,1135.8 734.4,1135.1 737.8,1134.4 741.2,1133.6 744.6,1132.9 748.1,1132.2 751.5,1131.5 754.9,1130.7 758.3,1130.0 761.8,1129.3 765.2,1128.6 768.6,1127.9 772.1,1127.2 775.5,1126.5 778.9,1125.8 782.3,1125.1 785.8,1124.4 789.2,1123.8 792.6,1123.1 796.0,1122.4 799.5,1121.8 802.9,1121.1 806.3,1120.4 809.7,1119.8 813.2,1119.1 816.6,1118.5 820.0,1117.9 823.4,1117.2 826.9,1116.6 830.3,1116.0 833.7,1115.4 837.1,1114.7 840.6,1114.1 844.0,1113.5 847.4,1112.9 850.9,1112.3 854.3,1111.7 857.7,1111.1 861.1,1110.5 864.6,1109.9 868.0,1109.4 871.4,1108.8 874.8,1108.2 878.3,1107.7 881.7,1107.1 885.1,1106.5 888.5,1106.0 892.0,1105.5 895.4,1104.9 898.8,1104.4 902.2,1103.9 905.7,1103.3 909.1,1102.8 912.5,1102.3 915.9,1101.8 919.3,1101.3 922.8,1100.8 926.2,1100.3 929.6,1099.9 933.0,1099.4 936.5,1098.9 939.9,1098.4 943.3,1098.0 946.7,1097.5 950.2,1097.1 953.6,1096.6 957.0,1096.2 960.4,1095.8 963.9,1095.3 967.3,1094.9 970.7,1094.5 974.1,1094.1 977.5,1093.7 981.0,1093.3 984.5,1092.9 988.0,1092.4 991.4,1091.9 994.8,1091.4 998.3,1091.0 1001.7,1090.5 1005.1,1090.0 1008.5,1089.6 1012.0,1089.1 1015.4,1088.7 1018.8,1088.3 1022.2,1087.8 1025.6,1087.4 1029.1,1087.0 1032.5,1086.6 1035.9,1086.2 1039.3,1085.8 1042.8,1085.4 1046.2,1085.0 1049.6,1084.6 1053.0,1084.2 1056.5,1083.9 1059.9,1083.5 1063.3,1083.2 1066.7,1082.8 1070.1,1082.5 1073.6,1082.1 1077.0,1081.8 1080.5,1081.5 1084.0,1081.1 1087.5,1080.6 1090.9,1080.1 1094.4,1079.7 1097.8,1079.2 1101.2,1078.8 1104.6,1078.4 1108.0,1077.9 1111.5,1077.5 1114.9,1077.1 1118.3,1076.7 1121.7,1076.3 1125.2,1075.9 1128.6,1075.5 1132.0,1075.1 1135.4,1074.8 1138.8,1074.4 1142.3,1074.0 1145.7,1073.7 1149.1,1073.3 1152.5,1073.0 1155.9,1072.7 1159.2,1072.4 1162.6,1072.2 1166.1,1072.0 1169.5,1071.8 1172.9,1071.6 1176.3,1071.4 1179.7,1071.2 1183.2,1071.0 1186.6,1070.8 1190.0,1070.7 1193.4,1070.5 1196.9,1070.3 1200.3,1070.2 1203.7,1070.1 1207.1,1069.9 1210.5,1069.8 1214.0,1069.7 1217.4,1069.5 1220.8,1069.4 1224.2,1069.3 1227.6,1069.2 1230.9,1069.2 1234.3,1069.3 1237.7,1069.3 1241.1,1069.4 1244.5,1069.5 1248.0,1069.5 1251.4,1069.6 1254.8,1069.7 1258.2,1069.8 1261.7,1069.9 1265.1,1070.0 1268.5,1070.1 1271.9,1070.2 1275.3,1070.3 1278.8,1070.5 1282.2,1070.6 1285.6,1070.7 1289.0,1070.9 1292.5,1071.0 1295.9,1071.2 1299.3,1071.4 1302.7,1071.5 1306.1,1071.7 1309.6,1071.9 1313.0,1072.1 1316.4,1072.3 1319.8,1072.5 1323.3,1072.7 1326.6,1072.9 1330.0,1073.2 1333.4,1073.5 1336.8,1073.8 1340.3,1074.1 1343.7,1074.4 1347.1,1074.7 1350.5,1075.1 1354.0,1075.4 1357.4,1075.7 1360.8,1076.1 1364.2,1076.4 1367.6,1076.8 1371.1,1077.2 1374.5,1077.5 1377.9,1077.9 1381.3,1078.3 1384.8,1078.7 1388.2,1079.1 1391.6,1079.4 1395.0,1079.8 1398.5,1080.3 1401.9,1080.7 1405.3,1081.1 1408.7,1081.5 1412.2,1081.9 1415.6,1082.4 1419.0,1082.8 1422.4,1083.2 1425.9,1083.7 1429.3,1084.1 1432.7,1084.6 1436.1,1085.1 1439.6,1085.5 1443.0,1086.0 1446.4,1086.5 1449.8,1087.0 1453.3,1087.4 1456.7,1087.9 1460.1,1088.4 1463.5,1088.9 1467.0,1089.4 1470.4,1089.9 1473.8,1090.5 1477.2,1091.0 1480.7,1091.5 1484.1,1092.0 1487.5,1092.6 1490.9,1093.1 1494.4,1093.6 1497.8,1094.2 1501.3,1094.8 1504.7,1095.3 1508.2,1095.8 1511.6,1096.3 1513.3,1084.9 1509.8,1084.4 1506.4,1083.9 1503.0,1083.4 1499.6,1082.8 1496.2,1082.3 1492.7,1081.7 1489.3,1081.2 1485.8,1080.7 1482.4,1080.1 1479.0,1079.6 1475.5,1079.1 1472.1,1078.6 1468.6,1078.1 1465.2,1077.6 1461.8,1077.0 1458.3,1076.6 1454.9,1076.1 1451.4,1075.6 1448.0,1075.1 1444.6,1074.6 1441.1,1074.1 1437.7,1073.7 1434.2,1073.2 1430.8,1072.7 1427.4,1072.3 1423.9,1071.8 1420.5,1071.4 1417.0,1070.9 1413.6,1070.5 1410.1,1070.1 1406.7,1069.7 1403.3,1069.2 1399.8,1068.8 1396.4,1068.4 1392.9,1068.0 1389.5,1067.6 1386.1,1067.2 1382.6,1066.8 1379.2,1066.5 1375.7,1066.1 1372.3,1065.7 1368.8,1065.4 1365.4,1065.0 1362.0,1064.6 1358.5,1064.3 1355.1,1064.0 1351.6,1063.6 1348.2,1063.3 1344.7,1063.0 1341.3,1062.7 1337.9,1062.3 1334.4,1062.0 1331.0,1061.7 1327.5,1061.4 1324.0,1061.2 1320.5,1061.0 1317.1,1060.8 1313.6,1060.6 1310.2,1060.4 1306.8,1060.2 1303.3,1060.1 1299.9,1059.9 1296.4,1059.7 1293.0,1059.6 1289.5,1059.4 1286.1,1059.3 1282.7,1059.1 1279.2,1059.0 1275.8,1058.8 1272.3,1058.7 1268.9,1058.6 1265.4,1058.5 1262.0,1058.4 1258.5,1058.3 1255.1,1058.2 1251.7,1058.1 1248.2,1058.0 1244.8,1058.0 1241.3,1057.9 1237.9,1057.8 1234.4,1057.8 1231.0,1057.7 1227.4,1057.7 1223.9,1057.8 1220.4,1057.9 1217.0,1058.0 1213.6,1058.2 1210.1,1058.3 1206.7,1058.4 1203.2,1058.6 1199.8,1058.7 1196.3,1058.9 1192.9,1059.0 1189.4,1059.2 1186.0,1059.4 1182.6,1059.5 1179.1,1059.7 1175.7,1059.9 1172.2,1060.1 1168.8,1060.3 1165.3,1060.5 1161.9,1060.7 1158.5,1061.0 1154.9,1061.2 1151.4,1061.6 1148.0,1061.9 1144.5,1062.2 1141.1,1062.6 1137.6,1063.0 1134.2,1063.3 1130.7,1063.7 1127.3,1064.1 1123.9,1064.5 1120.4,1064.9 1117.0,1065.3 1113.5,1065.7 1110.1,1066.1 1106.6,1066.5 1103.2,1067.0 1099.7,1067.4 1096.3,1067.8 1092.9,1068.3 1089.4,1068.7 1086.0,1069.2 1082.6,1069.7 1079.3,1070.0 1075.9,1070.3 1072.5,1070.7 1069.0,1071.0 1065.6,1071.4 1062.1,1071.7 1058.7,1072.1 1055.2,1072.4 1051.8,1072.8 1048.3,1073.2 1044.9,1073.6 1041.5,1074.0 1038.0,1074.3 1034.6,1074.7 1031.1,1075.2 1027.7,1075.6 1024.2,1076.0 1020.8,1076.4 1017.4,1076.9 1013.9,1077.3 1010.5,1077.7 1007.0,1078.2 1003.6,1078.6 1000.1,1079.1 996.7,1079.6 993.3,1080.1 989.8,1080.5 986.4,1081.0 983.0,1081.5 979.7,1081.9 976.2,1082.3 972.8,1082.7 969.3,1083.1 965.9,1083.5 962.4,1083.9 959.0,1084.4 955.6,1084.8 952.1,1085.2 948.7,1085.7 945.2,1086.1 941.8,1086.6 938.4,1087.0 934.9,1087.5 931.5,1088.0 928.0,1088.5 924.6,1088.9 921.1,1089.4 917.7,1089.9 914.3,1090.4 910.8,1090.9 907.4,1091.5 903.9,1092.0 900.5,1092.5 897.0,1093.0 893.6,1093.6 890.2,1094.1 886.7,1094.6 883.3,1095.2 879.8,1095.7 876.4,1096.3 873.0,1096.9 869.5,1097.4 866.1,1098.0 862.6,1098.6 859.2,1099.2 855.8,1099.8 852.3,1100.4 848.9,1101.0 845.4,1101.6 842.0,1102.2 838.6,1102.8 835.1,1103.4 831.7,1104.0 828.2,1104.7 824.8,1105.3 821.4,1105.9 817.9,1106.6 814.5,1107.2 811.0,1107.8 807.6,1108.5 804.2,1109.1 800.7,1109.8 797.3,1110.5 793.8,1111.1 790.4,1111.8 787.0,1112.5 783.5,1113.2 780.1,1113.8 776.6,1114.5 773.2,1115.2 769.8,1115.9 766.3,1116.6 762.9,1117.3 759.4,1118.0 756.0,1118.8 752.6,1119.5 749.1,1120.2 745.7,1120.9 742.2,1121.7 738.8,1122.4 735.4,1123.1 731.9,1123.9 728.5,1124.6 725.0,1125.4 721.6,1126.1 718.2,1126.9 714.7,1127.6 711.3,1128.4 707.9,1129.2 704.4,1129.9 701.0,1130.7 697.5,1131.5 694.1,1132.3 690.7,1133.0 687.2,1133.8 683.8,1134.6 680.4,1135.4 676.9,1136.2 673.5,1137.0 670.0,1137.8 666.6,1138.6 663.2,1139.4 659.7,1140.2 656.3,1141.0 652.9,1141.8 649.4,1142.7 646.0,1143.5 642.5,1144.3 639.1,1145.1 635.7,1146.0 632.3,1146.7 628.9,1147.5 625.5,1148.3 622.1,1149.0 618.6,1149.8 615.2,1150.5 611.8,1151.3 608.3,1152.0 604.9,1152.8 601.5,1153.5 598.1,1154.2 594.7,1154.9 591.3,1155.6 587.9,1156.2 584.5,1156.8 581.2,1157.4 578.0,1157.8 574.7,1158.2 571.4,1158.4 568.2,1158.6 565.0,1158.6 561.7,1158.5 558.4,1158.4 555.2,1158.2 552.1,1157.8 549.0,1157.2 545.9,1156.5 542.9,1155.5 539.8,1154.2 536.6,1152.6 533.3,1151.0 530.0,1149.1 526.6,1147.0 523.0,1145.1 519.1,1143.2 515.0,1141.7 511.0,1140.8 507.2,1140.3 503.7,1140.0 500.3,1139.6 496.8,1139.2 493.2,1138.9 489.5,1138.8 486.0,1138.8 482.5,1138.8 479.1,1138.8 475.2,1138.8 470.9,1139.5 467.9,1140.5 465.4,1140.4"/>
<polygon fill="#7E2F8E" clip-path="url(#gi4)" points="465.4,1154.1 468.3,1154.1 471.3,1154.6 474.7,1155.2 478.2,1155.8 481.6,1156.3 485.0,1156.9 488.5,1157.5 491.9,1158.0 495.3,1158.6 498.8,1159.2 502.2,1159.8 505.6,1160.3 509.0,1160.9 512.4,1161.5 515.7,1162.1 519.1,1162.9 522.5,1163.6 525.9,1164.4 529.3,1165.1 532.9,1165.9 536.4,1166.6 540.0,1167.2 543.5,1167.7 546.9,1168.2 550.5,1168.7 554.1,1169.1 557.7,1169.4 561.4,1169.6 565.0,1169.6 568.7,1169.4 572.2,1169.2 575.6,1169.0 579.2,1168.7 582.7,1168.3 586.2,1167.9 589.7,1167.5 593.1,1167.0 596.6,1166.5 600.1,1166.0 603.6,1165.5 607.1,1164.9 610.5,1164.3 613.9,1163.7 617.4,1163.2 620.8,1162.6 624.2,1162.0 627.7,1161.4 631.1,1160.9 634.6,1160.2 638.2,1159.5 641.8,1158.7 645.2,1157.9 648.7,1157.1 652.1,1156.3 655.5,1155.4 658.9,1154.6 662.4,1153.8 665.8,1153.0 669.2,1152.2 672.7,1151.4 676.1,1150.6 679.5,1149.8 682.9,1149.0 686.4,1148.2 689.8,1147.4 693.2,1146.7 696.7,1145.9 700.1,1145.1 703.5,1144.3 706.9,1143.6 710.4,1142.8 713.8,1142.0 717.2,1141.3 720.6,1140.5 724.1,1139.8 727.5,1139.0 730.9,1138.3 734.4,1137.5 737.8,1136.8 741.2,1136.0 744.6,1135.3 748.1,1134.6 751.5,1133.9 754.9,1133.1 758.3,1132.4 761.8,1131.7 765.2,1131.0 768.6,1130.3 772.1,1129.6 775.5,1128.9 778.9,1128.2 782.3,1127.5 785.8,1126.9 789.2,1126.2 792.6,1125.5 796.0,1124.8 799.5,1124.2 802.9,1123.5 806.3,1122.9 809.7,1122.2 813.2,1121.6 816.6,1120.9 820.0,1120.3 823.4,1119.6 826.9,1119.0 830.3,1118.4 833.7,1117.8 837.1,1117.2 840.5,1116.6 843.9,1116.0 847.3,1115.5 850.8,1114.9 854.2,1114.4 857.6,1113.8 861.0,1113.3 864.5,1112.8 867.9,1112.3 871.3,1111.7 874.7,1111.2 878.2,1110.7 881.6,1110.2 885.0,1109.7 888.4,1109.2 891.9,1108.8 895.3,1108.3 898.7,1107.8 902.1,1107.3 905.6,1106.9 909.0,1106.4 912.4,1106.0 915.8,1105.5 919.3,1105.1 922.7,1104.6 926.1,1104.2 929.5,1103.8 932.9,1103.4 936.4,1102.9 939.8,1102.5 943.2,1102.1 946.6,1101.7 950.1,1101.3 953.5,1101.0 956.9,1100.6 960.3,1100.2 963.8,1099.8 967.2,1099.5 970.6,1099.1 974.0,1098.8 977.5,1098.4 980.9,1098.1 984.4,1097.8 987.9,1097.3 991.4,1096.8 994.8,1096.4 998.2,1095.9 1001.6,1095.5 1005.1,1095.1 1008.5,1094.7 1011.9,1094.3 1015.3,1093.9 1018.7,1093.4 1022.2,1093.1 1025.6,1092.7 1029.0,1092.3 1032.4,1091.9 1035.9,1091.5 1039.3,1091.2 1042.7,1090.8 1046.1,1090.5 1049.5,1090.1 1053.0,1089.8 1056.4,1089.4 1059.8,1089.1 1063.2,1088.8 1066.7,1088.5 1070.1,1088.2 1073.5,1087.9 1076.9,1087.6 1080.4,1087.3 1083.9,1086.9 1087.4,1086.5 1090.8,1086.1 1094.3,1085.7 1097.7,1085.3 1101.1,1085.0 1104.5,1084.6 1107.9,1084.2 1111.4,1083.8 1114.8,1083.5 1118.2,1083.1 1121.6,1082.8 1125.1,1082.5 1128.5,1082.1 1131.9,1081.8 1135.3,1081.5 1138.8,1081.2 1142.2,1080.9 1145.6,1080.6 1149.0,1080.3 1152.4,1080.0 1155.8,1079.7 1159.2,1079.5 1162.6,1079.3 1166.0,1079.1 1169.5,1078.9 1172.9,1078.7 1176.3,1078.5 1179.7,1078.3 1183.2,1078.1 1186.6,1078.0 1190.0,1077.8 1193.4,1077.7 1196.8,1077.5 1200.3,1077.4 1203.7,1077.2 1207.1,1077.1 1210.5,1077.0 1214.0,1076.9 1217.4,1076.7 1220.8,1076.6 1224.2,1076.5 1227.5,1076.5 1230.8,1076.5 1234.2,1076.6 1237.7,1076.6 1241.1,1076.7 1244.5,1076.8 1247.9,1076.9 1251.4,1077.0 1254.8,1077.1 1258.2,1077.2 1261.6,1077.3 1265.0,1077.5 1268.5,1077.6 1271.9,1077.7 1275.3,1077.9 1278.7,1078.0 1282.2,1078.2 1285.6,1078.3 1289.0,1078.5 1292.4,1078.7 1295.8,1078.9 1299.3,1079.0 1302.7,1079.2 1306.1,1079.4 1309.5,1079.6 1313.0,1079.8 1316.4,1080.1 1319.8,1080.3 1323.2,1080.5 1326.7,1080.7 1330.1,1081.0 1333.5,1081.2 1336.9,1081.5 1340.3,1081.7 1343.8,1082.0 1347.2,1082.3 1350.6,1082.5 1354.0,1082.8 1357.5,1083.1 1360.9,1083.4 1364.3,1083.7 1367.7,1084.0 1371.2,1084.3 1374.6,1084.6 1378.0,1084.9 1381.4,1085.2 1384.9,1085.6 1388.3,1085.9 1391.7,1086.3 1395.1,1086.6 1398.6,1086.9 1402.0,1087.3 1405.4,1087.7 1408.8,1088.0 1412.3,1088.4 1415.7,1088.8 1419.1,1089.2 1422.5,1089.5 1425.9,1089.9 1429.4,1090.3 1432.8,1090.7 1436.2,1091.1 1439.6,1091.6 1443.1,1092.0 1446.5,1092.4 1449.9,1092.8 1453.3,1093.3 1456.8,1093.7 1460.2,1094.1 1463.6,1094.6 1467.0,1095.0 1470.5,1095.5 1473.9,1095.9 1477.3,1096.4 1480.8,1096.9 1484.2,1097.4 1487.6,1097.8 1491.0,1098.3 1494.5,1098.8 1497.9,1099.3 1501.3,1099.8 1504.7,1100.3 1508.2,1100.8 1511.6,1101.3 1513.3,1089.9 1509.8,1089.4 1506.4,1088.9 1503.0,1088.4 1499.5,1087.9 1496.1,1087.4 1492.6,1086.9 1489.2,1086.4 1485.8,1086.0 1482.3,1085.5 1478.9,1085.0 1475.4,1084.6 1472.0,1084.1 1468.6,1083.6 1465.1,1083.2 1461.7,1082.7 1458.2,1082.3 1454.8,1081.8 1451.4,1081.4 1447.9,1081.0 1444.5,1080.6 1441.0,1080.1 1437.6,1079.7 1434.1,1079.3 1430.7,1078.9 1427.3,1078.5 1423.8,1078.1 1420.4,1077.7 1416.9,1077.3 1413.5,1077.0 1410.1,1076.6 1406.6,1076.2 1403.2,1075.9 1399.7,1075.5 1396.3,1075.2 1392.8,1074.8 1389.4,1074.5 1386.0,1074.1 1382.5,1073.8 1379.1,1073.5 1375.6,1073.2 1372.2,1072.8 1368.8,1072.5 1365.3,1072.2 1361.9,1071.9 1358.4,1071.6 1355.0,1071.4 1351.5,1071.1 1348.1,1070.8 1344.7,1070.5 1341.2,1070.3 1337.8,1070.0 1334.3,1069.8 1330.9,1069.5 1327.4,1069.3 1324.0,1069.0 1320.6,1068.8 1317.1,1068.6 1313.7,1068.4 1310.2,1068.2 1306.8,1068.0 1303.3,1067.8 1299.9,1067.6 1296.5,1067.4 1293.0,1067.2 1289.6,1067.0 1286.1,1066.9 1282.7,1066.7 1279.2,1066.5 1275.8,1066.4 1272.4,1066.2 1268.9,1066.1 1265.5,1066.0 1262.0,1065.8 1258.6,1065.7 1255.1,1065.6 1251.7,1065.5 1248.3,1065.4 1244.8,1065.3 1241.4,1065.2 1237.9,1065.1 1234.5,1065.1 1231.0,1065.0 1227.4,1065.0 1223.9,1065.0 1220.5,1065.1 1217.0,1065.3 1213.6,1065.4 1210.1,1065.5 1206.7,1065.6 1203.2,1065.7 1199.8,1065.9 1196.4,1066.0 1192.9,1066.2 1189.5,1066.3 1186.0,1066.5 1182.6,1066.7 1179.1,1066.8 1175.7,1067.0 1172.2,1067.2 1168.8,1067.4 1165.4,1067.6 1161.9,1067.8 1158.5,1068.0 1155.0,1068.2 1151.5,1068.5 1148.0,1068.8 1144.6,1069.1 1141.2,1069.4 1137.7,1069.7 1134.3,1070.0 1130.8,1070.4 1127.4,1070.7 1123.9,1071.0 1120.5,1071.4 1117.1,1071.7 1113.6,1072.0 1110.2,1072.4 1106.7,1072.8 1103.3,1073.1 1099.8,1073.5 1096.4,1073.9 1093.0,1074.3 1089.5,1074.7 1086.1,1075.1 1082.7,1075.5 1079.4,1075.8 1076.0,1076.1 1072.5,1076.4 1069.1,1076.7 1065.6,1077.0 1062.2,1077.3 1058.7,1077.7 1055.3,1078.0 1051.8,1078.3 1048.4,1078.7 1045.0,1079.0 1041.5,1079.4 1038.1,1079.7 1034.6,1080.1 1031.2,1080.5 1027.7,1080.9 1024.3,1081.2 1020.9,1081.6 1017.4,1082.0 1014.0,1082.4 1010.5,1082.8 1007.1,1083.3 1003.6,1083.7 1000.2,1084.1 996.8,1084.5 993.3,1085.0 989.9,1085.4 986.4,1085.9 983.1,1086.3 979.8,1086.7 976.3,1087.0 972.9,1087.3 969.4,1087.7 966.0,1088.0 962.5,1088.4 959.1,1088.8 955.7,1089.2 952.2,1089.5 948.8,1089.9 945.3,1090.3 941.9,1090.7 938.4,1091.1 935.0,1091.5 931.6,1091.9 928.1,1092.4 924.7,1092.8 921.2,1093.2 917.8,1093.7 914.4,1094.1 910.9,1094.6 907.5,1095.0 904.0,1095.5 900.6,1095.9 897.1,1096.4 893.7,1096.9 890.3,1097.4 886.8,1097.9 883.4,1098.3 879.9,1098.8 876.5,1099.3 873.0,1099.9 869.6,1100.4 866.2,1100.9 862.7,1101.4 859.3,1101.9 855.8,1102.5 852.4,1103.0 849.0,1103.6 845.5,1104.1 842.1,1104.7 838.6,1105.2 835.1,1105.8 831.7,1106.5 828.2,1107.1 824.8,1107.7 821.4,1108.3 817.9,1109.0 814.5,1109.6 811.0,1110.3 807.6,1110.9 804.2,1111.6 800.7,1112.2 797.3,1112.9 793.8,1113.5 790.4,1114.2 787.0,1114.9 783.5,1115.6 780.1,1116.3 776.6,1116.9 773.2,1117.6 769.8,1118.3 766.3,1119.0 762.9,1119.7 759.4,1120.5 756.0,1121.2 752.6,1121.9 749.1,1122.6 745.7,1123.3 742.2,1124.1 738.8,1124.8 735.4,1125.5 731.9,1126.3 728.5,1127.0 725.0,1127.8 721.6,1128.5 718.2,1129.3 714.7,1130.0 711.3,1130.8 707.9,1131.6 704.4,1132.3 701.0,1133.1 697.5,1133.9 694.1,1134.7 690.7,1135.4 687.2,1136.2 683.8,1137.0 680.4,1137.8 676.9,1138.6 673.5,1139.4 670.0,1140.2 666.6,1141.0 663.2,1141.8 659.7,1142.6 656.3,1143.4 652.9,1144.3 649.4,1145.1 646.0,1145.9 642.5,1146.7 639.1,1147.5 635.8,1148.3 632.5,1148.9 629.2,1149.5 625.8,1150.1 622.3,1150.7 618.9,1151.2 615.5,1151.8 612.0,1152.4 608.6,1153.0 605.2,1153.5 601.8,1154.1 598.4,1154.7 595.0,1155.2 591.6,1155.6 588.2,1156.1 584.8,1156.5 581.5,1156.9 578.1,1157.2 574.8,1157.5 571.4,1157.7 568.1,1158.0 564.8,1158.1 561.6,1158.1 558.4,1157.9 555.2,1157.7 551.9,1157.3 548.6,1156.8 545.1,1156.3 541.8,1155.9 538.5,1155.3 535.2,1154.7 531.8,1153.9 528.4,1153.2 525.0,1152.4 521.5,1151.6 518.0,1150.9 514.5,1150.2 511.0,1149.6 507.5,1149.0 504.1,1148.4 500.6,1147.8 497.2,1147.3 493.8,1146.7 490.3,1146.1 486.9,1145.6 483.5,1145.0 480.0,1144.4 476.6,1143.8 473.2,1143.3 469.3,1142.6 465.4,1142.6"/>
<polygon fill="#0072BD" clip-path="url(#gi0)" points="465.4,1174.5 469.5,1174.4 473.5,1173.5 477.0,1172.7 480.4,1171.9 483.8,1171.1 487.3,1170.3 490.7,1169.5 494.1,1168.7 497.6,1167.9 501.0,1167.1 504.4,1166.3 507.9,1165.5 511.3,1164.7 514.7,1163.9 518.2,1163.1 521.6,1162.3 525.0,1161.5 528.5,1160.7 531.9,1159.9 535.3,1159.1 538.8,1158.3 542.2,1157.5 545.6,1156.7 549.1,1155.9 552.5,1155.1 555.9,1154.3 559.3,1153.5 562.8,1152.7 566.2,1152.0 569.6,1151.2 573.1,1150.4 576.5,1149.6 579.9,1148.8 583.4,1148.1 586.8,1147.3 590.2,1146.5 593.6,1145.7 597.1,1145.0 600.5,1144.2 603.9,1143.4 607.4,1142.7 610.8,1141.9 614.2,1141.1 617.7,1140.4 621.1,1139.6 624.5,1138.9 627.9,1138.1 631.4,1137.4 634.8,1136.6 638.2,1135.9 641.7,1135.1 645.1,1134.4 648.5,1133.7 652.0,1132.9 655.4,1132.2 658.8,1131.5 662.2,1130.7 665.7,1130.0 669.1,1129.3 672.5,1128.6 676.0,1127.9 679.4,1127.2 682.8,1126.5 686.2,1125.7 689.7,1125.0 693.1,1124.3 696.5,1123.7 699.9,1123.0 703.4,1122.3 706.8,1121.6 710.2,1120.9 713.7,1120.2 717.1,1119.5 720.5,1118.9 723.9,1118.2 727.4,1117.5 730.8,1116.9 734.2,1116.2 737.6,1115.6 741.1,1114.9 744.5,1114.3 747.9,1113.6 751.4,1113.0 754.8,1112.4 758.2,1111.7 761.6,1111.1 765.1,1110.5 768.5,1109.9 771.9,1109.2 775.3,1108.6 778.8,1108.0 782.2,1107.4 785.6,1106.8 789.0,1106.2 792.5,1105.6 795.9,1105.1 799.3,1104.5 802.7,1103.9 806.2,1103.3 809.6,1102.8 813.0,1102.2 816.5,1101.7 819.9,1101.1 823.3,1100.6 826.7,1100.0 830.2,1099.5 833.6,1098.9 837.0,1098.4 840.4,1097.9 843.9,1097.4 847.3,1096.9 850.7,1096.3 854.1,1095.8 857.6,1095.3 861.0,1094.8 864.4,1094.4 867.8,1093.9 871.3,1093.4 874.7,1092.9 878.1,1092.5 881.5,1092.0 885.0,1091.5 888.4,1091.1 891.8,1090.6 895.2,1090.2 898.6,1089.8 902.1,1089.3 905.5,1088.9 908.9,1088.5 912.3,1088.1 915.8,1087.7 919.2,1087.2 922.6,1086.9 926.0,1086.5 929.5,1086.1 932.9,1085.7 936.3,1085.3 939.7,1084.9 943.2,1084.6 946.6,1084.2 950.0,1083.9 953.4,1083.5 956.9,1083.2 960.3,1082.8 963.7,1082.5 967.1,1082.2 970.5,1081.9 974.0,1081.6 977.4,1081.3 980.8,1081.0 984.2,1080.7 987.7,1080.4 991.1,1080.1 994.5,1079.8 997.9,1079.6 1001.4,1079.3 1004.8,1079.0 1008.2,1078.8 1011.6,1078.5 1015.0,1078.3 1018.5,1078.1 1021.9,1077.8 1025.3,1077.6 1028.7,1077.4 1032.2,1077.2 1035.6,1077.0 1039.0,1076.8 1042.4,1076.6 1045.8,1076.4 1049.3,1076.2 1052.7,1076.1 1056.1,1075.9 1059.5,1075.7 1063.0,1075.6 1066.4,1075.4 1069.8,1075.3 1073.2,1075.2 1076.6,1075.0 1080.1,1074.9 1083.5,1074.8 1086.9,1074.7 1090.3,1074.6 1093.8,1074.5 1097.2,1074.4 1100.6,1074.3 1104.0,1074.3 1107.4,1074.2 1110.9,1074.1 1114.3,1074.1 1117.7,1074.0 1121.1,1074.0 1124.6,1073.9 1128.0,1073.9 1131.4,1073.9 1134.8,1073.9 1138.2,1073.9 1141.7,1073.9 1145.1,1073.9 1148.5,1073.9 1151.9,1073.9 1155.4,1073.9 1158.8,1073.9 1162.2,1074.0 1165.6,1074.0 1169.0,1074.0 1172.5,1074.1 1175.9,1074.1 1179.3,1074.2 1182.7,1074.3 1186.2,1074.4 1189.6,1074.4 1193.0,1074.5 1196.4,1074.6 1199.9,1074.7 1203.3,1074.8 1206.7,1075.0 1210.1,1075.1 1213.5,1075.2 1217.0,1075.4 1220.4,1075.5 1223.8,1075.6 1227.2,1075.8 1230.7,1076.0 1234.1,1076.1 1237.5,1076.3 1240.9,1076.5 1244.3,1076.7 1247.8,1076.8 1251.2,1077.0 1254.6,1077.3 1258.0,1077.5 1261.5,1077.7 1264.9,1077.9 1268.3,1078.1 1271.7,1078.4 1275.1,1078.6 1278.6,1078.9 1282.0,1079.1 1285.4,1079.4 1288.8,1079.6 1292.3,1079.9 1295.7,1080.2 1299.1,1080.5 1302.5,1080.8 1306.0,1081.0 1309.4,1081.4 1312.8,1081.7 1316.2,1082.0 1319.6,1082.3 1323.1,1082.6 1326.5,1082.9 1329.9,1083.3 1333.3,1083.6 1336.8,1084.0 1340.2,1084.3 1343.6,1084.7 1347.0,1085.1 1350.5,1085.4 1353.9,1085.8 1357.3,1086.2 1360.7,1086.6 1364.2,1087.0 1367.6,1087.4 1371.0,1087.8 1374.4,1088.2 1377.8,1088.6 1381.3,1089.0 1384.7,1089.5 1388.1,1089.9 1391.5,1090.3 1395.0,1090.8 1398.4,1091.2 1401.8,1091.7 1405.2,1092.1 1408.7,1092.6 1412.1,1093.1 1415.5,1093.5 1418.9,1094.0 1422.4,1094.5 1425.8,1095.0 1429.2,1095.5 1432.6,1096.0 1436.1,1096.5 1439.5,1097.0 1442.9,1097.5 1446.3,1098.0 1449.8,1098.6 1453.2,1099.1 1456.6,1099.6 1460.0,1100.2 1463.5,1100.7 1466.9,1101.3 1470.3,1101.8 1473.7,1102.4 1477.2,1102.9 1480.6,1103.5 1484.0,1104.1 1487.4,1104.7 1490.9,1105.2 1494.3,1105.8 1497.7,1106.4 1501.1,1107.0 1504.6,1107.6 1508.0,1108.2 1511.4,1108.8 1513.4,1097.5 1510.0,1096.9 1506.6,1096.3 1503.1,1095.7 1499.7,1095.1 1496.2,1094.5 1492.8,1093.9 1489.4,1093.3 1485.9,1092.7 1482.5,1092.2 1479.0,1091.6 1475.6,1091.0 1472.2,1090.5 1468.7,1089.9 1465.3,1089.4 1461.8,1088.8 1458.4,1088.3 1455.0,1087.7 1451.5,1087.2 1448.1,1086.7 1444.6,1086.1 1441.2,1085.6 1437.7,1085.1 1434.3,1084.6 1430.9,1084.1 1427.4,1083.6 1424.0,1083.1 1420.5,1082.6 1417.1,1082.1 1413.7,1081.7 1410.2,1081.2 1406.8,1080.7 1403.3,1080.3 1399.9,1079.8 1396.5,1079.4 1393.0,1078.9 1389.6,1078.5 1386.1,1078.0 1382.7,1077.6 1379.2,1077.2 1375.8,1076.8 1372.4,1076.4 1368.9,1075.9 1365.5,1075.5 1362.0,1075.2 1358.6,1074.8 1355.1,1074.4 1351.7,1074.0 1348.3,1073.6 1344.8,1073.3 1341.4,1072.9 1337.9,1072.5 1334.5,1072.2 1331.1,1071.8 1327.6,1071.5 1324.2,1071.2 1320.7,1070.8 1317.3,1070.5 1313.8,1070.2 1310.4,1069.9 1307.0,1069.6 1303.5,1069.3 1300.1,1069.0 1296.6,1068.7 1293.2,1068.4 1289.7,1068.2 1286.3,1067.9 1282.9,1067.6 1279.4,1067.4 1276.0,1067.1 1272.5,1066.9 1269.1,1066.7 1265.6,1066.4 1262.2,1066.2 1258.7,1066.0 1255.3,1065.8 1251.9,1065.6 1248.4,1065.4 1245.0,1065.2 1241.5,1065.0 1238.1,1064.8 1234.6,1064.6 1231.2,1064.5 1227.8,1064.3 1224.3,1064.2 1220.9,1064.0 1217.4,1063.9 1214.0,1063.7 1210.5,1063.6 1207.1,1063.5 1203.7,1063.4 1200.2,1063.2 1196.8,1063.1 1193.3,1063.0 1189.9,1063.0 1186.4,1062.9 1183.0,1062.8 1179.5,1062.7 1176.1,1062.7 1172.7,1062.6 1169.2,1062.5 1165.8,1062.5 1162.3,1062.5 1158.9,1062.4 1155.4,1062.4 1152.0,1062.4 1148.6,1062.4 1145.1,1062.4 1141.7,1062.4 1138.2,1062.4 1134.8,1062.4 1131.3,1062.4 1127.9,1062.4 1124.4,1062.4 1121.0,1062.5 1117.6,1062.5 1114.1,1062.6 1110.7,1062.6 1107.2,1062.7 1103.8,1062.8 1100.3,1062.8 1096.9,1062.9 1093.5,1063.0 1090.0,1063.1 1086.6,1063.2 1083.1,1063.3 1079.7,1063.4 1076.2,1063.6 1072.8,1063.7 1069.3,1063.8 1065.9,1064.0 1062.5,1064.1 1059.0,1064.3 1055.6,1064.4 1052.1,1064.6 1048.7,1064.8 1045.2,1064.9 1041.8,1065.1 1038.4,1065.3 1034.9,1065.5 1031.5,1065.7 1028.0,1065.9 1024.6,1066.1 1021.1,1066.4 1017.7,1066.6 1014.3,1066.8 1010.8,1067.1 1007.4,1067.3 1003.9,1067.6 1000.5,1067.8 997.0,1068.1 993.6,1068.4 990.1,1068.6 986.7,1068.9 983.3,1069.2 979.8,1069.5 976.4,1069.8 972.9,1070.1 969.5,1070.4 966.0,1070.7 962.6,1071.1 959.2,1071.4 955.7,1071.7 952.3,1072.1 948.8,1072.4 945.4,1072.8 942.0,1073.1 938.5,1073.5 935.1,1073.9 931.6,1074.3 928.2,1074.6 924.7,1075.0 921.3,1075.4 917.9,1075.8 914.4,1076.2 911.0,1076.6 907.5,1077.1 904.1,1077.5 900.6,1077.9 897.2,1078.3 893.8,1078.8 890.3,1079.2 886.9,1079.7 883.4,1080.1 880.0,1080.6 876.6,1081.1 873.1,1081.5 869.7,1082.0 866.2,1082.5 862.8,1083.0 859.3,1083.5 855.9,1084.0 852.5,1084.5 849.0,1085.0 845.6,1085.5 842.1,1086.0 838.7,1086.5 835.3,1087.0 831.8,1087.6 828.4,1088.1 824.9,1088.6 821.5,1089.2 818.1,1089.7 814.6,1090.3 811.2,1090.9 807.7,1091.4 804.3,1092.0 800.9,1092.6 797.4,1093.1 794.0,1093.7 790.5,1094.3 787.1,1094.9 783.7,1095.5 780.2,1096.1 776.8,1096.7 773.3,1097.3 769.9,1097.9 766.5,1098.5 763.0,1099.2 759.6,1099.8 756.1,1100.4 752.7,1101.0 749.3,1101.7 745.8,1102.3 742.4,1103.0 738.9,1103.6 735.5,1104.3 732.1,1104.9 728.6,1105.6 725.2,1106.3 721.7,1106.9 718.3,1107.6 714.9,1108.3 711.4,1108.9 708.0,1109.6 704.6,1110.3 701.1,1111.0 697.7,1111.7 694.2,1112.4 690.8,1113.1 687.4,1113.8 683.9,1114.5 680.5,1115.2 677.0,1115.9 673.6,1116.6 670.2,1117.3 666.7,1118.1 663.3,1118.8 659.9,1119.5 656.4,1120.2 653.0,1121.0 649.5,1121.7 646.1,1122.4 642.7,1123.2 639.2,1123.9 635.8,1124.6 632.4,1125.4 628.9,1126.1 625.5,1126.9 622.1,1127.6 618.6,1128.4 615.2,1129.2 611.7,1129.9 608.3,1130.7 604.9,1131.4 601.4,1132.2 598.0,1133.0 594.6,1133.7 591.1,1134.5 587.7,1135.3 584.3,1136.1 580.8,1136.8 577.4,1137.6 573.9,1138.4 570.5,1139.2 567.1,1140.0 563.6,1140.7 560.2,1141.5 556.8,1142.3 553.3,1143.1 549.9,1143.9 546.5,1144.7 543.0,1145.5 539.6,1146.3 536.2,1147.1 532.7,1147.9 529.3,1148.7 525.9,1149.5 522.4,1150.3 519.0,1151.1 515.6,1151.9 512.1,1152.7 508.7,1153.5 505.3,1154.3 501.8,1155.1 498.4,1155.9 495.0,1156.7 491.5,1157.5 488.1,1158.3 484.7,1159.1 481.2,1159.9 477.8,1160.7 474.4,1161.5 470.9,1162.3 468.1,1163.0 465.4,1163.0"/>
</g>
<rect x="598.2" y="169.3" width="1594.9" height="106.2" fill="#ffffff" stroke="#262626" stroke-width="3" shape-rendering="crispEdges"/>
<line x1="616.0" y1="224" x2="820.0" y2="224" stroke="#0072BD" stroke-width="14"/>
<line x1="934.0" y1="224" x2="1141.0" y2="224" stroke="#FF0000" stroke-width="14"/>
<line x1="1255.0" y1="224" x2="1458.5" y2="224" stroke="#00FF00" stroke-width="14"/>
<line x1="1575.0" y1="224" x2="1779.3" y2="224" stroke="#0000FF" stroke-width="14"/>
<line x1="1893.0" y1="224" x2="2100.0" y2="224" stroke="#00FFFF" stroke-width="14"/>
<text transform="translate(833.0,230.6) scale(1.110,1)" font-size="54.6" text-anchor="start" style="fill:#000000">y<tspan dy="26" font-size="45">0</tspan></text>
<text transform="translate(1154.1,230.6) scale(1.110,1)" font-size="54.6" text-anchor="start" style="fill:#000000">y<tspan dy="26" font-size="45">1</tspan></text>
<text transform="translate(1474.2,230.6) scale(1.110,1)" font-size="54.6" text-anchor="start" style="fill:#000000">y<tspan dy="26" font-size="45">2</tspan></text>
<text transform="translate(1793.5,230.6) scale(1.110,1)" font-size="54.6" text-anchor="start" style="fill:#000000">y<tspan dy="26" font-size="45">3</tspan></text>
<text transform="translate(2113.5,230.6) scale(1.110,1)" font-size="54.6" text-anchor="start" style="fill:#000000">y<tspan dy="26" font-size="45">4</tspan></text>
<text transform="translate(224.0,190.3) scale(1.100,1)" font-size="60.7" text-anchor="end">2</text>
<text transform="translate(224.0,345.7) scale(1.100,1)" font-size="60.7" text-anchor="end">1.5</text>
<text transform="translate(226.0,498.3) scale(1.100,1)" font-size="60.7" text-anchor="end">1</text>
<text transform="translate(224.0,654.5) scale(1.100,1)" font-size="60.7" text-anchor="end">0.5</text>
<text transform="translate(224.0,807.7) scale(1.100,1)" font-size="60.7" text-anchor="end">0</text>
<text transform="translate(224.0,963.7) scale(1.100,1)" font-size="60.7" text-anchor="end"><tspan textLength="25.7" lengthAdjust="spacingAndGlyphs">-</tspan>0.5</text>
<text transform="translate(226.0,1115.1) scale(1.100,1)" font-size="60.7" text-anchor="end"><tspan textLength="25.7" lengthAdjust="spacingAndGlyphs">-</tspan>1</text>
<text transform="translate(224.0,1270.1) scale(1.100,1)" font-size="60.7" text-anchor="end"><tspan textLength="25.7" lengthAdjust="spacingAndGlyphs">-</tspan>1.5</text>
<text transform="translate(224.0,1423.6) scale(1.100,1)" font-size="60.7" text-anchor="end"><tspan textLength="25.7" lengthAdjust="spacingAndGlyphs">-</tspan>2</text>
<text transform="translate(224.0,1578.9) scale(1.100,1)" font-size="60.7" text-anchor="end"><tspan textLength="25.7" lengthAdjust="spacingAndGlyphs">-</tspan>2.5</text>
<text transform="translate(249.0,1642.8) scale(1.100,1)" font-size="60.7" text-anchor="middle">0</text>
<text transform="translate(982.2,1642.8) scale(1.100,1)" font-size="60.7" text-anchor="middle">5</text>
<text transform="translate(1714.6,1642.8) scale(1.100,1)" font-size="60.7" text-anchor="middle">10</text>
<text transform="translate(2447.0,1642.8) scale(1.100,1)" font-size="60.7" text-anchor="middle">15</text>
<text transform="translate(1348.0,1733.0) scale(1.100,1)" font-size="68.5" text-anchor="middle">Time(sec)</text>
<text transform="translate(65,786) scale(1.100,1) rotate(-90)" font-size="67" text-anchor="middle">leader</text>
<text transform="translate(463.0,986.2) scale(1.090,1)" font-size="52.0" text-anchor="end">1</text>
<text transform="translate(459.5,1087.1) scale(1.090,1)" font-size="52.0" text-anchor="end">0.5</text>
<text transform="translate(459.5,1187.4) scale(1.090,1)" font-size="52.0" text-anchor="end">0</text>
<text transform="translate(459.5,1291.0) scale(1.090,1)" font-size="52.0" text-anchor="end">-0.5</text>
<text transform="translate(463.0,1392.3) scale(1.090,1)" font-size="52.0" text-anchor="end"><tspan textLength="21.8" lengthAdjust="spacingAndGlyphs">-</tspan>1</text>
<text transform="translate(469.4,1429.8) scale(1.090,1)" font-size="52.0" text-anchor="middle">0</text>
<text transform="translate(640.4,1429.8) scale(1.090,1)" font-size="52.0" text-anchor="middle">1</text>
<text transform="translate(811.4,1429.8) scale(1.090,1)" font-size="52.0" text-anchor="middle">2</text>
<text transform="translate(982.4,1429.8) scale(1.090,1)" font-size="52.0" text-anchor="middle">3</text>
<text transform="translate(1153.4,1429.8) scale(1.090,1)" font-size="52.0" text-anchor="middle">4</text>
<text transform="translate(1324.4,1429.8) scale(1.090,1)" font-size="52.0" text-anchor="middle">5</text>
<text transform="translate(1495.4,1429.8) scale(1.090,1)" font-size="52.0" text-anchor="middle">6</text>
</svg></body></html>
